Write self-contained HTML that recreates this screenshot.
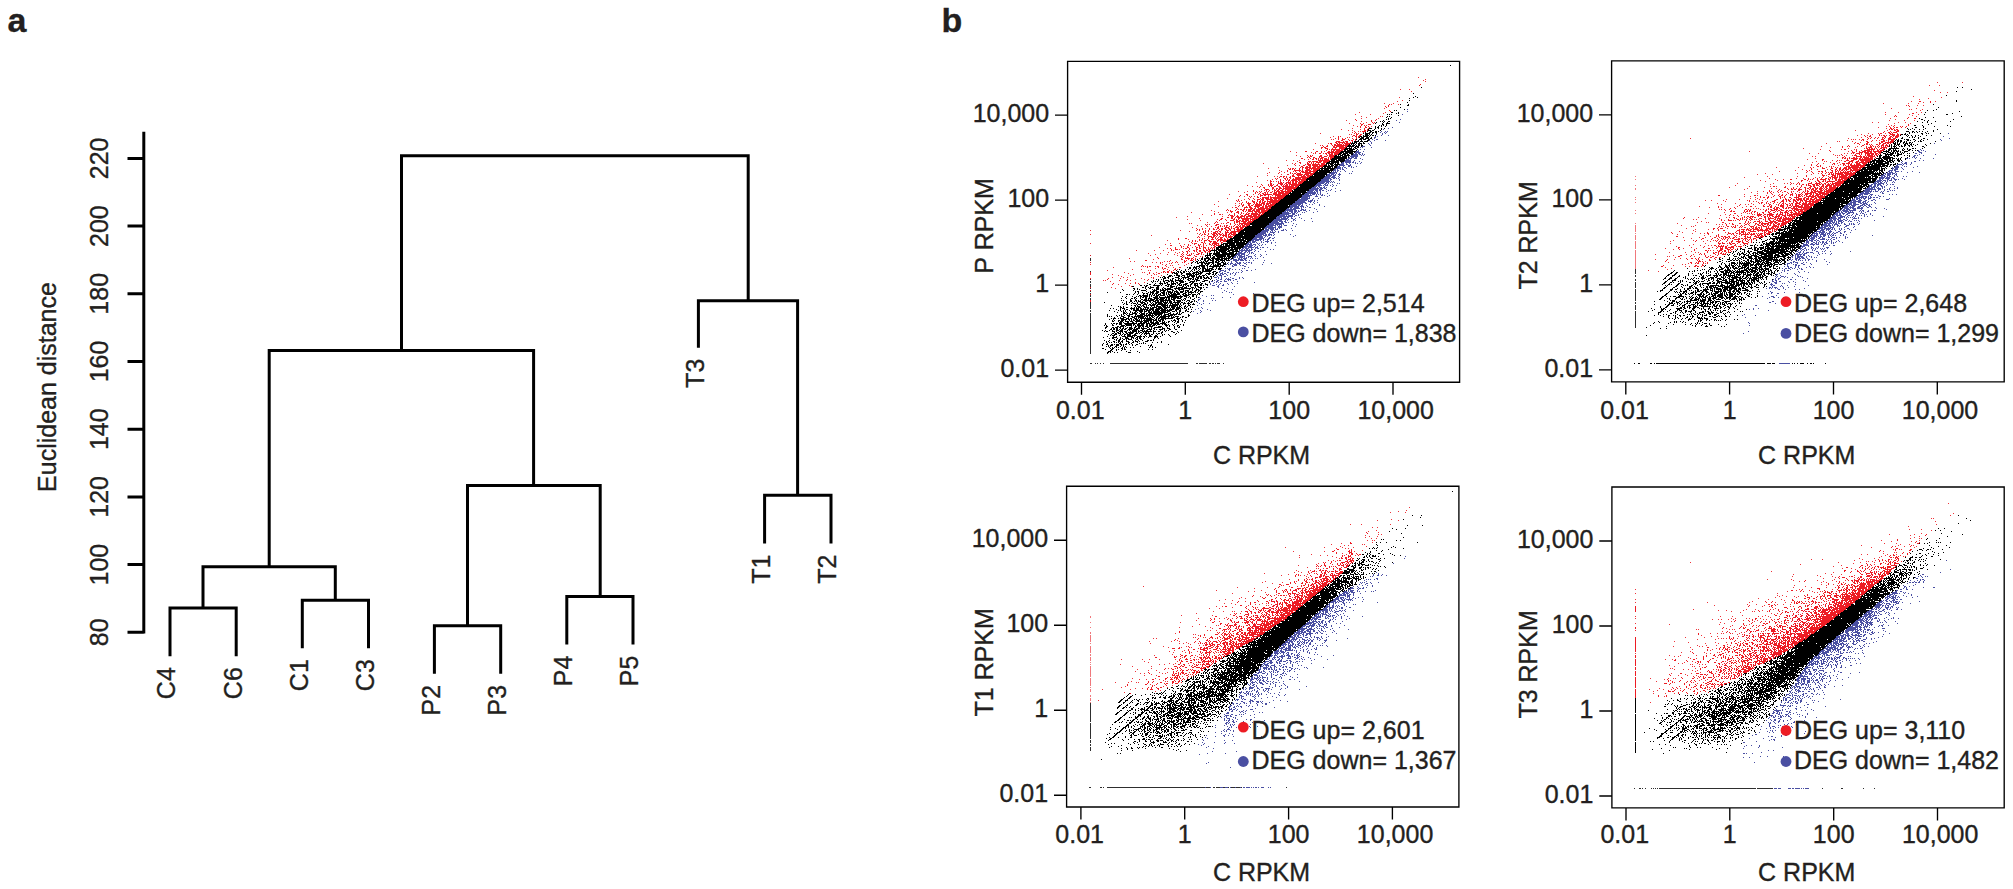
<!DOCTYPE html><html><head><meta charset="utf-8"><title>Figure</title><style>html,body{margin:0;padding:0;background:#fff}svg{display:block}text{font-family:"Liberation Sans",Arial,Helvetica,sans-serif;fill:#231f20;stroke:#231f20;stroke-width:0.35px}</style></head><body>
<svg width="2013" height="889" viewBox="0 0 2013 889">
<rect width="2013" height="889" fill="#fff"/>
<text x="7.5" y="32.3" font-size="34" font-weight="bold" fill="#000" stroke="none">a</text>
<text x="941.5" y="32.3" font-size="34" font-weight="bold" fill="#000" stroke="none">b</text>
<path d="M143.8 131.8V633.5M127.5 632.3H143.8M127.5 564.6H143.8M127.5 496.9H143.8M127.5 429.2H143.8M127.5 361.5H143.8M127.5 293.8H143.8M127.5 226.1H143.8M127.5 158.4H143.8M401.5 350.4L401.5 155.8L748.2 155.8L748.2 300.8M269.2 566.7L269.2 350.4L533.6 350.4L533.6 485.6M698.4 347.7L698.4 300.8L797.6 300.8L797.6 495.3M203 608L203 566.7L335.3 566.7L335.3 600.2M170 656.2L170 608L236.2 608L236.2 656.2M302.3 648.2L302.3 600.2L368.5 600.2L368.5 648.2M467.5 625.8L467.5 485.6L600.2 485.6L600.2 596.4M434.4 673.8L434.4 625.8L500.7 625.8L500.7 673.8M566.8 644.6L566.8 596.4L633 596.4L633 644.6M764.6 543.5L764.6 495.3L831 495.3L831 543.5" fill="none" stroke="#000" stroke-width="3.0" stroke-linecap="butt" stroke-linejoin="miter"/>
<text transform="translate(108 632.3) rotate(-90)" font-size="25" text-anchor="middle">80</text>
<text transform="translate(108 564.6) rotate(-90)" font-size="25" text-anchor="middle">100</text>
<text transform="translate(108 496.9) rotate(-90)" font-size="25" text-anchor="middle">120</text>
<text transform="translate(108 429.2) rotate(-90)" font-size="25" text-anchor="middle">140</text>
<text transform="translate(108 361.5) rotate(-90)" font-size="25" text-anchor="middle">160</text>
<text transform="translate(108 293.8) rotate(-90)" font-size="25" text-anchor="middle">180</text>
<text transform="translate(108 226.1) rotate(-90)" font-size="25" text-anchor="middle">200</text>
<text transform="translate(108 158.4) rotate(-90)" font-size="25" text-anchor="middle">220</text>
<text transform="translate(56 387) rotate(-90)" font-size="25" text-anchor="middle">Euclidean distance</text>
<text transform="translate(175.3 667.2) rotate(-90)" font-size="25" text-anchor="end">C4</text>
<text transform="translate(241.5 667.2) rotate(-90)" font-size="25" text-anchor="end">C6</text>
<text transform="translate(307.6 659.2) rotate(-90)" font-size="25" text-anchor="end">C1</text>
<text transform="translate(373.8 659.2) rotate(-90)" font-size="25" text-anchor="end">C3</text>
<text transform="translate(439.7 684.8) rotate(-90)" font-size="25" text-anchor="end">P2</text>
<text transform="translate(506.0 684.8) rotate(-90)" font-size="25" text-anchor="end">P3</text>
<text transform="translate(572.1 655.6) rotate(-90)" font-size="25" text-anchor="end">P4</text>
<text transform="translate(638.3 655.6) rotate(-90)" font-size="25" text-anchor="end">P5</text>
<text transform="translate(703.7 358.7) rotate(-90)" font-size="25" text-anchor="end">T3</text>
<text transform="translate(769.9 554.5) rotate(-90)" font-size="25" text-anchor="end">T1</text>
<text transform="translate(836.3 554.5) rotate(-90)" font-size="25" text-anchor="end">T2</text>
<g transform="translate(0 0.5)" fill="none" stroke-width="1" shape-rendering="crispEdges">
<path d="M1090 255h1M1090 258h1M1090 259h1M1090 260h1M1090 262h1M1090 271h1M1090 272h1M1090 273h1M1090 274h1M1090 278h1M1090 279h1M1090 281h1M1090 282h1M1090 284h1M1090 285h1M1090 286h1M1090 287h1M1090 288h1M1090 290h1M1090 291h1M1090 293h1M1090 294h1M1090 295h1M1090 296h1M1090 298h1M1090 299h1M1090 300h1M1090 302h1M1090 303h1M1090 304h1M1090 305h1M1090 306h1M1090 307h1M1090 308h1M1090 310h1M1090 311h1M1090 313h1M1090 314h1M1090 315h1M1090 316h1M1090 317h1M1090 318h1M1090 319h1M1090 320h1M1090 321h1M1090 322h1M1090 323h1M1090 324h1M1090 325h1M1090 326h1M1090 327h1M1090 328h1M1090 329h1M1090 330h1M1090 331h1M1090 332h1M1090 333h1M1090 334h1M1090 335h1M1090 336h1M1090 337h1M1090 338h1M1090 339h1M1090 340h1M1090 341h1M1090 342h1M1090 343h1M1090 344h1M1090 345h1M1090 346h1M1090 347h1M1090 348h1M1090 349h1M1090 350h1M1090 351h1M1090 352h1M1090 353h1M1090 363h2m3 0h1m1 0h1m2 0h1m2 0h1m6 0h78m8 0h2m1 0h8m2 0h2m1 0h2m1 0h1m1 0h3m3 0h1" stroke="#2e2e2e"/>
<path d="M1420 84h1M1419 85h1M1389 104h1M1388 105h1M1385 106h1m2 0h1M1386 107h1M1389 110h1M1390 111h1M1355 119h1m20 0h1M1356 120h1m14 0h1m3 0h1M1371 121h1M1372 122h1m1 0h1M1360 123h1m2 0h1m9 0h1M1361 124h2m5 0h3M1361 125h1m2 0h1m1 0h1M1360 126h1m4 0h1m2 0h1M1360 127h1m4 0h2m2 0h1M1364 128h1m3 0h1M1364 129h1m2 0h1M1364 130h2m1 0h1M1354 131h1m7 0h4M1355 132h1m7 0h1M1354 133h1m1 0h1m1 0h1M1356 134h2m2 0h2M1353 135h2m1 0h1m2 0h2M1338 136h1m13 0h1m2 0h2m1 0h2M1338 137h1m17 0h1m1 0h1M1338 138h1m3 0h1m2 0h1m6 0h1m3 0h1M1338 139h1m3 0h3m3 0h1m4 0h1m1 0h1M1341 140h2m6 0h1m1 0h2m2 0h1M1336 141h4m3 0h1m1 0h3m4 0h1M1335 142h2m1 0h7m1 0h2m2 0h1M1330 143h2m4 0h2m1 0h1m2 0h1m1 0h7M1331 144h1m2 0h2m1 0h5m1 0h1m1 0h4M1322 145h1m4 0h1m4 0h1m1 0h14M1323 146h1m2 0h2m5 0h2m1 0h8m1 0h2M1321 147h2m1 0h2m7 0h4m2 0h7M1321 148h1m3 0h3m4 0h1m2 0h1m3 0h6M1327 149h1m3 0h9m1 0h3M1326 150h1m4 0h1m1 0h2m1 0h7M1305 151h2m9 0h2m3 0h1m6 0h2m1 0h3m1 0h6M1315 152h1m5 0h1m5 0h13M1315 153h1m3 0h2m4 0h2m1 0h2m1 0h2m1 0h5M1326 154h1m2 0h4m1 0h4M1307 155h1m2 0h1m1 0h1m7 0h2m5 0h1m1 0h6M1308 156h1m1 0h2m7 0h3m2 0h3m2 0h5M1307 157h1m1 0h1m3 0h2m4 0h1m1 0h3m4 0h1m1 0h4M1301 158h2m7 0h1m2 0h1m1 0h2m1 0h1m1 0h3m1 0h3m1 0h1m1 0h2M1312 159h2m2 0h1m1 0h1m1 0h1m1 0h1m1 0h5m1 0h1M1318 160h12M1308 161h3m1 0h6m1 0h3m1 0h6M1299 162h2m6 0h1m1 0h1m1 0h1m1 0h1m2 0h5m2 0h4M1295 163h1m4 0h1m6 0h2m2 0h1m1 0h1m1 0h1m2 0h1m2 0h4M1294 164h1m10 0h1m1 0h4m1 0h8m1 0h5M1295 165h1m7 0h2m3 0h3m1 0h6m1 0h5M1301 166h2m3 0h2m1 0h2m2 0h10M1300 167h1m1 0h2m1 0h6m1 0h4m1 0h3m1 0h1M1288 168h1m1 0h1m1 0h2m1 0h1m3 0h1m2 0h1m2 0h3m1 0h11M1289 169h2m1 0h1m1 0h1m4 0h1m2 0h1m3 0h4m1 0h1m1 0h6M1287 170h1m6 0h7m1 0h1m2 0h6m2 0h4M1287 171h1m5 0h1m1 0h1m3 0h1m1 0h3m1 0h3m1 0h7M1279 172h1m10 0h1m5 0h1m3 0h1m1 0h9m2 0h2M1278 173h1m11 0h1m1 0h1m1 0h2m1 0h4m4 0h9M1287 174h2m4 0h1m2 0h7m1 0h5m1 0h3M1292 175h2m3 0h5m1 0h2m1 0h6M1280 176h2m1 0h2m1 0h1m3 0h1m1 0h3m3 0h1m2 0h5m1 0h3M1279 177h1m3 0h1m2 0h1m2 0h2m4 0h14M1275 178h1m1 0h1m6 0h2m1 0h1m2 0h1m2 0h1m1 0h6m1 0h5M1276 179h1m3 0h1m4 0h1m1 0h1m1 0h1m2 0h14M1270 180h1m9 0h1m5 0h1m1 0h2m1 0h6m1 0h2m1 0h5M1270 181h2m6 0h1m1 0h1m7 0h1m1 0h1m1 0h2m1 0h3m1 0h5M1270 182h1m7 0h1m1 0h2m1 0h1m2 0h5m1 0h2m1 0h2m1 0h5M1270 183h2m6 0h5m2 0h2m1 0h3m1 0h5m1 0h4M1261 184h1m6 0h1m1 0h2m1 0h1m3 0h1m2 0h3m1 0h1m1 0h2m1 0h11M1262 185h1m5 0h1m1 0h3m3 0h2m3 0h1m1 0h1m1 0h3m1 0h1m1 0h8M1260 186h1m8 0h1m1 0h1m2 0h2m2 0h2m2 0h12m1 0h3M1259 187h1m3 0h2m7 0h2m5 0h2m2 0h1m1 0h12M1264 188h1m7 0h2m2 0h2m1 0h3m1 0h13M1265 189h4m3 0h1m1 0h1m1 0h1m1 0h2m2 0h2m1 0h7m1 0h1M1253 190h1m10 0h1m1 0h1m2 0h1m4 0h2m1 0h2m1 0h3m2 0h1m1 0h5M1253 191h1m2 0h1m2 0h1m1 0h1m4 0h1m1 0h1m3 0h1m1 0h1m1 0h4m1 0h11M1255 192h1m1 0h1m2 0h1m3 0h2m1 0h1m2 0h2m2 0h3m1 0h6m1 0h5M1255 193h1m3 0h1m2 0h2m1 0h1m1 0h1m5 0h4m1 0h11M1246 194h2m10 0h1m1 0h1m2 0h9m1 0h8m1 0h6M1240 195h1m6 0h1m12 0h3m1 0h2m2 0h1m3 0h1m2 0h11M1239 196h1m9 0h1m1 0h1m5 0h1m2 0h1m7 0h1m1 0h1m4 0h1m1 0h8M1250 197h1m6 0h2m3 0h7m1 0h14M1248 198h1m4 0h1m6 0h1m1 0h2m1 0h4m1 0h2m1 0h10M1238 199h1m10 0h1m4 0h1m2 0h3m1 0h3m2 0h7m1 0h3m1 0h3M1236 200h1m1 0h1m13 0h1m4 0h1m2 0h1m1 0h2m3 0h1m2 0h10M1237 201h1m1 0h1m6 0h1m5 0h3m2 0h1m1 0h2m1 0h1m1 0h2m1 0h12M1242 202h1m3 0h1m1 0h1m4 0h2m1 0h1m2 0h2m1 0h3m2 0h1m1 0h9M1241 203h1m5 0h4m3 0h1m1 0h2m1 0h1m1 0h4m1 0h5m1 0h4M1241 204h1m1 0h1m4 0h2m3 0h1m1 0h7m1 0h2m1 0h3m1 0h5M1239 205h1m2 0h2m4 0h2m1 0h2m2 0h7m1 0h1m1 0h2m1 0h6M1238 206h1m3 0h1m3 0h1m2 0h2m3 0h6m2 0h2m1 0h7M1235 207h2m7 0h4m1 0h3m3 0h1m1 0h2m1 0h4m1 0h3m1 0h2M1237 208h1m6 0h1m5 0h3m1 0h2m2 0h13M1227 209h1m8 0h1m1 0h1m1 0h2m1 0h2m1 0h1m1 0h4m1 0h2m1 0h9m1 0h3M1226 210h1m1 0h1m1 0h1m4 0h1m6 0h2m2 0h1m1 0h3m1 0h3m1 0h4m1 0h7M1230 211h3m4 0h2m4 0h1m1 0h1m2 0h5m1 0h6m1 0h6M1231 212h1m4 0h3m2 0h1m5 0h1m4 0h1m2 0h2m1 0h7M1214 213h1m19 0h1m3 0h1m2 0h1m4 0h1m1 0h2m1 0h7m1 0h2m1 0h2M1214 214h1m4 0h2m8 0h1m4 0h1m5 0h1m4 0h4m2 0h9m1 0h2M1228 215h1m1 0h3m1 0h1m2 0h1m3 0h2m1 0h2m2 0h4m1 0h4m1 0h3M1231 216h3m2 0h3m1 0h5m1 0h14M1227 217h2m2 0h2m2 0h1m1 0h5m2 0h1m1 0h2m2 0h3m1 0h5M1221 218h2m8 0h2m1 0h1m3 0h2m1 0h10m1 0h6M1220 219h2m3 0h1m7 0h2m1 0h1m1 0h1m3 0h7m1 0h6M1219 220h1m6 0h1m3 0h4m2 0h2m1 0h2m1 0h2m1 0h4m1 0h1m1 0h2M1216 221h1m17 0h1m1 0h4m1 0h6m1 0h5M1215 222h1m1 0h1m9 0h2m5 0h1m1 0h2m1 0h1m3 0h3m1 0h5M1214 223h1m11 0h1m3 0h1m3 0h1m4 0h11M1205 224h1m1 0h1m8 0h3m11 0h1m4 0h1m1 0h1m1 0h1m1 0h2m1 0h6M1206 225h1m8 0h2m3 0h1m3 0h1m1 0h2m6 0h1m3 0h1m1 0h1m1 0h3m1 0h3M1207 226h1m10 0h1m1 0h1m3 0h1m1 0h1m2 0h1m1 0h1m1 0h1m2 0h2m1 0h2m1 0h5M1217 227h2m6 0h4m2 0h1m3 0h4m1 0h4M1196 228h1m5 0h1m6 0h1m3 0h1m3 0h2m2 0h2m1 0h2m2 0h2m1 0h1m1 0h2m2 0h2m1 0h3M1197 229h1m1 0h1m2 0h1m6 0h1m3 0h2m1 0h1m2 0h1m1 0h2m2 0h2m2 0h2m3 0h1m1 0h7M1196 230h1m2 0h1m5 0h1m2 0h1m9 0h1m2 0h1m4 0h3m1 0h1m3 0h1m2 0h4M1203 231h1m1 0h1m2 0h1m6 0h3m1 0h2m4 0h1m1 0h1m3 0h9M1203 232h1m1 0h1m7 0h3m1 0h1m2 0h1m4 0h4m1 0h6m2 0h1M1200 233h1m3 0h1m3 0h1m2 0h1m1 0h4m1 0h2m2 0h1m2 0h2m2 0h3m1 0h3M1199 234h1m2 0h1m1 0h2m2 0h1m3 0h3m1 0h2m1 0h3m1 0h1m1 0h2m1 0h2m1 0h5M1201 235h1m5 0h1m5 0h3m1 0h1m2 0h1m1 0h5m1 0h1m1 0h1m2 0h2M1198 236h1m9 0h4m1 0h2m1 0h1m2 0h1m3 0h1m1 0h2m1 0h5M1197 237h1m1 0h1m8 0h1m2 0h3m1 0h1m2 0h1m1 0h3m3 0h1m1 0h4M1178 238h1m6 0h2m15 0h1m5 0h1m3 0h1m2 0h1m1 0h1m2 0h2m2 0h1m2 0h1M1178 239h1m20 0h1m2 0h1m4 0h1m3 0h3m2 0h1m1 0h5m1 0h2m1 0h2M1192 240h1m2 0h1m3 0h1m1 0h1m2 0h3m1 0h2m7 0h2m1 0h7M1192 241h1m2 0h1m8 0h1m4 0h3m1 0h3m1 0h1m2 0h1m2 0h3M1191 242h1m9 0h2m1 0h1m5 0h1m2 0h4m4 0h2M1192 243h1m1 0h3m6 0h1m1 0h1m3 0h1m2 0h7m2 0h1M1188 244h1m5 0h1m3 0h1m1 0h1m2 0h1m5 0h2m1 0h1m1 0h3m1 0h1M1170 245h2m8 0h1m7 0h1m9 0h2m3 0h1m7 0h1m1 0h2m1 0h4M1181 246h1m5 0h1m7 0h1m3 0h1m3 0h1m10 0h2M1175 247h1m5 0h1m5 0h2m7 0h2m1 0h1m3 0h3m2 0h1m2 0h1m1 0h2M1170 248h1m4 0h1m9 0h2m2 0h1m6 0h1m2 0h2m2 0h1m1 0h1m2 0h1m1 0h1m1 0h1m1 0h1M1171 249h1m3 0h3m11 0h1m6 0h2m5 0h1m2 0h1m1 0h2m2 0h1M1171 250h1m16 0h1m4 0h2m1 0h1m2 0h2m2 0h2m1 0h2m1 0h2M1182 251h1m3 0h2m1 0h1m4 0h1m1 0h1m2 0h2m3 0h2m2 0h2M1183 252h1m3 0h1m9 0h1m3 0h2m2 0h1m1 0h1m1 0h1M1182 253h1m4 0h1m3 0h1m6 0h2m1 0h1M1181 254h1m1 0h1m2 0h1m2 0h1m1 0h1m4 0h3m2 0h1M1182 255h1m4 0h4m3 0h1M1180 256h2m1 0h1m11 0h2m5 0h1M1157 257h1m24 0h1m2 0h1m1 0h1m5 0h1M1158 258h1m22 0h1m3 0h5m1 0h2m2 0h1M1181 259h2m5 0h1m2 0h1m1 0h1m1 0h1M1145 260h2m23 0h1m13 0h1m1 0h1m3 0h3m2 0h1M1169 261h1m6 0h1m7 0h2M1160 262h1m11 0h1m2 0h1m1 0h1m6 0h1m6 0h1M1160 263h1m10 0h1M1166 264h1M1142 265h1m22 0h1M1141 266h1m1 0h1m3 0h1m1 0h2m6 0h2m7 0h1M1147 267h1m10 0h1m3 0h1m16 0h2M1162 268h1m1 0h2m9 0h1M1163 269h1m10 0h2m1 0h1M1169 270h1m3 0h1M1163 271h2m2 0h2m2 0h1M1090 272h1m58 0h1m13 0h1m1 0h1m1 0h2m2 0h2M1090 273h1m58 0h1m3 0h1m4 0h2M1090 274h1m63 0h1M1153 277h1M1090 278h1m17 0h1m44 0h1M1107 279h1m19 0h1m20 0h1M1126 280h1m20 0h1M1135 282h1M1113 283h1m21 0h1m2 0h1M1112 284h1m26 0h1M1131 286h1M1090 287h1M1090 290h1M1090 294h1M1090 300h1M1090 301h1" stroke="#ed1c24"/>
<path d="M1418 77h1M1425 79h1M1423 80h1M1425 81h1M1400 89h1m8 0h1M1411 91h1M1399 97h1M1402 100h1M1397 101h1M1384 103h1m8 0h1M1391 104h1m6 0h1M1384 108h1M1359 112h1m25 0h1M1383 113h1M1355 114h1m14 0h1M1361 116h1m18 0h1m1 0h1M1366 117h1M1361 118h1m16 0h1M1346 120h1M1361 121h1M1366 122h1M1349 123h1M1353 125h1M1357 126h1m13 0h1M1352 128h1M1341 129h1m18 0h1M1348 130h1m3 0h1M1358 131h1m1 0h1M1352 132h1M1320 133h1M1349 134h1m1 0h1M1333 136h1m6 0h1M1330 137h1m16 0h1m1 0h1M1335 138h1M1331 139h1m1 0h1M1315 143h1m12 0h1M1320 145h1M1313 149h1m15 0h1M1290 151h1m33 0h1M1296 152h1m14 0h1M1313 153h1m9 0h1M1296 155h1M1300 156h1M1304 159h1m3 0h1M1286 160h1m6 0h1m5 0h1M1297 161h1M1263 163h1m28 0h1M1287 165h1m11 0h1M1278 167h1M1268 168h1M1279 170h1M1281 171h1M1269 172h1m14 0h1M1267 173h1M1281 174h1M1267 175h1M1257 176h1m16 0h1m2 0h1M1272 179h1M1267 180h1m15 0h1M1273 181h1m2 0h1M1256 182h1M1247 185h1M1252 186h1m4 0h1M1261 189h1M1238 191h1m8 0h1M1244 192h1M1229 194h1m23 0h1M1244 196h1m9 0h1M1227 198h1M1244 199h1M1241 200h1M1218 201h1M1235 203h1m3 0h1M1214 204h1M1235 205h1M1218 206h1M1232 207h1M1211 210h1M1214 211h1M1191 212h1m26 0h1m8 0h1M1243 213h1M1202 214h1m19 0h1M1211 215h1M1187 216h1m34 0h1M1176 217h1M1199 218h1M1187 219h1m29 0h1M1200 220h1M1207 222h1M1189 223h1m1 0h1m29 0h1m1 0h1M1209 224h1M1197 225h1M1201 226h1m9 0h1m10 0h1M1192 227h1m22 0h1M1205 228h1M1090 230h1m89 0h1M1189 231h1m21 0h1M1197 233h1M1090 234h1M1151 235h1M1204 236h1M1204 238h1M1188 239h1M1167 240h1M1189 241h1m7 0h1M1090 243h1m79 0h1m8 0h1M1165 244h1m18 0h1M1190 245h1m15 0h1M1183 246h1m17 0h1M1159 247h1m32 0h1M1167 248h1m15 0h1M1179 249h1M1136 250h1m17 0h1m8 0h1m9 0h1M1168 252h1m6 0h1m3 0h1M1148 253h1m11 0h1m16 0h1m15 0h1M1155 254h1m11 0h1m6 0h1m28 0h1M1090 255h1m59 0h1m26 0h1M1200 256h1M1129 258h1m69 0h1M1153 259h1M1130 261h1m3 0h1m29 0h1m2 0h1M1090 262h1m61 0h1m3 0h1m5 0h1m19 0h1M1169 263h1m18 0h1M1090 264h1m71 0h1m15 0h1m7 0h1M1170 265h1m1 0h1m11 0h1M1145 266h1m9 0h1M1113 267h1m54 0h1m4 0h1M1155 268h1M1132 269h1m8 0h1m25 0h1M1107 270h1m40 0h1m1 0h1M1124 272h1m17 0h1m1 0h1m11 0h1m4 0h1M1128 273h1M1112 274h1m20 0h1m13 0h1m8 0h1M1118 275h1m11 0h1m20 0h1m9 0h1M1121 276h1m36 0h1M1112 277h1m10 0h1m3 0h1m23 0h1M1120 278h1m20 0h1M1135 279h1m8 0h1M1103 280h1m1 0h1m13 0h1m10 0h1M1110 281h1M1144 282h1M1125 283h1m4 0h1M1118 284h1M1129 285h1M1121 286h1M1111 287h1M1115 288h1" stroke="#ed1c24" stroke-opacity="0.9"/>
<path d="M1383 129h1M1381 131h1m3 0h1m1 0h1M1380 132h1m3 0h1m1 0h1M1382 133h1m2 0h1M1376 134h1m5 0h1M1381 135h1M1375 136h1M1374 137h2M1374 138h1M1372 139h1m3 0h2M1369 140h1M1370 141h1M1371 142h1M1368 143h1m2 0h1M1369 144h1M1370 145h1M1362 146h3M1360 147h1m1 0h1M1358 150h1M1356 151h3M1355 152h6M1353 153h1m1 0h2m1 0h2m2 0h1M1353 154h5m1 0h2m1 0h1m1 0h1M1351 155h7m3 0h1m1 0h1M1350 156h8M1349 157h1m1 0h3m1 0h2M1348 158h4m2 0h3M1346 159h3m1 0h1M1345 160h6m3 0h1M1344 161h7m2 0h1M1342 162h2m1 0h6m1 0h2m1 0h1m5 0h1M1341 163h3m2 0h1m2 0h1m5 0h1m4 0h1M1340 164h4m2 0h2m2 0h1M1339 165h6m3 0h3M1337 166h3m3 0h1m4 0h2m1 0h1M1337 167h4m1 0h1m1 0h2m5 0h1M1335 168h6m1 0h1m3 0h1M1334 169h2m1 0h1m2 0h1m1 0h2M1333 170h3m1 0h2m5 0h1M1333 171h1m1 0h1m1 0h1m7 0h1M1331 172h6M1329 173h6m1 0h1m2 0h1M1327 174h3m1 0h3m1 0h1m2 0h3M1327 175h5m1 0h3m3 0h1M1325 176h6m1 0h3m3 0h1M1324 177h6m1 0h5m3 0h1M1323 178h8m2 0h2m1 0h1m1 0h1M1321 179h8m1 0h2m7 0h1M1321 180h8m1 0h1m8 0h1M1320 181h10m1 0h1m1 0h1M1318 182h7m1 0h3m1 0h1m1 0h1m1 0h1M1317 183h7m1 0h2m1 0h1M1316 184h5m3 0h2m1 0h1m4 0h1M1315 185h7m1 0h1m1 0h3m5 0h1M1314 186h3m1 0h2m4 0h1m7 0h1M1312 187h4m1 0h1m1 0h3m1 0h2m1 0h1M1311 188h8m1 0h3m1 0h2M1309 189h9m1 0h3m4 0h1m4 0h1M1309 190h5m1 0h3m1 0h2m1 0h2m6 0h1M1307 191h6m1 0h1m1 0h2m2 0h1M1307 192h9m1 0h1m2 0h1M1305 193h11m1 0h1m2 0h1M1304 194h5m1 0h1m1 0h3m1 0h1m1 0h1m1 0h1m1 0h1M1302 195h10m4 0h1m4 0h2M1302 196h8m5 0h3M1301 197h7m1 0h1M1299 198h1m1 0h9m3 0h1M1298 199h10m4 0h1M1297 200h10m1 0h1m1 0h3m1 0h1M1295 201h10m3 0h4m2 0h1M1295 202h11m4 0h1m2 0h1M1293 203h10m2 0h2m7 0h1M1292 204h9m1 0h1m16 0h1M1290 205h7m1 0h2m1 0h2m3 0h1m12 0h1M1290 206h9m1 0h4m3 0h1M1289 207h4m1 0h5m2 0h1m1 0h1m5 0h2M1287 208h2m1 0h2m1 0h7m1 0h1M1286 209h10m5 0h3m1 0h1M1285 210h8m1 0h3m1 0h1m1 0h2m1 0h3M1284 211h2m1 0h1m1 0h4m1 0h3m1 0h2m6 0h1M1282 212h7m2 0h2m1 0h2m1 0h1M1282 213h9m1 0h3m1 0h1M1280 214h9m3 0h3m3 0h1M1279 215h6m1 0h1m1 0h5m2 0h2m1 0h1M1277 216h16m1 0h1M1276 217h6m1 0h3m1 0h2m2 0h1M1276 218h4m1 0h7m3 0h2m2 0h1M1274 219h13m1 0h1m4 0h2M1273 220h9m3 0h1m1 0h1m5 0h1m1 0h1M1272 221h6m1 0h4m1 0h2M1271 222h8m2 0h2m2 0h2M1269 223h15M1269 224h5m1 0h7m1 0h1M1267 225h9m1 0h1m1 0h1m1 0h1m2 0h3M1266 226h7m2 0h1m2 0h4M1265 227h11m2 0h4M1264 228h3m1 0h6m1 0h1m1 0h1m1 0h1M1265 229h4m1 0h4m1 0h3m5 0h1m1 0h1M1262 230h7m2 0h2m1 0h1m6 0h3m2 0h1M1261 231h7m2 0h1m1 0h1m2 0h1m2 0h1M1260 232h6m1 0h1m2 0h5m3 0h1M1258 233h8m3 0h1m3 0h1M1257 234h7m1 0h2m1 0h4m2 0h1M1255 235h7m1 0h4m1 0h2m1 0h1m1 0h1M1255 236h8m2 0h1m1 0h1M1254 237h9m1 0h1m4 0h2m3 0h1M1253 238h4m2 0h5m4 0h2m2 0h2M1252 239h10m1 0h1m3 0h2M1251 240h3m1 0h4m1 0h1m2 0h1m3 0h1M1249 241h2m1 0h4m5 0h1m3 0h4M1248 242h3m1 0h3m1 0h1m4 0h1m5 0h1m3 0h1M1247 243h2m1 0h2m5 0h1m1 0h1m11 0h1M1246 244h6m1 0h3m2 0h1m3 0h1M1245 245h3m1 0h4m2 0h1m3 0h1m1 0h1M1244 246h8m2 0h1m2 0h1M1243 247h4m1 0h6m1 0h3m4 0h2M1242 248h2m1 0h4m2 0h1m3 0h1m1 0h2M1241 249h2m1 0h1m1 0h2m1 0h1m1 0h2m1 0h1M1239 250h13m3 0h1M1239 251h1m1 0h2m2 0h2m1 0h2m4 0h1M1238 252h4m2 0h2m1 0h1m1 0h1m1 0h2M1237 253h8m4 0h1m1 0h1m1 0h1M1236 254h4m1 0h4m3 0h1m6 0h1m4 0h1M1235 255h2m1 0h4m2 0h1m1 0h2m6 0h1m6 0h1M1234 256h2m1 0h1m1 0h6m3 0h4m3 0h1m4 0h1M1233 257h3m1 0h1m1 0h4m1 0h1m1 0h1m1 0h1m2 0h1M1233 258h1m4 0h2m1 0h1m1 0h4m3 0h1m1 0h1M1230 259h2m1 0h4m1 0h5m1 0h2M1233 260h6m1 0h4m1 0h2M1231 261h1m3 0h2M1228 262h1m2 0h1m4 0h2m1 0h2m2 0h1m2 0h1m1 0h2m1 0h1M1230 263h3m2 0h1m1 0h4m3 0h2m5 0h1M1226 264h1m1 0h1m1 0h1m2 0h4m2 0h1m6 0h1M1232 265h1m1 0h3m3 0h1m1 0h2M1225 266h1m6 0h2m10 0h2M1227 268h1m1 0h2M1228 269h2M1220 270h4m1 0h1m3 0h1m11 0h1m4 0h2M1219 271h2m3 0h2m16 0h1M1219 272h1m2 0h1m4 0h2m4 0h1m2 0h1m4 0h1M1220 273h3m1 0h2m4 0h1m1 0h1m2 0h1M1218 274h1m1 0h1m1 0h2m2 0h1m3 0h1m4 0h1M1216 275h1m2 0h3m5 0h1m6 0h1M1217 276h1m3 0h1m2 0h2M1214 277h3m1 0h1m2 0h1m17 0h1m2 0h1M1218 278h1m2 0h1m4 0h1m1 0h1m3 0h2m5 0h1m3 0h1M1216 279h1m3 0h2m3 0h1m1 0h4m4 0h2M1217 280h2m5 0h1m3 0h1m1 0h1M1211 281h2m3 0h2m2 0h2m2 0h3M1214 282h1m1 0h1m1 0h1m12 0h1M1210 283h1m2 0h1m6 0h1m6 0h1m4 0h1M1210 284h1m8 0h1m3 0h1m4 0h1M1212 285h3m3 0h1m3 0h2M1217 286h2M1207 287h1m10 0h1M1199 297h1M1200 298h1M1198 299h2M1198 300h1m4 0h1M1203 301h1M1197 302h1M1201 307h1M1202 308h1M1200 310h1M1201 311h1M1200 312h1" stroke="#4a4fa2"/>
<path d="M1407 109h1M1407 111h1M1402 114h1M1400 119h1M1396 120h1M1399 122h1M1392 127h1M1388 128h1M1388 135h1M1377 136h1M1374 140h1m10 0h1M1371 147h1M1360 149h1m3 0h1M1363 151h1M1360 158h1M1362 159h1M1359 161h1M1357 163h1M1356 166h1M1353 167h1M1340 171h1m11 0h1M1349 173h1m1 0h1M1337 183h1m1 0h1M1330 185h1m5 0h1M1335 188h1M1328 190h1m11 0h1M1326 191h1m8 0h1M1327 193h1M1324 195h1m4 0h1M1327 196h1M1320 197h1M1318 198h1M1317 200h1M1317 202h1M1309 204h1m2 0h1M1324 206h1M1305 207h1M1314 208h1M1316 209h1M1309 210h1M1317 211h1M1302 212h1m1 0h1m8 0h1M1300 214h1M1299 217h1M1301 218h1m9 0h1M1304 220h1M1291 221h1m20 0h1M1288 222h1M1293 223h1M1296 224h1M1292 225h1M1295 226h1M1291 228h1M1292 230h1M1290 234h1M1295 235h1M1293 236h1M1265 239h1M1270 240h1m2 0h1M1263 242h1m11 0h1M1265 244h1M1275 245h1M1260 247h1m6 0h1M1260 249h1m9 0h1m2 0h1M1258 251h1m6 0h1M1266 254h1M1263 257h1M1255 258h1m1 0h1M1249 260h1m3 0h1m10 0h1M1263 262h1M1271 263h1M1262 264h1M1248 267h1M1225 268h1m16 0h1m1 0h1M1232 269h1m2 0h1m3 0h1m15 0h1M1251 270h1M1238 272h1M1230 277h1M1214 280h1m18 0h1M1237 281h1M1254 282h1M1237 283h1M1216 284h1M1234 286h1M1221 288h1m5 0h1M1232 289h1M1224 290h1M1226 291h1M1222 292h1m6 0h1m1 0h1M1253 293h1M1233 294h1M1202 295h1m8 0h1m1 0h1M1206 296h1M1222 297h1m7 0h1M1211 298h1m1 0h1M1212 300h1m2 0h1M1199 303h1m3 0h1m5 0h1M1201 304h1M1197 305h1M1198 308h1M1195 309h1m11 0h1M1210 310h1M1193 311h1M1197 313h1" stroke="#4a4fa2" stroke-opacity="1"/>
<path d="M1408 104h1M1407 105h2M1391 112h2m5 0h1M1398 113h1M1387 116h1M1386 117h1m4 0h1M1388 118h1m1 0h1M1388 119h1M1383 120h1M1382 121h1m1 0h1m3 0h2M1376 122h1m6 0h1m3 0h1M1375 123h1m6 0h1m3 0h4M1382 124h2m2 0h1M1379 125h1m1 0h1m1 0h1m2 0h1M1375 126h1m2 0h1m2 0h1m3 0h1M1375 127h1m1 0h2M1369 128h3m3 0h1m2 0h1m2 0h1m2 0h1M1368 129h1m5 0h1m6 0h1M1368 130h3m1 0h2m6 0h1M1367 131h1m2 0h2m3 0h2M1365 132h1m3 0h2m1 0h2m1 0h2M1363 133h1m1 0h5m2 0h1m3 0h1M1365 134h3m1 0h1m1 0h1M1363 135h1m1 0h4m1 0h1m1 0h2m1 0h1M1360 136h2m1 0h5m1 0h1M1359 137h1m1 0h3m2 0h3m2 0h1M1360 138h4m1 0h4m1 0h2M1356 139h1m2 0h3m1 0h3m2 0h2M1358 140h1m2 0h1m5 0h2M1354 141h5m1 0h3m1 0h4M1352 142h1m1 0h3m2 0h1m3 0h1M1351 143h4m1 0h1m1 0h4m1 0h2M1349 144h1m1 0h1m1 0h1m1 0h1m2 0h2m1 0h1M1348 145h3m1 0h3m1 0h1m1 0h2m1 0h2M1347 146h7m1 0h4m2 0h1M1346 147h1m2 0h1m1 0h1m2 0h2m1 0h2M1345 148h7m1 0h1m1 0h2M1344 149h4m1 0h6m2 0h1M1344 150h2m1 0h6m3 0h1M1341 151h15M1340 152h4m1 0h8m1 0h1M1339 153h3m1 0h5m1 0h4M1338 154h3m1 0h4m1 0h2m2 0h2M1335 155h2m1 0h1m1 0h3m1 0h6M1334 156h7m1 0h5m1 0h1M1334 157h13m1 0h1M1332 158h15M1331 159h6m1 0h7M1331 160h4m1 0h9M1329 161h10m1 0h4M1327 162h3m1 0h8m2 0h1M1326 163h8m1 0h1m1 0h2M1326 164h1m1 0h1m1 0h3m1 0h6M1324 165h3m1 0h2m1 0h3m1 0h3M1323 166h10m1 0h3M1322 167h1m1 0h2m1 0h4m1 0h1m1 0h3M1320 168h15M1319 169h1m1 0h2m1 0h5m1 0h4M1317 170h16M1316 171h2m1 0h11m1 0h1M1315 172h16M1314 173h13M1313 174h14M1312 175h1m1 0h11m1 0h1M1310 176h15M1309 177h15M1307 178h16M1306 179h15M1306 180h2m1 0h12M1304 181h16M1303 182h15M1302 183h15M1300 184h16M1299 185h16M1298 186h1m1 0h14M1297 187h15M1296 188h15M1294 189h15M1292 190h1m1 0h15M1292 191h14M1290 192h1m1 0h15M1289 193h12m1 0h3M1288 194h1m1 0h14M1286 195h16M1285 196h17M1284 197h17M1283 198h16M1281 199h17M1280 200h17M1279 201h16M1278 202h17M1276 203h17M1275 204h17M1274 205h14m1 0h1M1272 206h18M1271 207h18M1271 208h16M1269 209h17M1268 210h17M1267 211h17M1265 212h17M1264 213h18M1263 214h17M1261 215h18M1260 216h17M1259 217h9m1 0h7M1258 218h18M1256 219h18M1254 220h19M1253 221h19M1252 222h19M1250 223h19M1250 224h19M1249 225h1m2 0h15M1247 226h19M1245 227h20M1244 228h17m1 0h2M1243 229h21M1241 230h21M1240 231h4m1 0h16M1239 232h21M1238 233h20M1236 234h21M1235 235h8m1 0h11M1234 236h21M1233 237h21M1230 238h11m1 0h11M1229 239h4m1 0h10m1 0h7M1227 240h19m1 0h4M1226 241h7m1 0h5m1 0h2m1 0h6M1227 242h18m1 0h2M1223 243h12m1 0h11M1221 244h3m1 0h3m1 0h6m1 0h10M1220 245h2m1 0h1m1 0h19M1218 246h12m1 0h5m1 0h7M1216 247h11m1 0h15M1216 248h3m1 0h10m1 0h2m1 0h7M1214 249h1m1 0h13m1 0h8m1 0h1M1211 250h6m1 0h9m1 0h6m1 0h3M1210 251h1m3 0h1m1 0h2m1 0h7m1 0h3m2 0h7M1214 252h1m1 0h4m1 0h6m2 0h5m2 0h1M1207 253h1m1 0h3m1 0h7m2 0h12m1 0h2M1207 254h1m1 0h2m2 0h23M1205 255h6m1 0h1m2 0h11m1 0h3m1 0h4M1205 256h1m1 0h1m2 0h1m2 0h2m1 0h10m1 0h7M1202 257h1m3 0h3m1 0h1m1 0h3m2 0h6m1 0h1m1 0h1m1 0h3m1 0h1M1201 258h2m1 0h6m1 0h9m1 0h9m1 0h2M1197 259h1m3 0h2m1 0h2m2 0h3m1 0h2m1 0h8m1 0h3m1 0h1M1198 260h1m1 0h1m3 0h2m1 0h2m1 0h4m2 0h3m1 0h5m1 0h4M1193 261h1m2 0h2m3 0h1m1 0h1m1 0h3m4 0h2m1 0h2m1 0h2m2 0h1m1 0h1M1192 262h1m2 0h1m1 0h1m1 0h6m1 0h1m1 0h6m1 0h4m2 0h3m1 0h1M1191 263h1m5 0h2m2 0h2m1 0h6m2 0h2m3 0h4m2 0h3m1 0h1M1201 264h2m2 0h1m1 0h2m2 0h1m1 0h1m1 0h1m1 0h4m2 0h3M1199 265h6m1 0h2m2 0h1m2 0h6m1 0h4M1194 266h1m1 0h4m1 0h4m2 0h1m1 0h12m1 0h1m1 0h1M1189 267h2m2 0h4m2 0h1m2 0h3m2 0h1m4 0h2m2 0h1m2 0h1M1189 268h2m2 0h1m1 0h2m1 0h1m1 0h1m1 0h4m1 0h1m1 0h4m3 0h1m1 0h4M1185 269h1m2 0h1m3 0h1m1 0h1m1 0h1m2 0h1m2 0h2m1 0h5m1 0h3m1 0h1m2 0h3M1176 270h1m4 0h1m3 0h1m5 0h1m2 0h1m3 0h1m3 0h2m1 0h7M1177 271h2m1 0h1m2 0h2m1 0h1m1 0h1m1 0h1m1 0h1m3 0h2m1 0h2m1 0h9m2 0h3M1173 272h2m1 0h1m1 0h1m1 0h2m1 0h2m4 0h1m3 0h6m1 0h3m6 0h1m2 0h2m2 0h2M1172 273h1m1 0h4m3 0h2m3 0h5m1 0h3m1 0h1m1 0h4m4 0h5m2 0h1m1 0h2M1176 274h2m3 0h1m4 0h6m1 0h1m1 0h4m1 0h1m4 0h1m2 0h2m2 0h2m1 0h1M1169 275h3m4 0h4m2 0h3m2 0h1m1 0h6m1 0h1m2 0h1m2 0h3m1 0h1m7 0h1M1163 276h2m3 0h3m1 0h1m5 0h2m1 0h1m2 0h1m2 0h3m1 0h4m1 0h1m1 0h4m1 0h1m3 0h1m2 0h2m1 0h1M1162 277h1m1 0h2m1 0h2m6 0h4m3 0h7m3 0h2m2 0h3m1 0h2m1 0h2m1 0h3m2 0h1M1163 278h3m2 0h1m3 0h2m4 0h2m1 0h1m1 0h1m1 0h1m2 0h4m1 0h1m1 0h1m1 0h2m1 0h2m2 0h3m1 0h2m1 0h1M1158 279h1m4 0h1m6 0h1m1 0h1m2 0h1m2 0h1m1 0h1m2 0h1m3 0h2m1 0h1m1 0h2m1 0h3m5 0h1m6 0h1M1153 280h1m4 0h1m4 0h1m1 0h4m1 0h3m2 0h8m5 0h2m4 0h1m1 0h4m4 0h4m4 0h1M1151 281h1m1 0h1m3 0h1m2 0h1m2 0h2m3 0h2m1 0h3m1 0h1m3 0h5m6 0h5m1 0h1m5 0h3m4 0h1M1152 282h1m7 0h1m3 0h1m1 0h2m3 0h1m1 0h1m2 0h2m2 0h4m5 0h2m1 0h2m6 0h1m8 0h1M1155 283h1m3 0h4m1 0h2m1 0h1m3 0h5m1 0h1m1 0h2m4 0h3m3 0h2m1 0h4m1 0h1m1 0h2m2 0h1M1149 284h2m3 0h1m5 0h1m1 0h1m4 0h3m1 0h3m1 0h1m2 0h2m1 0h1m1 0h4m3 0h2m2 0h2m1 0h1m2 0h2m3 0h3M1140 285h2m2 0h1m1 0h2m5 0h7m1 0h1m3 0h2m1 0h1m1 0h2m5 0h1m1 0h3m1 0h1m1 0h1m1 0h2m1 0h1m3 0h4m2 0h2m5 0h1M1132 286h2m11 0h2m3 0h1m6 0h2m8 0h2m1 0h5m1 0h1m5 0h2m2 0h1m1 0h1m1 0h1m4 0h1m1 0h2M1142 287h2m1 0h1m2 0h1m1 0h4m2 0h3m4 0h1m6 0h3m3 0h1m1 0h5m1 0h3m4 0h3m1 0h1m2 0h4m4 0h1M1133 288h2m2 0h1m7 0h1m3 0h2m5 0h3m3 0h1m1 0h2m1 0h4m3 0h6m1 0h10m1 0h1m1 0h1m1 0h1m3 0h2M1122 289h1m11 0h1m2 0h1m8 0h1m5 0h1m1 0h1m1 0h3m1 0h1m1 0h2m1 0h8m2 0h1m2 0h6m5 0h1m2 0h1m3 0h3m1 0h1M1123 290h1m9 0h1m7 0h5m7 0h4m3 0h6m1 0h1m4 0h2m2 0h1m2 0h1m3 0h1m1 0h4m3 0h1m2 0h2m1 0h2M1135 291h1m1 0h2m7 0h1m3 0h1m1 0h3m1 0h3m1 0h1m2 0h2m2 0h4m1 0h1m1 0h4m2 0h4m1 0h1m1 0h2m1 0h2m2 0h2m2 0h1m1 0h3M1135 292h1m2 0h1m3 0h1m5 0h1m1 0h4m2 0h3m2 0h4m1 0h1m1 0h5m1 0h1m1 0h3m1 0h3m2 0h2m1 0h6m1 0h1m1 0h1m2 0h1M1134 293h1m3 0h1m4 0h2m1 0h2m2 0h1m1 0h2m1 0h3m2 0h1m1 0h3m1 0h1m1 0h1m1 0h2m1 0h3m1 0h3m3 0h3m2 0h1m2 0h1m6 0h2M1126 294h2m5 0h1m3 0h1m5 0h1m3 0h1m1 0h2m1 0h1m1 0h1m1 0h1m1 0h3m2 0h2m1 0h1m1 0h2m1 0h9m2 0h2m1 0h2m1 0h3m1 0h4m1 0h1m1 0h1M1139 295h2m1 0h6m1 0h1m1 0h1m1 0h2m1 0h3m1 0h5m2 0h1m1 0h8m3 0h1m2 0h6m3 0h2m2 0h1M1126 296h1m9 0h1m1 0h1m1 0h2m1 0h5m1 0h1m1 0h1m3 0h3m1 0h1m5 0h1m1 0h16m1 0h3m2 0h1m2 0h2m2 0h1M1125 297h1m8 0h2m4 0h1m1 0h2m1 0h2m2 0h1m3 0h5m1 0h11m1 0h8m1 0h2m4 0h1m1 0h1m1 0h1m5 0h1m1 0h1M1126 298h1m4 0h2m1 0h1m1 0h1m3 0h1m4 0h2m1 0h4m2 0h5m1 0h5m1 0h1m1 0h2m1 0h1m1 0h3m1 0h4m3 0h2m4 0h1m3 0h1M1130 299h1m4 0h1m5 0h2m1 0h3m1 0h1m1 0h5m1 0h2m1 0h5m1 0h2m1 0h2m1 0h4m6 0h1m1 0h1m1 0h1m6 0h2M1130 300h2m3 0h2m1 0h1m1 0h1m2 0h11m1 0h4m1 0h11m2 0h2m1 0h5m1 0h1m1 0h1m2 0h3m4 0h1M1126 301h1m3 0h2m2 0h1m1 0h1m1 0h3m1 0h1m2 0h2m2 0h2m2 0h3m1 0h2m1 0h4m1 0h1m1 0h1m1 0h3m2 0h1m2 0h4m5 0h1m2 0h1m1 0h2m1 0h1m1 0h1M1126 302h1m2 0h1m2 0h1m4 0h1m2 0h5m2 0h1m2 0h1m1 0h1m2 0h7m1 0h5m1 0h3m1 0h7m1 0h2m1 0h1m3 0h1m1 0h2M1124 303h1m1 0h1m4 0h1m1 0h3m1 0h1m3 0h2m1 0h2m1 0h1m3 0h1m1 0h1m1 0h2m1 0h5m1 0h3m1 0h1m1 0h3m2 0h1m1 0h2m1 0h1m2 0h3m1 0h3m3 0h1M1123 304h1m2 0h2m8 0h1m1 0h3m2 0h4m2 0h2m1 0h4m1 0h9m1 0h1m2 0h1m1 0h7m1 0h1m2 0h1m4 0h1m1 0h1m1 0h3M1134 305h2m1 0h1m2 0h1m1 0h2m2 0h1m1 0h1m1 0h5m1 0h2m3 0h7m1 0h9m1 0h1m1 0h1m3 0h1m2 0h2M1120 306h1m2 0h1m11 0h1m1 0h3m1 0h1m1 0h2m1 0h1m4 0h1m2 0h1m1 0h5m1 0h4m1 0h1m1 0h1m1 0h5m1 0h1m1 0h2m3 0h2m1 0h1m2 0h1M1120 307h2m1 0h1m2 0h2m3 0h1m2 0h1m1 0h1m1 0h3m3 0h5m1 0h1m1 0h5m1 0h4m1 0h7m1 0h4m1 0h4m1 0h1m2 0h1m1 0h1m3 0h1M1120 308h1m1 0h3m5 0h5m1 0h3m1 0h2m1 0h1m1 0h1m1 0h2m1 0h4m2 0h7m1 0h3m3 0h1m1 0h3m1 0h5m1 0h1m1 0h2m2 0h1M1120 309h1m3 0h1m1 0h2m3 0h1m1 0h2m1 0h3m1 0h8m1 0h5m1 0h5m1 0h5m1 0h1m1 0h5m1 0h4m1 0h1m5 0h1m1 0h1M1120 310h1m2 0h1m1 0h1m3 0h1m3 0h10m1 0h1m1 0h5m1 0h2m1 0h4m1 0h12m3 0h2m2 0h2m4 0h2M1121 311h1m1 0h1m1 0h1m4 0h1m4 0h2m2 0h4m1 0h3m1 0h2m1 0h1m1 0h7m1 0h5m1 0h3m2 0h3m1 0h1m2 0h2m4 0h1m1 0h2m2 0h1M1123 312h2m1 0h1m3 0h1m1 0h1m1 0h2m1 0h1m2 0h2m2 0h1m3 0h4m1 0h15m2 0h1m6 0h1m1 0h1m2 0h2m6 0h1M1123 313h3m1 0h1m1 0h1m2 0h5m2 0h1m1 0h4m1 0h2m1 0h14m1 0h1m3 0h3m2 0h1m2 0h2m1 0h1m1 0h1M1107 314h1m13 0h1m1 0h1m2 0h1m2 0h4m2 0h2m3 0h5m1 0h1m1 0h3m1 0h1m1 0h8m2 0h5m1 0h7m1 0h3m7 0h1M1107 315h1m8 0h1m4 0h1m2 0h1m2 0h3m5 0h1m1 0h6m1 0h10m1 0h2m1 0h2m1 0h1m1 0h3m2 0h5m1 0h1m13 0h2M1107 316h1m9 0h1m3 0h3m4 0h2m1 0h2m1 0h11m1 0h2m1 0h1m1 0h2m1 0h1m2 0h2m1 0h10m1 0h1m1 0h1m1 0h4m3 0h2m4 0h1M1114 317h1m5 0h1m2 0h3m2 0h1m3 0h3m1 0h1m1 0h6m1 0h1m1 0h1m1 0h2m1 0h2m2 0h2m1 0h7m2 0h1m2 0h4m2 0h1m2 0h1m1 0h1m2 0h2M1113 318h3m4 0h4m2 0h3m1 0h2m2 0h3m1 0h1m1 0h12m2 0h1m1 0h1m1 0h2m1 0h12m3 0h4M1113 319h1m7 0h6m1 0h2m1 0h1m1 0h1m1 0h3m1 0h1m1 0h1m2 0h1m1 0h8m1 0h2m1 0h1m1 0h4m1 0h1m8 0h1m2 0h2m2 0h1M1112 320h1m1 0h1m3 0h2m1 0h3m1 0h1m3 0h1m1 0h1m1 0h2m1 0h4m1 0h1m1 0h9m1 0h4m1 0h3m1 0h2m7 0h1m1 0h3m2 0h1m3 0h1M1112 321h2m4 0h1m1 0h3m2 0h4m1 0h3m2 0h8m1 0h5m1 0h2m1 0h1m2 0h2m1 0h2m1 0h1m1 0h1m3 0h2m2 0h1m2 0h1m1 0h2m3 0h1M1119 322h3m1 0h1m3 0h2m3 0h2m2 0h1m3 0h2m1 0h4m1 0h1m1 0h4m1 0h4m3 0h3m1 0h1m1 0h1m5 0h1m2 0h2M1105 323h1m5 0h1m1 0h2m1 0h2m1 0h3m2 0h13m1 0h7m1 0h4m1 0h8m1 0h6m10 0h1M1105 324h1m6 0h1m3 0h1m2 0h3m3 0h7m1 0h2m2 0h3m1 0h3m2 0h2m1 0h3m1 0h3m1 0h3m2 0h1m1 0h3m1 0h1m3 0h1m1 0h1m8 0h1M1104 325h1m1 0h1m5 0h2m7 0h4m1 0h6m1 0h1m1 0h1m1 0h7m2 0h2m1 0h2m1 0h3m1 0h1m8 0h3m1 0h1m3 0h1m3 0h2m4 0h1M1106 326h2m9 0h2m1 0h4m1 0h1m5 0h1m3 0h2m1 0h3m1 0h2m1 0h3m1 0h4m5 0h4m4 0h1m2 0h1m4 0h1m2 0h1m1 0h1M1105 327h2m5 0h2m1 0h3m1 0h2m2 0h1m3 0h1m1 0h3m2 0h2m2 0h2m1 0h1m1 0h1m3 0h2m2 0h1m2 0h7m1 0h1m4 0h1m6 0h1m3 0h2M1105 328h1m5 0h1m1 0h2m1 0h2m2 0h1m1 0h2m1 0h2m2 0h4m1 0h1m1 0h4m1 0h6m2 0h1m1 0h1m1 0h2m7 0h3m2 0h3m4 0h1M1110 329h2m1 0h2m1 0h2m1 0h1m1 0h2m1 0h2m2 0h4m1 0h5m4 0h2m3 0h5m2 0h1m4 0h4m1 0h1m4 0h2m4 0h2M1105 330h1m3 0h1m2 0h1m3 0h3m1 0h3m4 0h1m1 0h1m2 0h5m1 0h1m1 0h3m1 0h1m1 0h2m2 0h1m2 0h1m6 0h1m3 0h1m1 0h1m1 0h1M1104 331h1m1 0h2m4 0h3m1 0h1m2 0h4m1 0h3m3 0h1m1 0h5m1 0h2m2 0h10m1 0h3m2 0h2m2 0h1m2 0h1m5 0h2m4 0h1M1114 332h1m2 0h2m1 0h1m1 0h1m2 0h2m1 0h6m2 0h1m1 0h1m1 0h2m1 0h1m1 0h2m1 0h1m4 0h1m7 0h2m10 0h2m3 0h1M1112 333h2m1 0h2m1 0h3m2 0h1m2 0h2m1 0h4m2 0h3m1 0h1m2 0h1m1 0h6m3 0h1m2 0h1m1 0h2m1 0h1m14 0h1M1111 334h1m2 0h3m3 0h1m1 0h1m1 0h2m1 0h4m3 0h2m5 0h1m2 0h1m1 0h1m2 0h1m1 0h2m4 0h1m4 0h1m5 0h1m6 0h1M1110 335h1m1 0h3m4 0h1m1 0h1m2 0h1m2 0h4m1 0h5m3 0h1m4 0h1m3 0h2m4 0h2m5 0h1m6 0h1M1113 336h1m2 0h1m5 0h4m1 0h6m1 0h1m2 0h5m1 0h2m1 0h1m2 0h3m2 0h4m12 0h1M1112 337h5m3 0h1m4 0h3m3 0h3m2 0h2m1 0h2m3 0h1m3 0h1m5 0h2m1 0h1M1112 338h2m3 0h1m2 0h1m1 0h1m2 0h4m2 0h1m1 0h1m1 0h1m1 0h1m1 0h2m2 0h1m10 0h1m3 0h1M1114 339h1m1 0h1m2 0h2m2 0h2m1 0h1m1 0h4m4 0h2m2 0h2m11 0h1M1109 340h1m6 0h1m1 0h2m2 0h1m3 0h1m5 0h1m2 0h1m2 0h1m3 0h1m4 0h2m1 0h2m1 0h1M1106 341h1m1 0h1m4 0h2m3 0h2m1 0h2m3 0h3m4 0h1m1 0h3m1 0h1m5 0h3m13 0h1M1106 342h1m2 0h1m4 0h1m3 0h1m1 0h1m1 0h1m5 0h2m2 0h2m3 0h1m5 0h1m17 0h1M1103 343h1m3 0h1m11 0h2m5 0h1m1 0h1m2 0h1m11 0h1M1102 344h1m3 0h2m3 0h2m3 0h3m1 0h2m1 0h1m1 0h2m2 0h1m2 0h1m3 0h2m13 0h1M1102 345h1m5 0h1m1 0h3m3 0h3m2 0h1m1 0h1m8 0h1m2 0h1m14 0h2M1108 346h1m1 0h1m4 0h2m3 0h1m2 0h1m1 0h1m24 0h1m1 0h1M1109 347h1m2 0h1m1 0h1m1 0h1m5 0h1m1 0h1m1 0h1m22 0h1m2 0h1M1102 348h2m6 0h1m1 0h2m7 0h2m1 0h1M1111 349h2m3 0h1m5 0h1m1 0h2M1110 350h2m4 0h1m4 0h1M1108 351h3m1 0h1M1107 352h2m1 0h1m17 0h3M1107 353h1" stroke="#000"/>
<path d="M1450 65h1M1421 87h1M1413 93h1M1415 96h1M1413 97h1m3 0h1M1409 98h1M1409 100h1M1407 102h1M1400 104h1M1400 107h1M1404 109h1M1394 110h1m1 0h1M1396 113h1M1387 114h1m1 0h1m1 0h1M1398 115h1M1389 116h1M1386 119h1M1380 121h1M1378 131h1M1191 265h1M1187 267h1M1179 269h1M1167 274h1M1174 275h1M1160 277h1M1156 279h1m4 0h1M1155 281h1m29 0h1M1147 283h1M1203 285h1M1203 287h1M1139 289h1m64 0h1M1107 292h1m12 0h1M1129 294h1M1122 296h1m9 0h1M1121 298h1M1121 300h1m1 0h1M1104 302h1m17 0h1M1111 305h1m19 0h1M1118 306h1M1192 307h1M1110 308h1m2 0h1M1116 309h1m74 0h1M1109 310h1m8 0h1M1114 311h1M1117 312h1M1119 315h1M1109 316h1m1 0h1M1111 318h1m6 0h1M1109 319h1M1185 320h1M1184 322h1M1180 324h1M1156 329h1M1102 330h1m78 0h1M1108 334h1m55 0h1M1107 336h1m52 0h1M1103 337h1M1109 338h1M1104 340h1M1111 342h1m4 0h1m35 0h1m4 0h1M1139 343h1m1 0h1m3 0h1M1114 344h1m53 0h1M1148 345h1M1106 346h1m33 0h1M1118 347h1m11 0h1m2 0h1m21 0h1M1105 349h1m12 0h1m29 0h1m3 0h1M1130 350h1M1126 351h1m10 0h1M1114 352h1m2 0h1m21 0h1" stroke="#000" stroke-opacity="1"/>
</g>
<text x="1080.3" y="418.7" font-size="25" text-anchor="middle">0.01</text>
<text x="1049.1" y="377.1" font-size="25" text-anchor="end">0.01</text>
<text x="1185.3" y="418.7" font-size="25" text-anchor="middle">1</text>
<text x="1049.1" y="292.1" font-size="25" text-anchor="end">1</text>
<text x="1289.2" y="418.7" font-size="25" text-anchor="middle">100</text>
<text x="1049.1" y="207.1" font-size="25" text-anchor="end">100</text>
<text x="1395.7" y="418.7" font-size="25" text-anchor="middle">10,000</text>
<text x="1049.1" y="122.1" font-size="25" text-anchor="end">10,000</text>
<path d="M1067.6 61.3H1459.6V382.2H1067.6ZM1081.5 382.2v12.6M1067.6 370.1h-12.6M1185.3 382.2v12.6M1067.6 285.1h-12.6M1289.2 382.2v12.6M1067.6 200.1h-12.6M1393.0 382.2v12.6M1067.6 115.1h-12.6" fill="none" stroke="#000" stroke-width="1.35"/>
<text transform="translate(993.4 225.8) rotate(-90)" font-size="25" text-anchor="middle">P RPKM</text>
<text x="1261.5" y="463.5" font-size="25" text-anchor="middle">C RPKM</text>
<circle cx="1243.3" cy="301.7" r="5.4" fill="#ed1c24"/><circle cx="1243.3" cy="331.9" r="5.4" fill="#4a4fa2"/>
<text x="1251.5" y="312" font-size="25">DEG up= 2,514</text>
<text x="1251.5" y="341.7" font-size="25">DEG down= 1,838</text>
<g transform="translate(0 0.5)" fill="none" stroke-width="1" shape-rendering="crispEdges">
<path d="M1635 176h1M1635 179h1M1635 185h1M1635 188h1M1635 189h1M1635 197h1M1635 199h1M1635 202h1M1635 210h1M1635 213h1M1635 223h1M1635 225h1M1635 226h1M1635 227h1M1635 228h1M1635 229h1M1635 230h1M1635 231h1M1635 233h1M1635 235h1M1635 236h1M1635 237h1M1635 238h1M1635 239h1M1635 241h1M1635 242h1M1635 243h1M1635 244h1M1635 245h1M1635 246h1M1635 247h1M1635 248h1M1635 250h1M1635 251h1M1635 252h1M1635 253h1M1635 254h1M1635 255h1M1635 256h1M1635 257h1M1635 258h1M1635 259h1M1635 260h1M1635 261h1M1635 262h1M1635 263h1M1635 264h1M1635 265h1M1635 266h1M1635 267h1M1635 268h1" stroke="#f0787c"/>
<path d="M1635 269h1M1635 270h1M1635 271h1M1635 272h1M1635 273h1M1635 275h1M1635 276h1M1635 279h1M1635 280h1M1635 282h1M1635 283h1M1635 284h1M1635 285h1M1635 286h1M1635 287h1M1635 289h1M1635 290h1M1635 291h1M1635 292h1M1635 293h1M1635 294h1M1635 295h1M1635 296h1M1635 297h1M1635 298h1M1635 299h1M1635 300h1M1635 302h1M1635 303h1M1635 305h1M1635 306h1M1635 307h1M1635 308h1M1635 309h1M1635 311h1M1635 312h1M1635 313h1M1635 314h1M1635 315h1M1635 316h1M1635 317h1M1635 318h1M1635 319h1M1635 320h1M1635 321h1M1635 322h1M1635 323h1M1635 324h1M1635 325h1M1635 326h1M1635 327h1" stroke="#2e2e2e"/>
<path d="M1919 101h2m9 0h1M1930 102h1M1908 105h1M1909 106h1M1912 113h2M1895 115h1M1894 116h1m1 0h1M1908 117h1M1907 118h1m6 0h2M1908 124h1M1894 125h1m13 0h1M1889 126h1m3 0h1m6 0h1m1 0h1m3 0h1M1890 127h1m3 0h1m1 0h2m3 0h1m3 0h1M1890 128h2m1 0h1M1889 129h1m1 0h2m1 0h1m1 0h2M1894 130h2m1 0h2M1884 131h1m5 0h1m5 0h3M1883 132h1m4 0h2m1 0h1m1 0h4M1878 133h1m1 0h2m7 0h2m1 0h1m4 0h1M1879 134h1m10 0h5m2 0h2m1 0h1M1864 135h1m5 0h1m8 0h1m3 0h2m1 0h1m2 0h1m2 0h3m1 0h3M1865 136h1m3 0h2m13 0h2m4 0h2m1 0h1m1 0h4M1867 137h1m3 0h1m3 0h1m2 0h1m3 0h2m1 0h1m3 0h2m1 0h1m2 0h3M1868 138h1m1 0h1m3 0h1m2 0h1m4 0h1m1 0h1m3 0h3m2 0h3M1862 139h2m3 0h1m13 0h3m4 0h7M1861 140h1m1 0h1m8 0h1m10 0h2m3 0h1m2 0h3M1866 141h2m3 0h1m9 0h4m3 0h1m1 0h4M1855 142h1m11 0h2m10 0h1m1 0h2m2 0h8M1854 143h1m2 0h2m7 0h2m11 0h2m2 0h3m1 0h2m1 0h1M1859 144h1m4 0h1m1 0h2m1 0h1m1 0h1m4 0h2m1 0h1m2 0h2m2 0h1m2 0h1M1848 145h1m13 0h2m6 0h1m1 0h1m5 0h1m2 0h3m1 0h3M1842 146h1m4 0h1m1 0h1m11 0h1m4 0h1m3 0h2m1 0h1m1 0h1m1 0h1m1 0h1m1 0h1m1 0h1m1 0h1m1 0h2M1842 147h1m23 0h1m1 0h4m3 0h1m2 0h1m2 0h6M1866 148h2m1 0h1m1 0h2m1 0h1m1 0h1m3 0h2m1 0h2m1 0h1M1844 149h2m10 0h1m10 0h8m2 0h1m1 0h1m2 0h2M1829 150h1m21 0h1m4 0h1m4 0h1m2 0h6m1 0h1m1 0h1m3 0h2m1 0h4M1830 151h1m21 0h1m3 0h1m2 0h1m2 0h4m1 0h5m1 0h9M1852 152h3m4 0h4m1 0h5m1 0h2m2 0h2m2 0h3M1851 153h1m1 0h1m2 0h4m1 0h1m3 0h9m1 0h3m1 0h2M1841 154h1m13 0h1m3 0h1m1 0h1m3 0h1m1 0h3m1 0h3m1 0h2m1 0h1M1842 155h1m11 0h3m3 0h1m4 0h1m1 0h6m1 0h1m1 0h2M1844 156h1m11 0h6m1 0h2m1 0h1m1 0h7M1842 157h2m1 0h1m3 0h1m3 0h2m1 0h1m3 0h2m1 0h6m1 0h3m2 0h1M1842 158h1m1 0h2m1 0h1m1 0h1m1 0h7m1 0h2m1 0h1m1 0h9m1 0h1M1822 159h2m23 0h1m5 0h4m2 0h14M1822 160h1m14 0h1m8 0h3m2 0h3m4 0h1m1 0h11M1836 161h1m7 0h2m3 0h4m3 0h3m2 0h3m1 0h5M1848 162h2m2 0h1m2 0h3m1 0h9m1 0h1M1818 163h1m14 0h2m7 0h3m1 0h4m1 0h1m4 0h4m2 0h5M1811 164h1m5 0h1m14 0h1m1 0h1m8 0h2m3 0h1m1 0h2m2 0h1m1 0h5m2 0h3M1811 165h1m4 0h1m3 0h1m22 0h1m1 0h1m2 0h1m1 0h15M1817 166h2m1 0h1m10 0h1m14 0h4m1 0h8m1 0h5M1810 167h1m11 0h1m8 0h1m3 0h1m1 0h1m2 0h1m3 0h3m1 0h15M1811 168h1m10 0h3m6 0h2m3 0h1m2 0h2m2 0h4m1 0h3m1 0h6m1 0h2M1811 169h1m18 0h1m4 0h2m2 0h2m1 0h2m1 0h4m1 0h2m1 0h8M1806 170h1m18 0h1m5 0h2m2 0h1m1 0h1m1 0h1m1 0h2m1 0h1m1 0h1m3 0h9M1807 171h1m3 0h1m6 0h2m1 0h2m2 0h1m6 0h1m2 0h2m1 0h1m1 0h1m2 0h1m1 0h1m1 0h4m1 0h1m2 0h2M1806 172h1m5 0h1m9 0h1m3 0h1m1 0h1m1 0h3m2 0h1m2 0h1m1 0h9m1 0h2m1 0h3M1813 173h1m7 0h1m3 0h1m3 0h1m1 0h1m1 0h1m1 0h8m1 0h11M1822 174h1m5 0h2m1 0h3m1 0h1m1 0h7m1 0h10M1806 175h1m15 0h3m7 0h4m1 0h1m1 0h1m1 0h7m1 0h4M1806 176h1m16 0h1m4 0h1m2 0h2m1 0h2m1 0h1m1 0h8m1 0h3M1822 177h1m6 0h2m1 0h6m1 0h11M1803 178h1m4 0h1m4 0h1m3 0h1m3 0h1m3 0h2m1 0h1m1 0h1m1 0h1m1 0h3m2 0h1m1 0h7m1 0h1M1790 179h2m12 0h2m2 0h1m3 0h1m4 0h1m2 0h6m2 0h2m2 0h1m2 0h2m1 0h5m1 0h3M1801 180h2m4 0h1m9 0h2m4 0h1m1 0h1m3 0h1m5 0h2m1 0h3m1 0h4M1801 181h1m13 0h1m2 0h2m2 0h2m1 0h1m1 0h8m2 0h7M1790 182h1m7 0h1m12 0h1m4 0h1m2 0h2m5 0h2m4 0h1m2 0h9M1791 183h1m5 0h1m1 0h1m8 0h4m3 0h5m1 0h1m2 0h2m2 0h1m1 0h1m1 0h11M1790 184h1m5 0h1m2 0h1m2 0h2m2 0h1m1 0h1m3 0h3m1 0h2m1 0h2m1 0h2m1 0h1m1 0h3m1 0h3m1 0h6M1801 185h1m4 0h1m1 0h3m2 0h2m1 0h3m3 0h2m2 0h6m1 0h8M1773 186h2m10 0h1m15 0h1m8 0h2m1 0h2m4 0h1m1 0h3m1 0h3m1 0h3m1 0h3m1 0h2M1784 187h2m7 0h1m6 0h1m3 0h2m3 0h2m3 0h2m1 0h1m2 0h2m1 0h1m1 0h2m2 0h8M1787 188h1m3 0h1m1 0h1m2 0h1m2 0h1m5 0h1m1 0h2m1 0h1m1 0h2m1 0h3m1 0h4m1 0h1m1 0h2m1 0h7M1779 189h1m8 0h1m2 0h2m1 0h2m2 0h4m3 0h1m3 0h1m1 0h3m1 0h2m2 0h3m1 0h1m1 0h2m1 0h7M1769 190h1m8 0h1m2 0h1m16 0h2m5 0h1m1 0h1m3 0h1m1 0h3m1 0h1m2 0h3m1 0h1m1 0h8M1769 191h1m1 0h1m5 0h1m2 0h1m3 0h2m5 0h1m5 0h1m5 0h1m1 0h1m1 0h2m2 0h2m1 0h8m2 0h9M1767 192h1m2 0h1m7 0h1m8 0h1m3 0h1m10 0h1m1 0h1m2 0h1m2 0h6m2 0h7m1 0h5M1767 193h1m3 0h1m16 0h1m3 0h1m2 0h1m5 0h1m3 0h7m1 0h1m1 0h3m1 0h10M1772 194h1m6 0h1m2 0h1m3 0h1m3 0h3m3 0h1m1 0h3m1 0h1m2 0h3m2 0h2m1 0h1m2 0h5m1 0h6M1718 195h2m34 0h2m18 0h1m3 0h1m2 0h2m2 0h1m4 0h1m1 0h1m3 0h1m1 0h2m1 0h1m2 0h1m1 0h1m2 0h2m1 0h2m1 0h4m1 0h3m1 0h1m1 0h1M1760 196h1m7 0h1m4 0h1m5 0h2m3 0h1m11 0h1m1 0h3m1 0h1m3 0h10m1 0h8M1760 197h1m2 0h2m2 0h2m11 0h1m3 0h1m4 0h2m3 0h5m5 0h2m2 0h1m2 0h3m1 0h2m1 0h7M1767 198h1m12 0h1m4 0h1m5 0h1m4 0h1m1 0h4m1 0h2m1 0h3m1 0h2m2 0h3m2 0h3M1776 199h2m5 0h1m1 0h2m1 0h1m1 0h1m2 0h2m1 0h6m1 0h2m1 0h3m1 0h5m1 0h6M1749 200h1m24 0h2m6 0h2m2 0h1m1 0h2m3 0h3m1 0h2m1 0h3m1 0h3m2 0h2m1 0h2m1 0h6M1749 201h1m17 0h1m4 0h3m6 0h3m2 0h1m2 0h2m2 0h1m1 0h2m3 0h1m1 0h1m2 0h14M1758 202h1m2 0h2m3 0h1m7 0h1m5 0h1m2 0h1m9 0h1m2 0h2m1 0h2m2 0h1m1 0h2m2 0h2m1 0h6M1759 203h1m1 0h1m4 0h1m1 0h1m4 0h1m5 0h1m2 0h2m1 0h1m3 0h1m1 0h2m2 0h5m2 0h5m1 0h6m1 0h1M1740 204h1m23 0h1m4 0h2m7 0h1m2 0h1m1 0h1m2 0h2m2 0h1m1 0h1m2 0h2m2 0h2m1 0h12M1739 205h1m23 0h1m5 0h1m1 0h1m6 0h1m1 0h4m3 0h1m1 0h2m1 0h1m2 0h4m2 0h2m1 0h5m1 0h4M1718 206h1m31 0h2m11 0h2m2 0h2m1 0h2m3 0h1m4 0h4m3 0h1m3 0h1m1 0h10m1 0h8M1718 207h1m15 0h1m35 0h2m2 0h1m1 0h3m3 0h2m2 0h1m1 0h3m2 0h2m1 0h1m1 0h13M1730 208h1m4 0h1m32 0h1m4 0h2m1 0h2m1 0h1m3 0h1m1 0h2m1 0h1m2 0h7m3 0h1m1 0h7M1724 209h1m4 0h1m15 0h2m1 0h1m1 0h1m15 0h1m1 0h1m1 0h2m2 0h4m2 0h2m10 0h1m1 0h15M1725 210h1m5 0h1m12 0h1m2 0h1m1 0h2m14 0h2m4 0h4m1 0h1m1 0h2m1 0h3m2 0h2m1 0h3m1 0h2m1 0h3m1 0h3m1 0h3M1730 211h2m1 0h2m9 0h1m1 0h2m1 0h1m2 0h1m1 0h2m9 0h1m2 0h1m1 0h1m4 0h1m1 0h1m2 0h1m4 0h2m1 0h1m2 0h1m2 0h2m2 0h8M1743 212h1m1 0h1m5 0h1m2 0h1m2 0h1m4 0h2m4 0h2m3 0h2m5 0h3m1 0h4m2 0h3m2 0h2m1 0h2m1 0h2M1734 213h2m15 0h1m5 0h1m1 0h1m3 0h1m5 0h3m5 0h1m2 0h1m1 0h1m2 0h1m1 0h2m2 0h1m1 0h10M1730 214h1m21 0h1m4 0h5m2 0h2m1 0h7m2 0h2m1 0h4m2 0h1m1 0h1m1 0h12M1729 215h1m7 0h1m19 0h4m2 0h1m3 0h1m1 0h4m3 0h1m1 0h2m2 0h4m1 0h6m1 0h1m1 0h3M1738 216h1m5 0h1m2 0h2m1 0h4m4 0h1m2 0h1m2 0h2m1 0h1m1 0h1m2 0h2m1 0h5m1 0h1m2 0h2m3 0h1m1 0h5m1 0h1M1684 217h1m48 0h2m7 0h1m1 0h1m1 0h1m2 0h2m1 0h1m1 0h2m8 0h2m2 0h1m1 0h1m3 0h3m1 0h1m1 0h2m1 0h1m1 0h2m1 0h1m1 0h1m1 0h3M1683 218h1m50 0h1m1 0h1m3 0h1m1 0h1m4 0h1m2 0h2m7 0h3m3 0h1m2 0h6m1 0h1m1 0h5m1 0h11M1721 219h1m6 0h1m8 0h2m1 0h1m1 0h1m3 0h1m2 0h1m1 0h2m5 0h1m6 0h1m2 0h2m4 0h2m1 0h1m1 0h2m1 0h11M1721 220h1m6 0h4m7 0h1m6 0h1m3 0h1m8 0h1m5 0h1m3 0h2m2 0h1m2 0h5m1 0h4m2 0h4M1745 221h1m2 0h1m5 0h2m1 0h3m1 0h1m3 0h3m2 0h6m2 0h6m1 0h6M1722 222h2m21 0h1m2 0h1m1 0h1m2 0h1m5 0h2m1 0h1m5 0h5m1 0h4m4 0h7M1725 223h1m6 0h1m6 0h2m3 0h1m2 0h1m1 0h1m5 0h2m2 0h1m1 0h8m1 0h2m1 0h1m1 0h2m1 0h2m1 0h6M1726 224h1m5 0h2m11 0h2m1 0h1m6 0h1m1 0h2m2 0h2m1 0h2m1 0h2m1 0h1m2 0h2m2 0h3m1 0h5M1726 225h1m8 0h1m5 0h1m2 0h1m4 0h1m4 0h1m3 0h3m1 0h2m3 0h1m1 0h2m2 0h4m1 0h1m1 0h4M1719 226h1m7 0h2m2 0h1m1 0h1m1 0h1m4 0h1m1 0h1m7 0h4m2 0h1m4 0h1m1 0h4m1 0h1m3 0h7m1 0h2M1718 227h1m13 0h1m1 0h2m3 0h1m1 0h1m2 0h2m5 0h1m1 0h1m1 0h2m1 0h2m1 0h1m4 0h1m1 0h1m2 0h3m1 0h1m1 0h2M1713 228h2m2 0h1m2 0h3m24 0h1m1 0h1m2 0h2m1 0h3m1 0h1m1 0h1m4 0h9m1 0h2m1 0h2M1713 229h1m4 0h1m20 0h1m1 0h4m1 0h3m1 0h2m1 0h6m1 0h3m2 0h3m1 0h2m1 0h1m1 0h4M1718 230h1m4 0h2m12 0h3m3 0h1m2 0h1m1 0h3m2 0h1m3 0h12m3 0h1m1 0h1m1 0h1M1736 231h1m2 0h1m1 0h4m5 0h6m2 0h1m3 0h1m1 0h1m1 0h1m1 0h3m1 0h1m1 0h1M1671 232h1m35 0h1m20 0h1m6 0h1m3 0h1m1 0h3m1 0h1m2 0h2m14 0h2m2 0h4M1672 233h1m34 0h2m19 0h3m1 0h2m2 0h2m1 0h2m2 0h1m1 0h1m1 0h1m1 0h1m1 0h1m1 0h2m1 0h1m1 0h1m1 0h3m1 0h1m1 0h4M1708 234h1m9 0h1m8 0h1m3 0h1m1 0h1m5 0h1m1 0h8m1 0h5m2 0h1m1 0h3m2 0h2m1 0h2M1716 235h1m1 0h1m15 0h1m1 0h1m4 0h1m3 0h1m5 0h1m3 0h1m1 0h3m1 0h2m1 0h2M1676 236h2m38 0h1m1 0h1m2 0h2m1 0h2m2 0h2m5 0h1m8 0h2m1 0h1m2 0h1m3 0h3m1 0h1m1 0h4M1714 237h2m3 0h1m3 0h1m1 0h3m1 0h1m3 0h2m1 0h1m8 0h1m1 0h4m5 0h5m1 0h1M1702 238h2m8 0h1m4 0h1m3 0h1m1 0h1m1 0h1m2 0h1m1 0h1m1 0h2m4 0h2m1 0h2m1 0h3m3 0h1m2 0h3M1701 239h1m9 0h1m6 0h1m3 0h1m1 0h1m2 0h1m6 0h6m3 0h1m1 0h1m1 0h1m1 0h1m1 0h1m1 0h1m2 0h1M1696 240h1m18 0h1m1 0h1m2 0h1m6 0h1m4 0h1m5 0h1m3 0h1m2 0h1m2 0h1m2 0h1M1695 241h1m20 0h1m2 0h1m6 0h1m4 0h2m3 0h5m1 0h1m3 0h2m3 0h1M1718 242h1m3 0h1m6 0h1m1 0h1m6 0h2m2 0h2m4 0h1m2 0h1M1718 243h3m1 0h3m4 0h2m1 0h3m2 0h1m5 0h5M1719 244h1m10 0h2m3 0h1m8 0h1m2 0h1M1714 245h2m2 0h1m2 0h1m1 0h1m3 0h1m6 0h2m7 0h1M1704 246h1m11 0h1m1 0h6m1 0h2m4 0h3m2 0h1m1 0h4M1678 247h2m23 0h1m13 0h1m2 0h1m1 0h1m2 0h2m1 0h6m6 0h1M1678 248h1m29 0h2m6 0h1m3 0h3m2 0h3m2 0h1m2 0h1m3 0h1M1679 249h1m14 0h1m25 0h3m4 0h3m1 0h2m2 0h1M1694 250h1m10 0h2m1 0h1m8 0h1m1 0h3m2 0h2m2 0h1m1 0h1M1707 251h1m10 0h2m2 0h1m1 0h2m2 0h1m2 0h1M1707 252h1m5 0h1m1 0h2m1 0h1m2 0h1m4 0h1m1 0h2M1700 253h1m3 0h1m8 0h2m3 0h1m1 0h2m1 0h1m1 0h1M1699 254h1m1 0h1m2 0h1m10 0h1m2 0h1m3 0h4M1680 255h2m9 0h1m13 0h1m11 0h1M1678 256h2m10 0h1m14 0h1m2 0h1m3 0h2M1699 257h1m6 0h2m2 0h2m3 0h2m2 0h2M1686 258h1m4 0h2m2 0h1m2 0h1m15 0h1M1667 259h1m19 0h1m8 0h1m1 0h1m10 0h1m5 0h1M1666 260h1m30 0h1m1 0h1m9 0h2M1665 261h1m32 0h3m1 0h1M1690 262h2m4 0h1m1 0h1m4 0h1m3 0h1M1691 263h1m3 0h1m1 0h2m4 0h1m3 0h1M1702 264h1M1663 265h1m31 0h2m5 0h2M1661 266h2m31 0h2m1 0h2m2 0h1" stroke="#ed1c24"/>
<path d="M1937 82h1m24 0h1M1929 85h1m9 0h1M1934 90h1M1940 92h1m6 0h1M1913 96h1M1941 97h1M1928 98h1M1919 99h1M1911 101h1m23 0h1M1923 102h1M1883 103h1m24 0h1m9 0h1M1906 105h1m10 0h1m5 0h1M1891 108h1m24 0h1M1909 109h1m1 0h1m10 0h1M1920 110h1M1885 112h1m12 0h1m17 0h1m4 0h1M1885 114h1m23 0h1m8 0h1M1912 115h1M1916 116h1M1890 118h1M1895 119h1M1889 120h1m14 0h1m9 0h1M1872 122h1m5 0h1m19 0h1m6 0h1M1894 123h1m15 0h1M1888 124h1M1891 125h1M1886 126h1M1878 127h1M1886 128h1M1855 130h1m31 0h1M1868 133h1m16 0h1M1861 134h1m10 0h1M1857 135h1m9 0h1m13 0h1M1861 137h1M1690 138h1m157 0h1M1851 139h1m1 0h1m1 0h1m3 0h1M1847 140h1m28 0h1m2 0h1m6 0h1M1837 141h1m1 0h1m12 0h1M1860 142h1M1826 143h1M1821 146h1m35 0h1M1830 147h1m24 0h1M1803 148h1m44 0h1m15 0h1M1820 149h1m20 0h1m12 0h1M1749 151h1m98 0h1M1809 153h1m8 0h1m25 0h1m2 0h1M1833 154h1M1835 155h1m1 0h1m1 0h1m6 0h1m5 0h1M1812 156h1m2 0h1M1837 157h1M1815 158h1M1807 159h1M1832 160h1m6 0h1m1 0h1M1816 161h1m7 0h1m1 0h1M1812 162h1m17 0h1m8 0h1M1823 163h1m13 0h1M1840 164h1M1804 165h1m33 0h1M1829 166h1m3 0h1M1776 167h1m21 0h1m14 0h1m12 0h1M1802 169h1m14 0h1m9 0h1M1795 170h1m13 0h1M1779 171h1M1765 173h1m31 0h1m20 0h1M1757 174h1m14 0h1m38 0h1M1826 175h1M1767 176h1m29 0h1M1744 177h1m70 0h1m3 0h1M1769 178h1m26 0h1M1775 179h1m7 0h1m26 0h1M1760 180h1m16 0h1M1765 181h1m43 0h1M1737 183h1m35 0h1m10 0h1m2 0h1m5 0h1M1770 184h1M1735 185h1M1749 186h1m20 0h1m5 0h1m20 0h1M1729 187h1m34 0h1M1747 188h1m23 0h1m4 0h1M1744 189h1M1757 191h1m5 0h1m29 0h1M1751 192h1m21 0h1m8 0h1m16 0h1M1757 193h1M1744 194h1M1757 195h1m8 0h1M1744 196h1m5 0h1M1755 197h1m15 0h1m10 0h1M1750 198h1m6 0h1M1726 199h1m12 0h1m15 0h1m3 0h1m5 0h1M1705 200h1m5 0h1m11 0h1m23 0h1m14 0h1M1725 201h1m27 0h1m2 0h1M1770 202h1m6 0h1M1717 203h1m17 0h1m15 0h1M1721 204h1m23 0h1m2 0h1m4 0h1m22 0h1M1699 206h1m37 0h1m8 0h1m8 0h1M1709 207h1m11 0h1m20 0h1M1753 208h1m2 0h1m1 0h1M1719 209h1m1 0h1m38 0h1m2 0h1M1724 212h1M1708 213h1m32 0h1m5 0h1m1 0h1M1725 214h1m28 0h1M1720 215h1m12 0h1m7 0h1M1698 217h1m27 0h1m2 0h1M1705 218h1m13 0h1M1693 219h1m2 0h1m47 0h1m9 0h1m1 0h1m6 0h1M1724 220h1m8 0h1m1 0h1M1701 221h1M1697 222h1m8 0h1m1 0h1M1677 223h1m51 0h1M1716 224h1m2 0h1m2 0h1M1681 225h1m13 0h1m41 0h1M1691 226h1m1 0h1m27 0h1m1 0h1M1725 227h1M1686 228h1m40 0h1M1695 229h1m12 0h1M1693 230h1M1679 231h1m15 0h1M1682 232h1m29 0h1m12 0h1M1692 233h1m7 0h1m3 0h1M1677 234h1M1704 235h1M1710 236h1m28 0h1M1683 237h1m15 0h1m5 0h1M1691 238h1M1673 240h1m10 0h1m8 0h1m13 0h1m5 0h1M1670 241h1m32 0h1m6 0h1M1670 243h1m34 0h1m21 0h1M1693 244h1m46 0h1M1689 245h1m10 0h1m7 0h1m2 0h1M1676 246h1M1691 247h1m20 0h1M1665 248h1m17 0h1m12 0h1M1673 249h1M1710 250h1m2 0h1M1691 251h1M1669 252h1m15 0h1m9 0h1m2 0h1M1655 254h1m30 0h1m6 0h1M1673 255h1m36 0h1M1667 256h1m1 0h1m24 0h1M1675 257h1M1680 258h1M1655 259h1m18 0h1m27 0h1M1705 261h1M1668 262h1M1688 263h1m16 0h1M1682 264h1m2 0h1M1673 265h1M1685 266h1m3 0h1M1665 267h1M1671 268h1M1667 269h1M1648 270h1M1658 271h1" stroke="#ed1c24" stroke-opacity="0.9"/>
<path d="M1940 139h1M1941 140h1M1920 149h1M1918 150h1m2 0h1M1918 151h2M1919 152h3M1915 153h2m4 0h1M1914 155h2M1913 156h2M1912 157h1m1 0h1m1 0h1M1906 158h2m7 0h1M1902 161h1m11 0h2M1901 162h1m3 0h2m4 0h1M1902 163h1m1 0h3m4 0h1M1897 164h5m1 0h1m2 0h1m3 0h1M1896 165h2m4 0h1M1895 166h4M1892 167h1m1 0h5m2 0h1M1892 168h2m1 0h3m4 0h1M1892 169h1m1 0h4m5 0h1M1889 170h4m1 0h2M1888 171h2m1 0h1m3 0h4M1887 172h1m1 0h4m2 0h1M1884 173h2m1 0h4m1 0h3m1 0h1M1883 174h1m1 0h1m1 0h4m1 0h1m2 0h2M1881 175h4m2 0h3m4 0h1m1 0h1M1881 176h2m1 0h2m1 0h1m1 0h2m3 0h1m2 0h1M1880 177h5m1 0h4m2 0h2M1879 178h5m1 0h5m1 0h1m1 0h2M1876 179h1m2 0h2m1 0h1m4 0h2m2 0h1m2 0h3M1877 180h5m1 0h3m1 0h1m1 0h3m3 0h1M1875 181h6m1 0h1m2 0h1m1 0h1m5 0h1M1874 182h2m1 0h2m1 0h2m2 0h1m1 0h1m5 0h1m1 0h1M1873 183h4m1 0h6m2 0h1M1871 184h2m1 0h2m1 0h4m2 0h1m3 0h1m4 0h2M1869 185h3m2 0h2m1 0h2m1 0h2m4 0h1M1869 186h3m1 0h3m1 0h1m3 0h2m1 0h1M1868 187h2m1 0h4m1 0h1m1 0h1m3 0h1m1 0h1m5 0h1m6 0h1M1866 188h7m1 0h1m2 0h4m1 0h1m6 0h1m7 0h1M1865 189h11m2 0h3m3 0h1m4 0h1M1864 190h6m1 0h1m3 0h1m2 0h1m5 0h1m5 0h1M1863 191h9m3 0h3m3 0h1m1 0h1m3 0h2M1861 192h3m1 0h4m1 0h1m9 0h1m1 0h1M1860 193h10m12 0h2M1859 194h4m1 0h4m2 0h3M1858 195h3m1 0h1m6 0h1m1 0h1m6 0h1M1856 196h1m1 0h2m1 0h6m1 0h1m1 0h1m8 0h2M1855 197h3m1 0h5m1 0h2m1 0h1m1 0h2m1 0h2m1 0h2M1854 198h1m1 0h4m1 0h1m1 0h3m2 0h3m18 0h1M1852 199h3m1 0h2m1 0h2m3 0h1m3 0h1m4 0h2m11 0h3M1851 200h5m2 0h4m3 0h2m4 0h2m2 0h1M1850 201h2m1 0h8m2 0h3m2 0h1M1850 202h6m2 0h3m1 0h2m1 0h1m1 0h1m6 0h1M1848 203h4m1 0h3m4 0h2m1 0h4m8 0h1M1847 204h5m1 0h6m3 0h3m1 0h2m1 0h1M1845 205h3m1 0h1m1 0h5m4 0h3m1 0h2m2 0h2M1844 206h5m1 0h1m1 0h3m3 0h3m2 0h1m2 0h1m2 0h2M1843 207h5m1 0h5m3 0h3m1 0h2m4 0h2m2 0h1m3 0h1M1842 208h1m1 0h5m1 0h1m1 0h4m1 0h6m13 0h1M1841 209h1m1 0h2m1 0h4m3 0h3m5 0h1M1839 210h2m1 0h6m1 0h7m4 0h1m1 0h2m4 0h1m5 0h2M1838 211h2m1 0h1m1 0h6m1 0h1m1 0h1m6 0h1m1 0h1m1 0h1m3 0h2M1836 212h4m1 0h2m2 0h2m1 0h6m7 0h1M1835 213h3m1 0h2m1 0h3m2 0h3m3 0h1m2 0h1m3 0h1m1 0h2m6 0h1M1834 214h4m1 0h2m2 0h1m2 0h2m4 0h1m3 0h2m6 0h1m5 0h1M1833 215h2m1 0h6m3 0h1m2 0h2m1 0h1m3 0h1m8 0h1M1832 216h4m1 0h1m2 0h5m2 0h1m5 0h1m1 0h1m8 0h1M1830 217h1m1 0h4m2 0h5m1 0h1m1 0h1m1 0h1m3 0h1m1 0h1m3 0h1M1830 218h7m1 0h3m5 0h1m6 0h4m1 0h1M1829 219h3m1 0h3m1 0h2m1 0h1m2 0h2m2 0h1m4 0h1M1828 220h5m1 0h2m2 0h5m2 0h2m2 0h1m8 0h1M1826 221h7m1 0h1m1 0h1m1 0h4m1 0h1m4 0h1m1 0h2m7 0h1M1826 222h2m1 0h2m1 0h3m1 0h1m1 0h1m2 0h2M1824 223h8m1 0h1m1 0h2m1 0h2m1 0h1m2 0h1m4 0h1m1 0h1m1 0h1m5 0h1M1823 224h4m1 0h2m2 0h1m1 0h4m6 0h2m3 0h1m1 0h1m1 0h2m3 0h1M1822 225h9m1 0h1m1 0h1m2 0h2m1 0h1m5 0h3M1821 226h2m1 0h4m1 0h2m2 0h1m3 0h1m1 0h1m5 0h2m7 0h1M1820 227h6m2 0h1m1 0h4m10 0h1m8 0h1M1819 228h4m1 0h7m1 0h1m1 0h1m4 0h1m1 0h1m5 0h2M1818 229h2m1 0h4m1 0h4m1 0h2m1 0h1m4 0h1m1 0h1m7 0h1M1820 230h4m2 0h1m1 0h1m1 0h1m4 0h1m4 0h1M1816 231h5m1 0h3m4 0h3m6 0h2m4 0h2M1814 232h1m1 0h1m2 0h6m1 0h1m2 0h2m2 0h1m2 0h2m2 0h1m3 0h1M1813 233h5m1 0h1m1 0h3m1 0h1m1 0h3m2 0h1m1 0h2m4 0h2M1812 234h1m1 0h1m1 0h2m2 0h6m1 0h1m1 0h1m1 0h1m1 0h1m9 0h1M1811 235h7m2 0h1m2 0h3m2 0h1m1 0h1m1 0h2m9 0h1M1810 236h2m1 0h4m1 0h1m1 0h2m1 0h2m3 0h1m2 0h1m13 0h1M1809 237h1m1 0h4m1 0h1m2 0h2m1 0h1m5 0h2m2 0h3m1 0h1m8 0h1M1810 238h5m3 0h2m2 0h3m6 0h1m4 0h1m8 0h1M1807 239h1m1 0h1m1 0h3m2 0h1m3 0h5m1 0h1m1 0h1m1 0h1m2 0h2M1806 240h2m1 0h4m1 0h2m1 0h2m8 0h1m3 0h1m6 0h1M1806 241h3m2 0h2m3 0h1m2 0h1m2 0h2m2 0h1m4 0h1m4 0h1m2 0h1M1804 242h1m1 0h3m4 0h2m1 0h1m1 0h1m1 0h1m1 0h2m1 0h2m4 0h1m1 0h1m1 0h1M1803 243h1m2 0h1m1 0h1m2 0h2m2 0h2m1 0h1m3 0h1m1 0h1m1 0h2m3 0h1m1 0h1M1803 244h5m2 0h5m1 0h3m2 0h1m2 0h2M1801 245h1m1 0h6m4 0h1m9 0h1m9 0h2M1801 246h4m3 0h1m2 0h1m6 0h1m4 0h1M1800 247h1m1 0h1m2 0h1m5 0h2m3 0h1m1 0h1m7 0h3M1800 248h2m2 0h2m5 0h1m1 0h1m1 0h1m1 0h1m2 0h1m1 0h1m1 0h1m2 0h1M1800 249h1m1 0h2m2 0h1m5 0h1m2 0h1m5 0h1m1 0h1M1798 250h1m2 0h1m2 0h1m1 0h1m5 0h1m1 0h1m10 0h1M1796 251h2m2 0h1m2 0h1m12 0h2m6 0h1M1798 252h3m2 0h1m2 0h3m1 0h3m5 0h1M1796 253h2m1 0h1m2 0h1m1 0h3m6 0h1m4 0h1m12 0h1M1795 254h7m1 0h2m14 0h1m10 0h1M1793 255h1m1 0h1m1 0h2m1 0h1m2 0h2m3 0h1M1791 256h2m2 0h1m1 0h6m3 0h1m2 0h1m1 0h1M1792 257h1m2 0h1m1 0h3m1 0h3m2 0h1m4 0h1M1790 258h1m4 0h3m1 0h2m1 0h3m2 0h1M1790 259h1m1 0h1m2 0h2m1 0h2m5 0h1m2 0h2M1788 260h1m2 0h1m4 0h1m1 0h1m1 0h1m4 0h1m2 0h1m7 0h1M1793 261h2m21 0h1M1790 262h2m1 0h1m1 0h3m5 0h1M1787 263h3m1 0h1m5 0h1m3 0h2m7 0h1M1785 264h1m1 0h1m7 0h2m6 0h2m6 0h1M1787 265h1m7 0h2m1 0h2M1787 266h2m6 0h1m2 0h1m10 0h1M1788 267h1m1 0h2m3 0h1m2 0h1m11 0h1M1785 268h2m1 0h2m2 0h1m1 0h1m4 0h1m1 0h1M1784 269h1m5 0h1m10 0h2M1784 270h1m2 0h2M1784 271h1m13 0h1M1799 272h1M1794 273h1M1776 274h2m17 0h1M1776 275h1m3 0h1m16 0h1M1775 276h1m1 0h1m3 0h3m1 0h1m12 0h1M1776 277h1m3 0h1m3 0h1M1775 278h1m2 0h2M1773 279h1m1 0h1m2 0h1m11 0h2M1772 280h1m2 0h2M1772 281h2m2 0h1m2 0h2m7 0h1M1774 282h3m12 0h1M1771 283h1m3 0h2M1770 284h3M1771 285h1m1 0h2m6 0h1M1772 286h1m7 0h1m1 0h1M1769 287h2m1 0h1m1 0h3m6 0h1M1769 288h1m1 0h1m3 0h1m1 0h1m5 0h1M1778 289h2M1770 291h1M1771 292h2M1771 293h1m5 0h2M1771 296h3M1773 297h2m8 0h1M1782 298h2M1772 301h2M1769 302h2M1755 305h2M1753 308h1M1753 309h1M1748 322h1M1749 323h1M1779 363h11" stroke="#4a4fa2"/>
<path d="M1948 133h1M1943 136h1M1949 138h1M1934 143h1M1923 150h1M1925 151h1M1919 154h1m15 0h1M1917 155h1m5 0h1M1909 158h1m10 0h1m12 0h1M1919 160h1m3 0h1M1904 166h1m1 0h1m10 0h1M1913 167h1M1901 171h1m10 0h1M1907 172h1m11 0h1M1903 176h1m2 0h1M1902 178h1M1898 179h1m5 0h1M1890 184h1M1894 186h1M1894 188h1M1887 189h1M1892 190h1m1 0h1M1873 191h1M1889 194h1m2 0h1m3 0h1M1875 195h1M1883 196h1M1879 198h1M1871 204h1M1884 208h1M1886 209h1M1872 210h1M1865 212h1M1866 214h1M1859 215h1m1 0h1m10 0h1M1867 216h1m15 0h1M1850 217h1M1861 218h1M1854 220h1m1 0h1m17 0h1M1857 222h1M1844 229h1m10 0h1M1851 230h1M1850 232h1M1846 234h1M1835 235h1m4 0h1m31 0h1M1839 237h1m7 0h1M1829 241h1M1842 242h1M1829 245h1M1808 249h1M1822 251h1m7 0h1m19 0h1M1822 253h1m2 0h1M1817 255h1M1814 257h1m1 0h1M1812 259h1m11 0h1M1802 260h1M1826 261h1M1806 262h1m22 0h1M1793 264h1m33 0h1M1784 266h1M1806 267h1m6 0h1M1782 268h1M1797 269h1M1782 270h1M1804 271h1M1781 272h1m26 0h1M1779 273h1m7 0h1M1800 276h1M1787 277h1m4 0h1m9 0h1M1807 278h1M1795 279h1M1803 280h1M1793 281h1m11 0h1M1795 282h1M1782 283h1m1 0h1M1795 284h1M1787 285h1m20 0h1M1794 286h1M1788 287h1M1766 288h1m37 0h1M1785 289h1m9 0h1m3 0h1M1784 292h1m14 0h1M1768 293h1M1776 295h1M1762 296h1m40 0h1M1769 297h1m8 0h1M1767 298h1M1775 303h1M1758 308h1M1749 309h1M1768 310h1M1744 314h1M1742 315h1m12 0h1M1745 317h1M1749 325h1M1748 331h1M1743 333h1" stroke="#4a4fa2" stroke-opacity="1"/>
<path d="M1956 100h1M1956 101h1M1946 114h2M1921 119h2M1928 120h1M1927 121h1M1927 122h1M1914 125h2m6 0h1M1923 126h1M1915 127h2m6 0h1M1907 128h1M1908 129h1M1933 130h1M1906 131h3m3 0h2m2 0h1m16 0h1M1909 132h1m2 0h1m1 0h1m2 0h1m7 0h1M1905 133h1m3 0h1m11 0h2m3 0h1M1901 134h2m1 0h2m1 0h1m14 0h1M1900 135h1m5 0h1m1 0h1m2 0h1m3 0h1M1907 136h1m4 0h1m2 0h1M1902 137h1m9 0h1m1 0h1m3 0h1M1901 138h2m15 0h1m4 0h2M1896 139h1m1 0h1m7 0h3m4 0h2m6 0h1M1895 140h1m1 0h2m1 0h2m5 0h2m6 0h1m4 0h1M1894 141h1m2 0h2m1 0h2m2 0h1m1 0h1m7 0h1m5 0h2M1893 142h1m1 0h1m1 0h1m2 0h1m2 0h2m1 0h1m2 0h2m1 0h1M1893 143h3m1 0h1m1 0h1m3 0h1m1 0h3m1 0h1m1 0h1M1891 144h1m2 0h2m1 0h3m4 0h2m1 0h1m2 0h2m13 0h1M1889 145h1m1 0h1m2 0h1m1 0h1m1 0h1m2 0h1m2 0h2m2 0h2m1 0h1m14 0h1M1889 146h1m1 0h1m1 0h3m3 0h1m1 0h2m1 0h1m4 0h1m2 0h1m9 0h2M1891 147h1m2 0h1m1 0h1m27 0h1M1889 148h10m4 0h1m3 0h1m4 0h2M1884 149h1m3 0h3m2 0h1m1 0h1m6 0h1m1 0h1m2 0h1m1 0h2M1886 150h1m1 0h2m1 0h1m1 0h4m1 0h1m3 0h2m4 0h2m7 0h1M1883 151h6m2 0h1m1 0h2m1 0h3m1 0h1m3 0h4M1881 152h2m3 0h1m1 0h3m1 0h2m1 0h1m1 0h1m2 0h1m1 0h1m1 0h1M1883 153h3m1 0h1m2 0h4m1 0h1m1 0h2m2 0h1m1 0h1M1880 154h1m4 0h8m4 0h5M1879 155h3m3 0h2m1 0h1m1 0h2m1 0h2m1 0h3m10 0h1M1877 156h1m1 0h2m2 0h7m4 0h1m2 0h1m11 0h1M1879 157h2m1 0h11m8 0h1m5 0h1M1876 158h6m1 0h8m1 0h3m1 0h1m1 0h1m1 0h1m4 0h1M1874 159h2m2 0h2m1 0h2m1 0h4m1 0h2m1 0h1m4 0h2m1 0h1m4 0h1M1872 160h12m2 0h2m1 0h4m1 0h1m2 0h3m1 0h1M1870 161h5m1 0h10m1 0h4m1 0h2m4 0h2M1868 162h1m1 0h2m1 0h2m1 0h7m2 0h4m1 0h2m1 0h1M1868 163h1m1 0h1m1 0h5m1 0h11m6 0h1m1 0h1M1866 164h7m1 0h11m2 0h2m1 0h2m1 0h3M1865 165h5m1 0h10m1 0h6m2 0h1m2 0h1M1867 166h18m1 0h2m1 0h1m4 0h1M1863 167h17m1 0h1m3 0h1M1862 168h4m1 0h13m1 0h4m1 0h1m4 0h1M1861 169h19m1 0h2m1 0h1M1859 170h4m1 0h4m1 0h3m1 0h5m1 0h4m1 0h1M1857 171h3m1 0h14m1 0h1m2 0h1m1 0h2M1856 172h18m1 0h1m1 0h1m1 0h2m1 0h2m2 0h1M1855 173h1m1 0h25m1 0h1M1855 174h16m1 0h8m1 0h2M1853 175h16m2 0h2m1 0h3m1 0h3M1851 176h6m1 0h13m1 0h6M1850 177h1m2 0h12m1 0h1m1 0h3m1 0h1m2 0h3m1 0h1M1848 178h1m1 0h3m1 0h23M1847 179h3m1 0h2m1 0h17m1 0h4M1846 180h25m1 0h4M1844 181h24m1 0h6M1844 182h30M1843 183h5m1 0h15m1 0h3M1842 184h2m1 0h15m1 0h8M1841 185h21m1 0h4m1 0h1M1840 186h25m1 0h3M1837 187h1m1 0h19m1 0h4m2 0h1m1 0h1M1836 188h26m1 0h3M1835 189h27M1834 190h27m2 0h1M1833 191h1m1 0h8m1 0h8m1 0h10M1831 192h30M1830 193h19m1 0h8M1828 194h29M1827 195h31M1825 196h3m1 0h19m1 0h7M1825 197h17m1 0h10m1 0h1M1822 198h13m1 0h8m1 0h6m1 0h1M1823 199h1m1 0h24m1 0h1M1821 200h24m1 0h2m1 0h2M1820 201h1m2 0h27M1818 202h31M1816 203h6m1 0h17m1 0h7M1814 204h29m3 0h1M1814 205h26m1 0h4M1813 206h31M1811 207h1m1 0h28m1 0h1M1810 208h29m1 0h2M1809 209h30m1 0h1M1807 210h32M1806 211h28m1 0h3M1803 212h33M1803 213h14m1 0h14m1 0h2M1801 214h33M1799 215h2m1 0h29m1 0h1M1800 216h31M1796 217h34m1 0h1M1794 218h1m1 0h2m1 0h31M1795 219h2m2 0h29M1792 220h9m1 0h26M1792 221h1m1 0h23m1 0h7M1790 222h2m1 0h2m1 0h27m1 0h2M1788 223h3m1 0h29m1 0h1M1789 224h2m1 0h31M1785 225h1m2 0h7m1 0h24m1 0h1M1783 226h1m1 0h2m1 0h2m2 0h4m1 0h19m1 0h3M1781 227h3m1 0h1m1 0h33M1784 228h6m1 0h25m1 0h2M1778 229h8m1 0h1m1 0h4m1 0h24M1778 230h5m1 0h1m2 0h1m1 0h28M1775 231h1m3 0h1m3 0h4m1 0h25m1 0h2M1776 232h4m1 0h3m1 0h7m1 0h21M1772 233h2m1 0h36m1 0h1M1769 234h1m1 0h3m1 0h2m2 0h1m1 0h27m1 0h1m1 0h1M1772 235h1m5 0h2m1 0h28m1 0h1M1765 236h2m2 0h1m3 0h4m1 0h1m1 0h30M1761 237h1m8 0h1m4 0h18m1 0h13m1 0h1M1759 238h2m9 0h15m2 0h1m1 0h18m1 0h1M1761 239h1m5 0h1m1 0h1m2 0h3m1 0h2m1 0h22m1 0h1m1 0h1m1 0h1M1756 240h1m8 0h2m6 0h2m2 0h1m1 0h27M1762 241h3m5 0h5m1 0h1m1 0h27M1762 242h1m3 0h1m2 0h5m1 0h6m1 0h1m1 0h2m1 0h11m1 0h3M1763 243h2m1 0h30m1 0h2m2 0h2M1755 244h1m5 0h1m1 0h1m1 0h5m1 0h4m1 0h1m1 0h2m1 0h10m1 0h1m1 0h1m1 0h4M1745 245h1m4 0h3m1 0h1m5 0h3m3 0h5m1 0h2m1 0h24m1 0h1M1754 246h1m8 0h1m1 0h4m1 0h25m1 0h5M1751 247h1m2 0h3m2 0h5m1 0h1m1 0h3m1 0h3m2 0h13m1 0h10M1740 248h2m6 0h4m2 0h2m1 0h2m1 0h4m1 0h9m1 0h5m1 0h3m1 0h6m1 0h1m1 0h2m2 0h2M1737 249h1m2 0h1m1 0h3m7 0h1m1 0h2m1 0h2m1 0h2m2 0h2m1 0h20m1 0h1m1 0h1m1 0h3m1 0h2M1736 250h1m7 0h1m3 0h1m5 0h4m4 0h7m1 0h15m1 0h2m2 0h7M1733 251h1m1 0h1m8 0h1m2 0h2m1 0h2m5 0h6m1 0h15m1 0h10m1 0h2m2 0h1M1730 252h1m2 0h1m4 0h1m3 0h1m1 0h1m3 0h2m3 0h3m1 0h7m2 0h20m3 0h3m1 0h1M1732 253h1m4 0h1m1 0h1m1 0h3m2 0h1m2 0h1m2 0h2m1 0h3m1 0h17m2 0h5m1 0h5m1 0h2m2 0h1M1727 254h1m1 0h1m4 0h1m2 0h1m1 0h2m2 0h3m2 0h1m1 0h1m2 0h1m1 0h1m1 0h2m2 0h6m1 0h5m2 0h4m2 0h3m1 0h5m1 0h2M1728 255h1m4 0h1m5 0h1m4 0h1m1 0h3m2 0h6m2 0h3m2 0h9m1 0h6m2 0h6m2 0h1m1 0h1M1734 256h3m4 0h1m1 0h2m3 0h4m2 0h5m2 0h12m1 0h2m1 0h9m2 0h1M1729 257h1m8 0h1m2 0h3m1 0h1m2 0h4m3 0h2m1 0h9m1 0h11m4 0h2m2 0h4M1719 258h1m9 0h1m3 0h1m1 0h1m1 0h1m1 0h2m2 0h1m1 0h2m2 0h4m1 0h3m1 0h3m1 0h11m1 0h1m1 0h1m3 0h2m2 0h2m2 0h1M1719 259h2m6 0h3m2 0h1m2 0h1m2 0h1m2 0h1m5 0h2m2 0h1m1 0h1m1 0h3m1 0h3m1 0h15m1 0h1m1 0h4m2 0h1m1 0h1M1730 260h2m1 0h2m1 0h2m1 0h1m3 0h2m2 0h2m1 0h2m3 0h5m1 0h4m1 0h6m1 0h8m1 0h3m2 0h1M1719 261h2m7 0h2m9 0h1m1 0h1m3 0h2m1 0h1m1 0h4m1 0h7m1 0h1m1 0h4m2 0h1m1 0h1m1 0h3m1 0h1m1 0h1m2 0h2M1722 262h1m8 0h4m2 0h1m1 0h2m1 0h1m1 0h1m1 0h4m1 0h1m1 0h3m1 0h2m1 0h1m1 0h3m1 0h5m3 0h5m1 0h1m3 0h2M1721 263h1m2 0h1m4 0h1m1 0h5m1 0h1m1 0h12m2 0h1m2 0h4m1 0h2m1 0h5m1 0h2m1 0h2m3 0h1m3 0h3M1721 264h1m3 0h1m3 0h1m1 0h1m2 0h1m1 0h1m2 0h1m1 0h1m1 0h6m1 0h4m1 0h9m1 0h1m1 0h6m1 0h4m1 0h3m2 0h1M1705 265h1m13 0h1m5 0h2m1 0h2m1 0h3m1 0h1m1 0h1m1 0h1m2 0h7m1 0h3m1 0h3m1 0h1m1 0h2m2 0h6m1 0h1m1 0h2M1704 266h1m14 0h2m4 0h3m1 0h1m2 0h3m3 0h3m1 0h1m1 0h3m1 0h1m1 0h1m4 0h2m2 0h3m1 0h3m1 0h1m1 0h3m1 0h1m2 0h2M1709 267h1m1 0h2m5 0h1m1 0h2m2 0h1m1 0h3m1 0h1m1 0h2m1 0h2m1 0h1m2 0h5m1 0h2m2 0h7m1 0h3m3 0h1m3 0h2m2 0h1m5 0h1M1710 268h4m2 0h1m4 0h3m3 0h2m1 0h1m2 0h5m1 0h4m1 0h1m1 0h3m1 0h1m1 0h5m1 0h2m1 0h2m1 0h5m4 0h3m1 0h1m1 0h1M1709 269h1m1 0h1m3 0h1m3 0h4m2 0h1m1 0h3m4 0h1m3 0h2m4 0h3m1 0h5m2 0h3m1 0h5m1 0h4m1 0h1m5 0h1M1674 270h1m19 0h1m13 0h1m7 0h1m2 0h1m4 0h7m1 0h1m2 0h1m1 0h1m1 0h1m1 0h7m1 0h1m1 0h5m1 0h1m1 0h1m1 0h1m1 0h3m2 0h1m1 0h2m3 0h1m1 0h2M1673 271h1m20 0h1m11 0h1m1 0h1m1 0h1m6 0h1m2 0h4m1 0h3m1 0h3m1 0h2m1 0h8m2 0h3m1 0h7m2 0h2m1 0h3m1 0h1m1 0h2m1 0h1m2 0h1m2 0h1M1671 272h2m3 0h2m25 0h1m2 0h1m3 0h1m6 0h1m3 0h3m1 0h5m1 0h3m1 0h11m1 0h3m1 0h2m1 0h2m1 0h2m1 0h3m1 0h1m3 0h1m2 0h2m1 0h1M1670 273h2m3 0h2m11 0h1m11 0h1m1 0h1m3 0h1m8 0h2m1 0h1m4 0h4m1 0h1m1 0h2m1 0h2m2 0h1m1 0h1m1 0h1m1 0h1m1 0h1m1 0h1m2 0h1m2 0h2m1 0h3m2 0h1m1 0h2m1 0h4m1 0h1m1 0h2M1668 274h2m4 0h2m12 0h1m11 0h2m8 0h1m5 0h1m1 0h1m1 0h2m1 0h4m1 0h1m1 0h1m3 0h1m1 0h5m2 0h3m1 0h5m1 0h1m1 0h3m1 0h3m1 0h2m3 0h1m1 0h2m3 0h1M1667 275h2m3 0h3m4 0h1m8 0h1m6 0h2m4 0h1m1 0h1m2 0h1m1 0h3m2 0h5m1 0h2m2 0h2m1 0h9m1 0h1m1 0h2m3 0h1m2 0h5m2 0h8m1 0h1m1 0h2m5 0h1M1666 276h1m5 0h1m5 0h2m5 0h1m16 0h2m3 0h1m6 0h1m1 0h2m3 0h1m1 0h1m1 0h1m2 0h3m1 0h1m1 0h4m2 0h1m1 0h2m2 0h2m2 0h1m3 0h1m1 0h3m1 0h1m1 0h2m2 0h2M1665 277h1m4 0h2m5 0h1m7 0h1m8 0h1m6 0h3m1 0h1m4 0h4m1 0h2m4 0h3m1 0h1m1 0h1m1 0h1m1 0h10m1 0h1m2 0h2m1 0h1m1 0h1m1 0h5m1 0h5m2 0h2M1664 278h2m3 0h3m3 0h2m8 0h1m1 0h1m3 0h1m1 0h1m7 0h4m3 0h2m1 0h3m3 0h4m2 0h2m3 0h2m2 0h5m2 0h3m1 0h3m1 0h1m1 0h3m1 0h6m1 0h1m1 0h1m3 0h1M1663 279h1m4 0h2m4 0h2m12 0h1m1 0h1m1 0h1m9 0h1m5 0h1m2 0h1m1 0h1m3 0h1m1 0h3m1 0h1m1 0h2m2 0h5m2 0h2m1 0h2m1 0h1m3 0h1m2 0h1m1 0h6m1 0h1m2 0h1m1 0h1m2 0h1m5 0h1M1667 280h1m4 0h4m4 0h1m1 0h1m10 0h2m3 0h1m5 0h1m3 0h2m3 0h1m2 0h3m3 0h5m2 0h1m1 0h3m2 0h9m2 0h3m1 0h4m1 0h3M1665 281h2m5 0h1m7 0h1m1 0h1m11 0h1m1 0h2m1 0h1m1 0h3m3 0h1m4 0h1m4 0h5m3 0h3m1 0h8m1 0h1m1 0h3m1 0h1m2 0h2m2 0h1m1 0h2m2 0h2m5 0h1M1664 282h2m4 0h2m1 0h1m6 0h1m8 0h2m2 0h1m1 0h2m1 0h1m10 0h2m2 0h2m2 0h3m1 0h9m1 0h4m1 0h3m2 0h4m1 0h1m1 0h2m1 0h2m1 0h1m4 0h1m1 0h1m2 0h1M1663 283h2m4 0h1m8 0h2m14 0h3m3 0h1m1 0h9m1 0h3m1 0h2m1 0h1m1 0h1m3 0h7m1 0h2m1 0h3m1 0h8m1 0h2m1 0h1m1 0h1m5 0h1m1 0h1m3 0h1M1662 284h1m5 0h2m7 0h2m2 0h2m4 0h1m5 0h1m1 0h1m3 0h2m1 0h1m4 0h2m7 0h1m4 0h2m4 0h1m2 0h5m1 0h6m1 0h2m1 0h2m1 0h3m4 0h2m6 0h2M1665 285h1m1 0h1m8 0h2m5 0h1m3 0h1m3 0h2m7 0h1m2 0h1m4 0h1m1 0h9m1 0h5m2 0h1m1 0h5m1 0h5m1 0h1m1 0h2m3 0h1m2 0h1m4 0h1m1 0h1m5 0h1M1666 286h1m8 0h2m4 0h1m7 0h3m2 0h1m5 0h1m5 0h2m1 0h5m1 0h1m2 0h5m1 0h6m1 0h6m1 0h1m2 0h1m1 0h1m1 0h1m2 0h2m1 0h1m2 0h2m8 0h1M1664 287h2m7 0h2m7 0h1m6 0h2m1 0h1m2 0h2m4 0h1m4 0h2m1 0h3m1 0h5m4 0h14m3 0h1m2 0h2m2 0h2m2 0h3m3 0h3m4 0h1M1663 288h2m7 0h1m4 0h1m6 0h1m2 0h4m2 0h1m1 0h3m7 0h1m1 0h1m2 0h3m1 0h1m1 0h5m1 0h1m1 0h4m1 0h8m1 0h3m1 0h4m5 0h1M1662 289h1m7 0h3m2 0h2m3 0h1m3 0h1m2 0h2m8 0h2m4 0h6m1 0h1m1 0h1m1 0h1m1 0h6m1 0h5m1 0h3m2 0h3m1 0h3m4 0h3M1660 290h3m7 0h2m8 0h1m4 0h2m2 0h1m5 0h1m1 0h2m1 0h2m1 0h4m3 0h3m1 0h1m3 0h1m1 0h2m1 0h3m1 0h4m2 0h2m1 0h3m1 0h1m1 0h7M1660 291h1m8 0h1m4 0h1m1 0h1m3 0h2m1 0h4m6 0h1m1 0h1m1 0h3m2 0h2m1 0h3m4 0h1m1 0h8m1 0h3m3 0h2m1 0h3m1 0h4m7 0h1m1 0h2M1668 292h1m6 0h1m1 0h1m1 0h1m3 0h2m1 0h1m4 0h3m1 0h2m4 0h2m3 0h3m2 0h1m3 0h4m1 0h1m1 0h1m1 0h1m1 0h1m1 0h3m2 0h1m1 0h1m2 0h3m3 0h2M1666 293h2m12 0h1m1 0h2m1 0h1m2 0h1m1 0h3m2 0h1m4 0h2m1 0h1m2 0h1m2 0h1m1 0h1m1 0h5m2 0h3m1 0h1m1 0h1m2 0h4m1 0h2m1 0h1m1 0h1m1 0h1m2 0h1m2 0h1m1 0h1M1665 294h2m11 0h1m1 0h2m3 0h2m2 0h1m3 0h1m1 0h1m1 0h5m1 0h2m3 0h2m1 0h2m1 0h2m2 0h5m1 0h1m1 0h2m1 0h6m2 0h2m2 0h1m4 0h1m2 0h1M1664 295h2m13 0h3m10 0h1m5 0h3m1 0h2m2 0h2m4 0h4m1 0h6m1 0h2m1 0h1m1 0h4m2 0h1m11 0h2m8 0h1M1662 296h2m2 0h1m6 0h3m2 0h6m1 0h1m3 0h1m1 0h1m4 0h1m2 0h5m1 0h2m2 0h1m1 0h3m1 0h1m1 0h6m2 0h2m2 0h4m1 0h4m1 0h2m7 0h2m7 0h1M1661 297h2m13 0h4m3 0h1m2 0h1m3 0h1m1 0h2m1 0h1m1 0h1m1 0h1m1 0h1m1 0h3m1 0h1m1 0h2m2 0h4m2 0h5m2 0h5m2 0h3m2 0h1m2 0h2M1660 298h2m7 0h1m5 0h2m3 0h1m1 0h1m3 0h1m2 0h1m1 0h2m2 0h2m1 0h2m2 0h1m2 0h1m2 0h3m1 0h4m2 0h1m2 0h2m1 0h1m1 0h2m1 0h2m1 0h5m2 0h1m1 0h1m1 0h1M1659 299h2m8 0h1m5 0h1m5 0h2m7 0h2m2 0h5m1 0h1m1 0h4m2 0h3m2 0h1m2 0h5m4 0h1m3 0h1m1 0h4m1 0h1m2 0h3m1 0h2M1670 300h1m1 0h3m12 0h1m2 0h7m1 0h1m1 0h6m2 0h4m2 0h1m7 0h2m6 0h1m6 0h1m1 0h1m1 0h1M1672 301h3m1 0h1m2 0h2m3 0h1m1 0h5m6 0h1m2 0h5m2 0h2m1 0h1m1 0h2m1 0h5m4 0h6m7 0h1M1669 302h1m1 0h2m3 0h3m3 0h1m1 0h1m2 0h1m2 0h1m4 0h3m1 0h1m1 0h1m1 0h2m2 0h1m2 0h4m1 0h2m3 0h1m1 0h2m1 0h2m12 0h1M1669 303h4m1 0h1m2 0h1m1 0h1m1 0h1m4 0h2m1 0h1m5 0h1m1 0h2m1 0h2m1 0h6m1 0h1m1 0h1m2 0h1m2 0h1m1 0h1m1 0h1m1 0h1m1 0h1m1 0h3m1 0h1m6 0h1M1668 304h2m3 0h1m3 0h1m2 0h1m3 0h2m5 0h4m2 0h1m3 0h3m1 0h1m1 0h1m1 0h2m2 0h2m2 0h1m2 0h1m1 0h3m2 0h1m2 0h2M1667 305h2m2 0h3m5 0h1m2 0h3m3 0h3m2 0h1m1 0h1m1 0h1m1 0h4m1 0h2m1 0h1m5 0h2m1 0h2m1 0h1m4 0h2m4 0h1m5 0h1M1660 306h1m5 0h2m14 0h1m1 0h1m2 0h1m1 0h1m3 0h4m4 0h10m1 0h1m1 0h3m2 0h2m2 0h1m3 0h2m1 0h1m4 0h1M1660 307h1m4 0h2m13 0h2m1 0h2m2 0h1m1 0h2m2 0h3m1 0h2m4 0h1m5 0h1m2 0h1m3 0h1m3 0h2m3 0h1m2 0h2m3 0h1M1661 308h1m1 0h2m11 0h6m2 0h2m3 0h1m2 0h3m4 0h1m1 0h1m1 0h1m4 0h2m4 0h5m1 0h1m3 0h1m4 0h1m4 0h1M1661 309h3m1 0h1m4 0h1m6 0h3m3 0h1m8 0h2m7 0h1m2 0h2m2 0h1m1 0h1m4 0h1m12 0h1M1661 310h2m6 0h1m7 0h1m1 0h3m3 0h2m4 0h1m1 0h2m10 0h1m4 0h1m4 0h1m4 0h1m2 0h3M1660 311h2m1 0h1m11 0h2m4 0h1m3 0h2m1 0h4m3 0h1m6 0h2m1 0h1m1 0h2m2 0h1m8 0h1m1 0h1m5 0h1M1658 312h3m14 0h1m4 0h1m1 0h1m2 0h1m4 0h1m4 0h1m3 0h5m4 0h2m1 0h3m2 0h1m3 0h2m5 0h1m1 0h1M1658 313h1m11 0h2m3 0h1m7 0h1m7 0h1m1 0h1m3 0h1m1 0h1m4 0h1m3 0h3m1 0h1m4 0h2m4 0h1m1 0h1M1658 314h1m32 0h1m2 0h2m2 0h1m1 0h1m1 0h1m3 0h1m2 0h2m3 0h3m7 0h1M1668 315h2m5 0h1m3 0h2m2 0h2m7 0h1m4 0h1m4 0h1m1 0h3m7 0h2m2 0h1m6 0h1M1668 316h1m6 0h1m4 0h1m6 0h1m4 0h2m3 0h1m4 0h1m6 0h2m1 0h1m3 0h2m1 0h1m5 0h2M1668 317h1m6 0h1m1 0h1m8 0h2m4 0h1m4 0h3m1 0h1m2 0h1m8 0h3M1669 318h1m5 0h1m2 0h1m3 0h1m2 0h1m3 0h1m1 0h1m6 0h5m1 0h4m13 0h1M1674 319h1m6 0h1m6 0h3m9 0h1m1 0h1m3 0h2m6 0h2m6 0h1m3 0h1M1688 320h1m9 0h1m1 0h2m4 0h1m7 0h1m1 0h1m8 0h1M1658 321h1m15 0h1m1 0h1m6 0h1m14 0h1m1 0h1M1654 322h1m4 0h1m14 0h1m1 0h1m5 0h1m14 0h1M1653 323h1m37 0h1m3 0h1m1 0h1m6 0h3m2 0h1M1690 324h1m5 0h1m5 0h1m6 0h1M1695 325h1m5 0h1m4 0h1m3 0h2M1695 326h1m9 0h3M1638 363h2m10 0h2m4 0h109m2 0h4m1 0h3m25 0h4m6 0h2" stroke="#000"/>
<path d="M1957 87h1m4 0h1M1971 89h1M1956 91h1M1946 95h1M1933 104h1M1938 107h1M1936 109h1M1927 110h1m5 0h1M1959 111h1M1925 112h1M1952 113h1M1924 114h1M1961 116h1M1925 117h1m7 0h1M1919 118h1M1953 119h1M1924 120h1M1917 121h1m17 0h1m14 0h1M1922 122h1M1931 123h1M1928 124h1M1947 125h1M1934 126h1m15 0h1M1912 128h1m12 0h1M1910 129h1m3 0h1m4 0h1m3 0h1m13 0h1M1919 131h1m2 0h1m4 0h1M1928 133h1m11 0h1M1918 135h1m7 0h1m4 0h1M1920 136h1M1909 137h1M1904 139h1m22 0h1M1910 140h1m12 0h1M1918 141h1m16 0h1M1930 143h1M1913 144h1m3 0h1M1915 145h1M1915 148h1m6 0h1M1912 150h1m2 0h1M1913 152h1M1907 153h1m1 0h1M1904 155h1m2 0h1M1753 242h1m2 0h1m2 0h1M1757 245h1M1747 246h1M1745 247h1M1740 251h1M1724 256h1M1722 258h1M1722 260h1M1726 261h1M1717 262h1M1687 268h1m9 0h1M1702 269h1m1 0h1M1697 270h1m2 0h1M1689 271h1m2 0h1m21 0h1M1692 273h1m5 0h1m9 0h1M1693 275h1m79 0h1M1699 276h1M1683 277h1M1696 278h1m1 0h1M1706 279h1M1678 281h1m7 0h1M1769 282h1M1671 284h1M1685 285h1m11 0h1M1766 286h1M1703 287h1M1758 289h1M1691 290h1m60 0h1M1657 291h1m99 0h1m1 0h1M1757 293h1M1751 294h1M1670 296h1M1745 297h1m5 0h1m3 0h1M1667 298h1M1684 299h1M1664 300h1M1654 301h1m12 0h1m66 0h1M1693 302h1M1735 303h1m5 0h1M1654 304h1m10 0h1M1677 306h1m62 0h1M1651 308h1M1654 309h1m82 0h1m8 0h1M1652 310h1m60 0h1m3 0h1M1648 311h1m18 0h1m66 0h1m5 0h1m1 0h1M1673 312h1M1663 314h1m2 0h1m10 0h1m9 0h1m1 0h1m40 0h1M1654 315h1m5 0h1m12 0h1m63 0h1M1663 316h1m26 0h1m30 0h1m7 0h1M1672 318h1M1694 319h1m16 0h1m22 0h1m2 0h1M1709 320h1m8 0h1m1 0h1M1680 321h1M1670 322h1m14 0h1m16 0h1M1668 323h1m30 0h1M1673 324h1m11 0h1m32 0h1m7 0h1M1650 325h1m41 0h1M1666 326h1m54 0h1m2 0h1M1646 327h1M1660 328h1m5 0h1M1646 335h1M1634 363h1m19 0h1m137 0h1m1 0h1m2 0h1m9 0h1m5 0h1m11 0h1" stroke="#000" stroke-opacity="1"/>
</g>
<text x="1624.6" y="418.7" font-size="25" text-anchor="middle">0.01</text>
<text x="1593.1" y="376.8" font-size="25" text-anchor="end">0.01</text>
<text x="1729.6" y="418.7" font-size="25" text-anchor="middle">1</text>
<text x="1593.1" y="291.8" font-size="25" text-anchor="end">1</text>
<text x="1833.5" y="418.7" font-size="25" text-anchor="middle">100</text>
<text x="1593.1" y="206.8" font-size="25" text-anchor="end">100</text>
<text x="1940.0" y="418.7" font-size="25" text-anchor="middle">10,000</text>
<text x="1593.1" y="121.8" font-size="25" text-anchor="end">10,000</text>
<path d="M1611.6 60.8H2004.2V381.8H1611.6ZM1625.8 381.8v12.6M1611.6 369.8h-12.6M1729.6 381.8v12.6M1611.6 284.8h-12.6M1833.5 381.8v12.6M1611.6 199.8h-12.6M1937.3 381.8v12.6M1611.6 114.8h-12.6" fill="none" stroke="#000" stroke-width="1.35"/>
<text transform="translate(1537 235.4) rotate(-90)" font-size="25" text-anchor="middle">T2 RPKM</text>
<text x="1806.7" y="463.5" font-size="25" text-anchor="middle">C RPKM</text>
<circle cx="1786" cy="301.7" r="5.4" fill="#ed1c24"/><circle cx="1786" cy="333.4" r="5.4" fill="#4a4fa2"/>
<text x="1794" y="312" font-size="25">DEG up= 2,648</text>
<text x="1794" y="341.7" font-size="25">DEG down= 1,299</text>
<g transform="translate(0 0.5)" fill="none" stroke-width="1" shape-rendering="crispEdges">
<path d="M1090 616h1M1090 617h1M1090 622h1M1090 627h1M1090 632h1M1090 633h1M1090 635h1M1090 636h1M1090 637h1M1090 638h1M1090 639h1M1090 640h1M1090 641h1M1090 643h1M1090 646h1M1090 647h1M1090 648h1M1090 649h1M1090 650h1M1090 651h1M1090 652h1M1090 654h1M1090 655h1M1090 657h1M1090 658h1M1090 659h1M1090 660h1M1090 662h1M1090 664h1M1090 666h1M1090 667h1M1090 668h1M1090 669h1M1090 670h1M1090 671h1M1090 672h1M1090 673h1M1090 674h1M1090 675h1M1090 676h1M1090 678h1M1090 679h1M1090 680h1M1090 681h1M1090 682h1M1090 683h1M1090 684h1M1090 685h1M1090 687h1M1090 689h1M1090 690h1M1090 691h1M1090 695h1M1090 696h1M1090 698h1M1090 699h1M1090 700h1M1090 702h1" stroke="#f0787c"/>
<path d="M1090 703h1M1090 704h1M1090 705h1M1090 706h1M1090 707h1M1090 708h1M1090 709h1M1090 710h1M1090 711h1M1090 712h1M1090 713h1M1090 714h1M1090 715h1M1090 716h1M1090 717h1M1090 718h1M1090 719h1M1090 720h1M1090 721h1M1090 723h1M1090 724h1M1090 725h1M1090 726h1M1090 727h1M1090 728h1M1090 729h1M1090 730h1M1090 731h1M1090 732h1M1090 733h1M1090 734h1M1090 735h1M1090 736h1M1090 737h1M1090 738h1M1090 740h1M1090 741h1M1090 742h1M1090 744h1M1090 745h1M1090 747h1M1090 748h1M1090 749h1M1090 750h1M1089 787h2m9 0h2m1 0h1m3 0h103m3 0h2m1 0h6m1 0h2m1 0h1m1 0h1m1 0h12m1 0h1m42 0h1" stroke="#2e2e2e"/>
<path d="M1366 532h1M1367 533h1M1350 542h1M1350 543h2M1336 548h1M1337 549h2m12 0h1M1334 550h1m14 0h1m1 0h1M1332 551h2m14 0h2m1 0h1M1336 552h1m12 0h3M1336 553h1m12 0h1m1 0h2m3 0h1M1351 554h2m4 0h1m1 0h2M1342 555h1m5 0h1m1 0h1m7 0h1M1342 556h1m5 0h3M1341 557h1m3 0h2m1 0h1m2 0h1M1341 558h2m2 0h2m3 0h1m1 0h2M1346 559h1m1 0h3m1 0h1M1339 560h2m6 0h1m2 0h4M1331 561h1m13 0h3m1 0h3m1 0h1M1323 562h1m1 0h1m5 0h1m9 0h4m2 0h2m2 0h2M1324 563h1m5 0h1m6 0h1m2 0h1m1 0h1m3 0h1m1 0h1m1 0h1M1316 564h1m7 0h1m12 0h1m2 0h1m2 0h1m1 0h1m1 0h1m1 0h1M1317 565h1m3 0h1m2 0h2m12 0h2m1 0h3m2 0h3M1316 566h1m1 0h1m1 0h1m4 0h1m3 0h1m5 0h1m7 0h1m2 0h2M1329 567h1m6 0h1m4 0h1m2 0h3M1326 568h2m5 0h1m3 0h1m1 0h2M1320 569h1m12 0h1m5 0h3M1314 570h1m4 0h2m1 0h2m1 0h2m8 0h1m3 0h1M1308 571h1m3 0h3m6 0h1m3 0h1m1 0h1m1 0h1m1 0h3m1 0h3m2 0h3M1308 572h1m2 0h1m9 0h1m2 0h2m2 0h1m6 0h1m3 0h4M1309 573h1m6 0h1m5 0h1m1 0h2m5 0h2m3 0h6M1296 574h1m1 0h1m18 0h1m2 0h2m2 0h1m1 0h1m3 0h1m1 0h1m1 0h1m3 0h2M1295 575h1m2 0h1m11 0h1m9 0h2m1 0h2m5 0h9M1295 576h1m15 0h1m7 0h3m1 0h1m1 0h4m3 0h2m1 0h1m2 0h1M1315 577h3m1 0h2m4 0h2m2 0h1m2 0h2m1 0h2M1306 578h1m5 0h1m2 0h1m6 0h6m2 0h1m2 0h2M1298 579h1m5 0h1m2 0h1m3 0h2m7 0h2m1 0h2m1 0h3m1 0h1m2 0h2M1298 580h1m5 0h1m1 0h1m5 0h1m2 0h2m1 0h1m2 0h1m1 0h5m1 0h1m1 0h2M1294 581h1m10 0h2m6 0h1m1 0h2m2 0h1m1 0h3m2 0h6M1290 582h1m3 0h1m7 0h1m3 0h2m7 0h4m1 0h1m1 0h1m1 0h4m2 0h1M1290 583h1m4 0h1m5 0h2m2 0h1m6 0h1m1 0h2m2 0h2m1 0h6m1 0h2M1279 584h2m5 0h3m16 0h1m2 0h1m2 0h3m2 0h1m2 0h2m1 0h6M1281 585h1m19 0h1m1 0h2m3 0h1m1 0h2m1 0h1m2 0h2m2 0h7M1279 586h1m21 0h1m6 0h1m3 0h3m1 0h2m1 0h6M1278 587h1m12 0h2m11 0h1m1 0h2m3 0h1m1 0h2m1 0h5m1 0h2M1275 588h1m21 0h4m1 0h2m1 0h1m3 0h5m1 0h3m1 0h4M1274 589h1m10 0h2m3 0h1m4 0h2m1 0h1m3 0h1m2 0h2m2 0h1m3 0h9M1276 590h1m5 0h1m1 0h1m1 0h1m3 0h1m2 0h4m4 0h2m1 0h2m2 0h1m1 0h11M1276 591h1m6 0h1m1 0h1m1 0h1m4 0h1m3 0h1m3 0h1m1 0h1m2 0h6m1 0h4m1 0h3M1276 592h1m6 0h1m3 0h1m4 0h1m5 0h1m2 0h3m1 0h3m1 0h3m1 0h5M1278 593h2m8 0h3m1 0h4m3 0h1m1 0h2m1 0h1m1 0h1m2 0h8M1266 594h1m1 0h1m19 0h1m1 0h1m3 0h1m1 0h3m3 0h1m3 0h10M1253 595h1m13 0h1m2 0h1m9 0h2m1 0h2m4 0h1m4 0h1m2 0h1m1 0h4m1 0h1m2 0h8M1252 596h1m18 0h1m17 0h2m4 0h4m2 0h2m1 0h3m1 0h5M1262 597h1m2 0h1m10 0h1m17 0h2m1 0h3m1 0h1m1 0h1m1 0h7M1263 598h2m10 0h1m4 0h1m8 0h2m4 0h1m1 0h1m1 0h4m2 0h1m1 0h4M1271 599h2m8 0h1m2 0h2m2 0h1m2 0h1m1 0h2m1 0h2m1 0h4m2 0h5M1257 600h1m13 0h1m4 0h1m6 0h2m1 0h3m1 0h2m4 0h6m1 0h6M1238 601h1m19 0h1m7 0h2m3 0h4m1 0h2m6 0h1m4 0h1m2 0h1m1 0h8m1 0h4M1237 602h1m12 0h1m3 0h2m12 0h1m5 0h1m2 0h1m2 0h1m1 0h1m1 0h3m2 0h1m2 0h7m1 0h1m1 0h4M1250 603h1m17 0h1m8 0h1m1 0h2m1 0h1m2 0h3m4 0h13M1250 604h1m24 0h3m1 0h1m1 0h2m3 0h1m1 0h3m1 0h2m1 0h6m1 0h1M1240 605h2m31 0h2m2 0h1m4 0h1m3 0h17M1225 606h2m19 0h1m5 0h1m19 0h2m2 0h2m2 0h1m1 0h1m4 0h4m1 0h4m1 0h1m1 0h2M1245 607h1m7 0h1m1 0h1m7 0h2m4 0h2m5 0h1m1 0h1m2 0h2m1 0h3m1 0h3m1 0h8M1246 608h1m8 0h1m6 0h7m2 0h3m1 0h1m2 0h1m1 0h2m1 0h7m1 0h7M1248 609h1m7 0h1m1 0h1m2 0h1m1 0h1m5 0h2m2 0h1m2 0h1m1 0h2m1 0h7m1 0h1m1 0h7M1249 610h1m9 0h3m1 0h1m1 0h1m2 0h3m4 0h1m1 0h19M1245 611h3m2 0h2m6 0h1m1 0h1m3 0h1m2 0h3m1 0h3m2 0h3m1 0h1m2 0h5m1 0h4m2 0h1M1247 612h1m3 0h1m2 0h2m2 0h2m2 0h1m2 0h2m2 0h1m1 0h8m1 0h3m2 0h5m1 0h3M1234 613h1m1 0h1m11 0h1m2 0h1m3 0h1m5 0h1m4 0h2m4 0h1m3 0h2m1 0h1m1 0h1m1 0h9M1235 614h1m9 0h4m13 0h1m1 0h1m1 0h1m1 0h2m2 0h1m2 0h1m1 0h1m2 0h5m2 0h4M1233 615h2m9 0h1m3 0h1m4 0h1m1 0h3m3 0h1m1 0h1m1 0h2m2 0h1m2 0h2m2 0h3m1 0h10M1215 616h2m19 0h1m2 0h3m4 0h2m3 0h1m1 0h1m3 0h1m2 0h1m1 0h3m2 0h2m1 0h1m4 0h1m3 0h1m1 0h3m1 0h3M1237 617h1m3 0h1m5 0h1m1 0h2m4 0h4m1 0h1m2 0h1m1 0h1m1 0h3m2 0h1m1 0h2m1 0h1m1 0h8M1210 618h1m3 0h1m13 0h1m7 0h1m3 0h3m1 0h1m1 0h1m4 0h1m4 0h1m2 0h1m5 0h1m2 0h19M1211 619h1m2 0h1m12 0h1m2 0h1m13 0h1m2 0h1m2 0h4m1 0h1m1 0h5m2 0h1m2 0h3m4 0h8m1 0h2M1210 620h1m19 0h2m12 0h3m2 0h1m3 0h2m2 0h4m1 0h1m1 0h2m1 0h1m3 0h5m1 0h7M1214 621h1m16 0h1m2 0h1m3 0h1m7 0h3m1 0h1m1 0h1m3 0h1m4 0h7m1 0h12M1212 622h2m18 0h1m1 0h1m1 0h3m5 0h5m2 0h2m3 0h1m5 0h1m1 0h1m1 0h3m1 0h3m1 0h6M1220 623h2m6 0h1m6 0h1m9 0h1m1 0h1m4 0h1m1 0h1m1 0h1m4 0h4m1 0h7m1 0h5M1220 624h1m4 0h1m1 0h1m6 0h3m11 0h2m3 0h3m1 0h5m1 0h8m1 0h5M1226 625h2m1 0h4m1 0h2m3 0h1m6 0h2m1 0h1m3 0h3m4 0h9m1 0h5M1228 626h1m1 0h1m2 0h1m2 0h1m1 0h2m3 0h1m6 0h1m1 0h9m1 0h1m1 0h3m1 0h6M1228 627h1m1 0h1m5 0h1m1 0h1m4 0h1m4 0h2m1 0h2m2 0h4m1 0h3m1 0h8M1219 628h2m6 0h1m1 0h1m5 0h2m1 0h1m2 0h1m5 0h4m1 0h2m1 0h11m1 0h4M1223 629h4m1 0h1m1 0h1m6 0h1m1 0h3m5 0h1m1 0h2m4 0h2m1 0h12M1222 630h1m1 0h1m5 0h1m3 0h2m3 0h1m1 0h2m4 0h6m1 0h5m1 0h8M1179 631h1m44 0h1m4 0h1m2 0h2m5 0h2m8 0h2m1 0h1m1 0h3m1 0h1m1 0h3m1 0h1M1179 632h1m37 0h1m1 0h1m3 0h1m5 0h1m7 0h2m2 0h2m1 0h2m2 0h17M1218 633h1m3 0h1m1 0h2m2 0h1m1 0h1m5 0h2m3 0h2m1 0h2m1 0h3m1 0h5m1 0h1m1 0h5M1204 634h1m10 0h3m3 0h1m2 0h4m1 0h1m1 0h1m4 0h3m1 0h1m2 0h3m1 0h1m1 0h14M1200 635h1m3 0h1m17 0h1m1 0h1m1 0h1m2 0h1m1 0h3m5 0h1m1 0h2m2 0h3m1 0h5m3 0h3M1200 636h1m10 0h1m7 0h1m3 0h1m4 0h3m2 0h1m3 0h1m1 0h1m1 0h3m2 0h1m5 0h8M1210 637h3m4 0h1m2 0h1m2 0h2m2 0h1m1 0h3m3 0h2m1 0h2m2 0h8m1 0h1m1 0h1m2 0h1M1198 638h1m10 0h1m2 0h1m4 0h1m4 0h1m1 0h6m2 0h1m1 0h2m3 0h2m1 0h1m2 0h4m2 0h5M1175 639h1m21 0h1m9 0h1m16 0h4m2 0h1m1 0h1m1 0h2m1 0h3m1 0h6m1 0h6M1174 640h1m31 0h2m1 0h1m8 0h1m3 0h3m5 0h2m6 0h4m2 0h1m1 0h7M1195 641h1m3 0h1m8 0h1m1 0h1m2 0h4m2 0h1m1 0h1m3 0h1m3 0h2m1 0h2m2 0h1m2 0h2m1 0h10M1194 642h1m5 0h1m4 0h2m2 0h1m2 0h1m3 0h2m2 0h1m2 0h5m2 0h2m1 0h2m1 0h1m4 0h1m1 0h1m1 0h4M1200 643h1m3 0h1m1 0h1m2 0h1m1 0h2m7 0h1m1 0h3m1 0h2m1 0h2m1 0h2m1 0h2m1 0h10M1205 644h3m1 0h2m1 0h3m2 0h3m3 0h2m1 0h2m1 0h3m1 0h1m1 0h4m1 0h5M1205 645h2m3 0h3m1 0h1m2 0h1m2 0h1m3 0h2m1 0h1m3 0h4m1 0h1m1 0h1m1 0h3M1188 646h1m19 0h3m2 0h1m2 0h3m2 0h1m2 0h2m2 0h1m1 0h3m1 0h8M1179 647h1m9 0h1m10 0h2m2 0h1m1 0h2m3 0h2m2 0h1m1 0h1m5 0h3m1 0h1m2 0h4m2 0h4M1172 648h3m3 0h2m20 0h1m2 0h5m1 0h2m5 0h2m1 0h1m3 0h1m1 0h1m1 0h4m1 0h2m2 0h3M1188 649h1m4 0h2m5 0h5m2 0h1m5 0h4m3 0h1m1 0h5m1 0h3m1 0h2m1 0h1M1188 650h1m14 0h4m3 0h1m6 0h2m2 0h1m3 0h1m1 0h7M1189 651h1m10 0h1m5 0h1m2 0h1m1 0h1m3 0h1m4 0h1m1 0h5m1 0h2m2 0h2M1189 652h1m10 0h1m1 0h1m2 0h6m2 0h1m2 0h1m3 0h2m1 0h2m2 0h4m1 0h1M1189 653h1m11 0h1m3 0h2m2 0h1m4 0h1m9 0h7M1180 654h1m22 0h1m3 0h1m1 0h1m9 0h1m2 0h2m1 0h4M1181 655h2m2 0h2m4 0h2m10 0h1m2 0h1m2 0h1m4 0h1m3 0h1m1 0h1m3 0h1m1 0h1M1174 656h1m1 0h1m3 0h1m3 0h2m4 0h1m13 0h1m1 0h1m1 0h1m3 0h1m2 0h2m4 0h1m1 0h2M1155 657h2m17 0h2m8 0h1m14 0h3m1 0h3m1 0h3m2 0h1m2 0h2m1 0h2m1 0h1M1180 658h1m5 0h1m13 0h2m1 0h1m1 0h3m1 0h2m3 0h3m1 0h4M1179 659h1m5 0h3m5 0h2m6 0h2m2 0h1m4 0h1m1 0h1m4 0h1m1 0h1M1179 660h1m1 0h1m8 0h2m2 0h1m6 0h1m1 0h2m3 0h1m1 0h2m1 0h1m1 0h1M1181 661h2m3 0h2m10 0h1m3 0h9m1 0h2m1 0h2M1180 662h1m9 0h2m6 0h3m1 0h1m1 0h1m3 0h1m2 0h1m1 0h1m1 0h1M1180 663h1m12 0h1m9 0h1m2 0h3m3 0h1M1178 664h2m3 0h2m9 0h1m1 0h1m1 0h1m3 0h3m1 0h4m1 0h1M1181 665h1m2 0h1m7 0h1m3 0h2m4 0h1m2 0h1m3 0h2M1174 666h3m3 0h1m1 0h2m7 0h1m2 0h2m6 0h1m3 0h3M1177 667h1m1 0h1m5 0h2m5 0h2m2 0h4m1 0h1m1 0h3m1 0h2M1165 668h1m5 0h1m5 0h1m2 0h1m19 0h5M1164 669h1m7 0h2m7 0h1m6 0h1m1 0h1m1 0h1m8 0h1M1177 670h1m2 0h1m1 0h2m2 0h2m3 0h1m1 0h3m2 0h1m2 0h2M1173 671h1m2 0h1m5 0h1m11 0h1m1 0h2m1 0h1M1148 672h1m24 0h1m4 0h1m2 0h3m8 0h3m1 0h3M1149 673h1m23 0h1m1 0h2m1 0h1m1 0h1m1 0h2m1 0h2m6 0h1m2 0h1M1172 674h1m1 0h1m3 0h1m1 0h1m3 0h1m3 0h1m3 0h1m2 0h1M1172 675h3m1 0h3m7 0h2m5 0h1M1158 676h2m15 0h1m1 0h1m1 0h1m8 0h1m2 0h1M1167 677h1m2 0h1m1 0h1m1 0h4m1 0h1m7 0h1M1165 678h2m4 0h1m2 0h1m1 0h2m2 0h1m2 0h1m3 0h1M1152 679h2m11 0h1m4 0h3m3 0h1m1 0h1m3 0h1m1 0h1M1174 680h1m4 0h1m1 0h1M1148 681h1m4 0h1m18 0h2m1 0h1m2 0h2M1148 682h1m3 0h1m7 0h2m10 0h2m4 0h1m2 0h1M1147 683h1m9 0h1m6 0h1m1 0h2m4 0h1m2 0h3M1127 684h1m17 0h2m9 0h1m8 0h1M1127 685h1m24 0h1m13 0h1M1152 686h1M1148 687h1m2 0h1m4 0h1m3 0h2m5 0h1M1147 688h1m3 0h1m5 0h2M1147 689h1m2 0h3m5 0h1M1130 693h1" stroke="#ed1c24"/>
<path d="M1409 507h1M1406 510h1M1398 511h1M1390 512h1m14 0h1M1391 519h1M1377 520h1m20 0h1M1350 524h1m10 0h1m28 0h1M1372 527h1m4 0h1M1376 530h1M1368 531h1M1378 532h1M1378 534h1m2 0h1M1365 535h1M1369 536h1m7 0h1M1365 537h1M1371 538h1m4 0h1M1367 540h1m4 0h1m1 0h1M1372 542h1M1341 543h1M1331 544h1m30 0h1m1 0h1M1344 545h1m3 0h1M1340 546h1m25 0h1M1285 547h1m38 0h1m17 0h1m10 0h1M1345 548h1m2 0h1M1362 550h1M1293 551h1m30 0h1m29 0h1M1342 553h1M1311 554h1m34 0h1M1299 555h1m20 0h1m6 0h1m16 0h1m10 0h1M1332 556h1M1299 557h1m36 0h1M1339 558h1M1328 560h1m4 0h1m3 0h1M1335 561h1M1318 563h1M1332 564h1M1298 565h1M1331 566h1m1 0h1M1307 567h1M1316 568h1m1 0h1m4 0h1M1296 570h1m13 0h1M1298 571h1m17 0h1M1294 572h1m6 0h1M1264 573h1m49 0h1M1288 574h1m18 0h1M1281 575h1m18 0h1m3 0h1M1306 576h1M1308 577h1M1289 579h1m19 0h1M1265 581h1m30 0h1M1262 582h1m19 0h1m26 0h1M1272 583h1M1283 585h1M1143 586h1m145 0h1m7 0h1M1237 587h1m29 0h1M1254 588h1M1216 590h1m44 0h1M1248 591h1m5 0h1M1265 592h1M1232 593h1M1276 594h1M1274 595h1m3 0h1m7 0h1M1260 596h1M1241 597h1m43 0h1m6 0h1M1239 598h1m5 0h1M1225 599h1M1219 600h1m12 0h1m36 0h1M1245 601h1M1224 603h1m6 0h1m30 0h1m3 0h1M1235 604h1m19 0h1m3 0h1m11 0h1M1248 605h1m17 0h1m1 0h1M1216 606h1m5 0h1M1232 607h1m24 0h1M1209 608h1m9 0h1M1253 609h1M1213 611h1m9 0h1m8 0h1m1 0h1m6 0h1M1196 613h1m43 0h1M1230 614h1M1181 615h1m30 0h1M1226 617h1M1198 618h1m20 0h1m4 0h1m7 0h1M1196 620h1M1219 621h1M1180 622h1m61 0h1M1199 624h1M1216 625h1m1 0h1M1192 626h1m12 0h1m18 0h1m16 0h1M1179 627h1m30 0h1M1212 628h1M1207 630h1m2 0h1m5 0h1M1226 631h1M1175 633h1m57 0h1M1193 634h1m1 0h1M1198 635h1M1193 637h1m1 0h1m7 0h1m1 0h1M1153 638h1m2 0h1m21 0h1m36 0h1M1220 639h1M1177 640h1M1149 641h1m21 0h1m7 0h1M1186 642h1M1150 643h1m28 0h1m3 0h1m4 0h1m9 0h1m3 0h1M1190 644h1M1199 645h1m3 0h1M1163 646h1m22 0h1M1168 647h1m12 0h1m9 0h1M1198 648h1M1174 650h1m9 0h1M1169 651h1m12 0h1m14 0h1M1173 652h1m11 0h1m5 0h1m26 0h1M1172 654h1m26 0h1M1154 655h1m40 0h1m5 0h1M1197 656h1M1182 657h1m11 0h1M1190 658h1M1121 659h1m20 0h1m6 0h1m9 0h1m15 0h1m20 0h1m1 0h1M1144 661h1m32 0h1M1148 662h1m47 0h1M1169 663h1m5 0h1m12 0h1M1120 664h1m38 0h1m4 0h1m8 0h1m26 0h1M1189 665h1M1132 666h1m18 0h1M1151 668h1m16 0h1m6 0h1M1137 669h1M1148 670h1m7 0h1M1135 671h1M1159 672h1m7 0h1m21 0h1M1140 673h1m3 0h1m17 0h1m2 0h1M1151 674h1m38 0h1M1144 675h1m11 0h1M1182 676h1M1132 678h1m22 0h1M1139 679h1m6 0h1m12 0h1M1163 680h1M1131 681h1m33 0h1m1 0h1M1115 682h1m12 0h1m7 0h1m1 0h1M1150 684h1M1154 685h1m17 0h1M1125 686h1m37 0h1M1121 687h1M1135 688h1m6 0h1M1102 689h1m27 0h1M1160 690h1M1155 691h1M1124 692h1M1098 700h1" stroke="#ed1c24" stroke-opacity="0.9"/>
<path d="M1393 563h1M1376 572h1M1378 573h1M1373 574h1m4 0h1m3 0h1M1373 575h1m3 0h2m2 0h1M1372 576h1M1376 578h2M1377 579h1M1360 582h1m1 0h1m7 0h1M1361 583h1m4 0h2m3 0h1M1365 584h1M1372 585h1M1353 586h1m3 0h1m14 0h1M1351 587h2m5 0h1m4 0h1M1350 588h4m3 0h1m1 0h2m1 0h2M1348 589h3m7 0h1M1348 590h1m1 0h4m3 0h1M1344 591h3m1 0h1m1 0h3m4 0h1M1343 592h5m1 0h1m1 0h4M1342 593h3m1 0h3m4 0h1M1339 594h3m1 0h3m1 0h1m1 0h2m2 0h1M1339 595h7m1 0h3m3 0h1M1338 596h2m5 0h1m1 0h3M1336 597h3m1 0h4m3 0h1m1 0h1m3 0h1M1335 598h4m1 0h2m1 0h1m1 0h1m3 0h1m2 0h1M1333 599h6m2 0h2m1 0h1m1 0h6M1333 600h3m2 0h2m2 0h3m3 0h1m1 0h1m1 0h1M1331 601h5m1 0h1m1 0h3m1 0h1M1330 602h4m1 0h2m1 0h1m3 0h2M1329 603h1m3 0h1m1 0h1m7 0h2M1328 604h2m3 0h1m10 0h1M1326 605h2m1 0h1m2 0h2m2 0h1m1 0h1m5 0h1M1326 606h4m2 0h2m1 0h1m1 0h1m1 0h1M1325 607h3m1 0h5m3 0h1m3 0h2m6 0h2M1323 608h4m2 0h2m1 0h1m2 0h1m5 0h2M1323 609h5m1 0h1m1 0h1m4 0h1m8 0h1M1320 610h8m1 0h1m1 0h1m2 0h1m4 0h2m1 0h1m1 0h1M1319 611h2m1 0h2m1 0h3m2 0h1m1 0h1m2 0h4m2 0h1m3 0h1M1319 612h2m2 0h1m1 0h3m6 0h2M1317 613h3m1 0h3m1 0h1m2 0h1m1 0h1m5 0h1M1315 614h4m1 0h1m1 0h5m2 0h1m7 0h1M1315 615h2m1 0h1m1 0h1m1 0h1m3 0h3m1 0h1m1 0h3m3 0h1M1314 616h7m1 0h1m2 0h1m2 0h3m1 0h1m3 0h1m4 0h1M1312 617h3m1 0h5m4 0h1m1 0h1m5 0h1m1 0h1m5 0h1M1312 618h6m7 0h2m1 0h1m4 0h1m7 0h1M1310 619h3m1 0h3m1 0h3m9 0h1m1 0h1M1309 620h1m1 0h1m1 0h1m1 0h1m6 0h2m5 0h2M1309 621h1m2 0h5m1 0h2m1 0h2m2 0h1m2 0h2M1307 622h7m2 0h2m1 0h1m1 0h2m2 0h1m3 0h1M1306 623h6m1 0h3m2 0h1m1 0h1m1 0h1m3 0h1M1305 624h4m1 0h1m1 0h3m3 0h2m4 0h3M1303 625h3m3 0h6m1 0h1m2 0h2m3 0h1m1 0h1m4 0h1M1302 626h3m1 0h4m1 0h3m3 0h1m1 0h1m1 0h3m1 0h1m5 0h1M1301 627h2m3 0h1m1 0h1m2 0h1m4 0h1m6 0h1m2 0h2M1300 628h7m2 0h3m2 0h1m2 0h1m3 0h1m2 0h1M1298 629h7m2 0h7m7 0h1M1298 630h2m1 0h3m2 0h3m1 0h1m2 0h2m3 0h1m2 0h2m10 0h1M1297 631h6m1 0h2m1 0h4m2 0h2m4 0h1m3 0h1m10 0h1M1294 632h6m1 0h5m3 0h2m5 0h2m2 0h1M1294 633h1m1 0h6m1 0h1m2 0h7m2 0h1m1 0h1m3 0h2M1294 634h3m1 0h2m2 0h2m2 0h2m1 0h2M1291 635h1m1 0h3m1 0h2m1 0h1m2 0h1m1 0h2m3 0h1M1291 636h2m1 0h2m1 0h2m4 0h1m6 0h1m3 0h1m6 0h1M1289 637h6m1 0h1m1 0h4m3 0h3m3 0h1m2 0h1m1 0h3m2 0h1M1289 638h1m2 0h3m1 0h2m4 0h1m6 0h1m7 0h1m1 0h1m2 0h1M1287 639h3m1 0h6m2 0h1m2 0h3m2 0h1m2 0h1m2 0h1m3 0h1m2 0h1m5 0h1M1287 640h5m1 0h1m1 0h1m3 0h1m4 0h3m1 0h2m1 0h2m6 0h1m4 0h3M1285 641h3m1 0h4m1 0h1m2 0h2m1 0h1m1 0h1m1 0h1m3 0h1m2 0h2m12 0h1M1285 642h5m1 0h2m4 0h1m1 0h1m1 0h1m1 0h2m1 0h2m2 0h1m13 0h1M1283 643h3m2 0h2m2 0h2m4 0h2m2 0h1m1 0h1m1 0h1m2 0h2M1282 644h5m1 0h1m1 0h1m1 0h2m1 0h1m1 0h2m2 0h1m1 0h1m5 0h2M1281 645h3m1 0h1m2 0h5m2 0h1m2 0h3m4 0h1m2 0h1m4 0h1m12 0h1M1279 646h1m3 0h2m3 0h3m1 0h1m1 0h1m1 0h2m2 0h1m2 0h1m2 0h1m1 0h1m3 0h1m14 0h1M1279 647h1m1 0h4m1 0h1m1 0h3m2 0h3m2 0h1m3 0h1m13 0h1M1279 648h4m2 0h6m4 0h1m11 0h1m6 0h1m1 0h1M1278 649h1m2 0h1m1 0h4m1 0h3m1 0h1m10 0h1m2 0h1m8 0h2M1276 650h3m1 0h2m3 0h8m3 0h1m6 0h1m4 0h1M1274 651h5m1 0h4m1 0h1m10 0h1m6 0h1m3 0h1M1274 652h4m1 0h1m1 0h4m2 0h2m7 0h1m2 0h1m7 0h1m1 0h1M1272 653h1m1 0h5m1 0h1m2 0h1m2 0h1m1 0h1m2 0h2m5 0h1m10 0h1M1271 654h1m3 0h1m1 0h1m5 0h1m3 0h2m2 0h1m2 0h1m2 0h1m1 0h1M1271 655h2m1 0h3m4 0h2m1 0h1m1 0h4m4 0h1m1 0h3M1270 656h2m2 0h1m2 0h1m1 0h6m3 0h3m6 0h1m1 0h1M1269 657h1m3 0h3m1 0h2m2 0h2m5 0h1m1 0h1m3 0h2m1 0h2M1267 658h1m1 0h1m2 0h1m1 0h1m4 0h1m2 0h1m4 0h4m5 0h2m3 0h1M1267 659h2m3 0h2m1 0h1m2 0h2m1 0h1m13 0h1m6 0h1M1269 660h3m5 0h2m1 0h2m4 0h2m1 0h2M1265 661h4m1 0h2m4 0h1m2 0h3m1 0h3m4 0h2m4 0h2M1264 662h2m3 0h4m3 0h2m1 0h1m7 0h1m2 0h1m4 0h1M1263 663h2m2 0h2m1 0h2m5 0h1m1 0h2m5 0h1m3 0h1M1262 664h1m1 0h4m6 0h1m8 0h2m7 0h1M1261 665h1m1 0h1m1 0h4m2 0h4m4 0h1m1 0h1m10 0h1M1261 666h2m3 0h1m1 0h1m1 0h1m3 0h2m4 0h1m2 0h1m1 0h2m5 0h1M1260 667h1m2 0h5m2 0h2m2 0h1m1 0h1m5 0h2m2 0h1m2 0h2m15 0h1M1260 668h1m2 0h4m1 0h2m1 0h1m2 0h1m4 0h1m11 0h2m2 0h1m11 0h1M1258 669h3m3 0h1m1 0h1m1 0h2m1 0h2m1 0h1m1 0h1m2 0h2m2 0h1m7 0h1m2 0h1M1258 670h2m3 0h1m9 0h1m1 0h2m6 0h1m5 0h2M1259 671h1m1 0h1m1 0h2m4 0h1m1 0h1m1 0h1m3 0h2m5 0h1m4 0h1M1256 672h1m1 0h4m3 0h1m4 0h1m2 0h1m3 0h1m5 0h1M1257 673h2m3 0h3m2 0h1m3 0h1m10 0h2m1 0h1M1253 674h4m10 0h1m3 0h1m5 0h1m2 0h2m4 0h1M1254 675h4m1 0h1m1 0h1m4 0h1m4 0h1m3 0h2m5 0h1M1252 676h1m4 0h1m1 0h1m2 0h1m8 0h1m8 0h1M1251 677h2m1 0h1m2 0h2m1 0h1m1 0h4m1 0h1m3 0h1m7 0h1m1 0h1M1251 678h2m1 0h4m1 0h1m2 0h1m4 0h1m5 0h2m6 0h1M1250 679h4m2 0h1m1 0h1m1 0h1m2 0h1m3 0h1m4 0h1m16 0h2M1250 680h2m5 0h1m1 0h2m1 0h2m2 0h1M1250 681h1m1 0h1m2 0h1m3 0h1m3 0h2m2 0h2m4 0h1M1251 682h4m1 0h1m2 0h3m3 0h1m6 0h1m2 0h2M1247 683h1m2 0h1m1 0h1m4 0h1m2 0h3m3 0h2m2 0h1m2 0h1m9 0h1M1248 684h1m1 0h1m2 0h2m7 0h2m6 0h1m4 0h1m8 0h1M1249 685h1m2 0h2m2 0h1m18 0h1m9 0h1M1250 686h1m3 0h1m1 0h1m18 0h1m11 0h1M1245 687h1m3 0h5m3 0h1m3 0h2m24 0h1M1243 688h1m2 0h1m2 0h4m4 0h2m6 0h5m11 0h1M1243 689h1m1 0h1m3 0h1m4 0h1m4 0h1m3 0h1m2 0h1m1 0h1m11 0h1M1252 690h1m1 0h1m2 0h1m5 0h1m1 0h1m2 0h1M1241 691h1m4 0h2m1 0h1m1 0h1m4 0h2m6 0h1m2 0h1M1240 692h2m1 0h1m2 0h1m1 0h1m7 0h1m1 0h1m9 0h1M1240 693h1m3 0h2m1 0h2m1 0h1m1 0h1m5 0h1m2 0h1M1239 694h1m6 0h1m1 0h1m1 0h1m1 0h1m2 0h1m1 0h1m1 0h1m1 0h1m16 0h1m6 0h1M1240 695h2m4 0h1m3 0h1m3 0h1m3 0h1m20 0h1m4 0h1M1239 696h1m1 0h3m8 0h2m1 0h1m2 0h1M1239 697h1m1 0h1m12 0h1M1241 698h1m1 0h1m11 0h1M1236 699h3m3 0h1m1 0h2m4 0h1m3 0h1M1235 700h1m1 0h1m12 0h3M1241 701h2m6 0h2m1 0h2m2 0h3m1 0h1m1 0h1M1232 702h1m10 0h2m5 0h1m6 0h2m2 0h1M1232 703h2m2 0h2m2 0h1m3 0h1m5 0h1m5 0h1m5 0h1m2 0h2M1233 704h1m5 0h1m17 0h1m7 0h2M1230 705h2m5 0h1m11 0h1m7 0h1M1229 706h2m3 0h1m1 0h1m1 0h1m1 0h2m6 0h1M1229 707h1m3 0h2m6 0h1M1229 708h1m1 0h1m3 0h1M1229 709h3m1 0h2m2 0h1m12 0h3M1229 710h1m2 0h1m3 0h1m6 0h1m2 0h1M1231 711h2m6 0h1m1 0h2m2 0h1M1227 712h2m11 0h1m2 0h1M1226 713h3M1224 714h1m6 0h2M1225 715h4m1 0h1m4 0h2M1224 716h1m1 0h1m3 0h2M1221 717h1m4 0h1m8 0h1M1224 718h1m2 0h3m5 0h1M1224 719h1m4 0h1m2 0h1m17 0h2M1224 720h1m3 0h2m3 0h1m16 0h1M1228 721h1m3 0h2M1226 722h2m1 0h1m3 0h2M1225 723h2m1 0h1M1226 724h1m3 0h1m1 0h1m1 0h1M1230 725h1m2 0h1M1231 726h1m17 0h1M1229 727h1m1 0h1m18 0h1M1228 728h1M1224 729h1m2 0h3M1223 730h1m2 0h1m3 0h1m2 0h1M1224 731h1m1 0h1m6 0h1M1225 734h1M1223 735h2M1224 736h1M1202 739h1M1203 740h1M1225 742h1M1204 743h1m19 0h1M1203 744h1M1205 787h1m4 0h1m9 0h3m2 0h3m2 0h1m4 0h1m4 0h1m2 0h2m1 0h4m5 0h2m4 0h3" stroke="#4a4fa2"/>
<path d="M1405 556h1M1404 558h1M1386 575h1M1370 576h1M1366 579h1m1 0h1m1 0h1m3 0h1M1364 580h1M1366 581h1M1364 582h1m13 0h1M1359 584h1M1362 585h1m4 0h1M1366 587h1M1375 590h1M1359 591h1m5 0h1m5 0h1m1 0h1M1360 593h1M1358 597h1m3 0h1M1355 598h1M1363 599h1M1362 601h1M1346 602h1m2 0h1m27 0h1M1341 604h1m11 0h1m1 0h1M1346 606h1M1339 608h1M1353 610h1M1343 613h1M1340 614h1M1344 615h1M1347 616h1m14 0h1M1349 618h1M1335 619h1m10 0h1M1333 621h1m8 0h1M1336 623h1m3 0h1M1344 625h1M1339 627h1M1319 628h1m12 0h1M1330 629h1m17 0h1M1325 631h1M1332 632h1M1336 633h1M1326 634h1M1328 636h1M1326 637h1M1347 638h1M1336 640h1M1315 643h1m6 0h1M1317 645h1m2 0h1m1 0h1M1300 648h1M1311 649h1M1294 650h1m5 0h1M1315 652h1M1314 654h1m2 0h1M1333 655h1M1292 656h1m8 0h1m19 0h1M1303 657h1m4 0h1M1310 658h1M1299 659h1m4 0h1m9 0h1m12 0h1M1311 660h1M1299 661h1m2 0h1M1293 662h1M1297 663h1m13 0h1M1298 665h1m2 0h1M1304 667h1m18 0h1M1297 668h1M1285 669h1m1 0h1m11 0h1M1287 671h1m6 0h1M1275 672h1M1273 674h1m23 0h1M1284 675h1M1290 676h1M1292 677h1m4 0h1M1276 679h1m17 0h1M1278 680h1M1270 681h1m12 0h1m15 0h1M1279 682h1M1281 685h1M1269 686h1m9 0h1m26 0h1M1272 687h1M1285 688h1M1271 689h1m27 0h1M1279 692h1M1270 693h1m3 0h1M1266 694h1M1272 696h1M1267 697h1m8 0h1M1261 698h1M1273 700h1m6 0h1M1287 701h1M1269 702h1M1246 703h1M1246 705h1M1252 706h1m9 0h1M1274 707h1M1255 708h1M1253 711h1M1259 712h1m2 0h1M1245 713h1M1239 714h1m1 0h1m1 0h1m10 0h1M1250 715h1M1241 716h1M1233 717h1m20 0h1M1237 719h1m8 0h1M1226 720h1m37 0h1M1236 721h1m6 0h1M1252 722h1M1239 724h1m10 0h1M1215 725h1m8 0h1M1227 726h1m12 0h1m16 0h1M1215 727h1m20 0h1M1242 729h1M1221 731h1M1215 732h1M1221 733h1m7 0h1M1232 734h1M1206 735h1m21 0h1M1215 736h1m17 0h1m27 0h1M1205 737h1M1207 738h1M1224 740h1m7 0h1M1202 742h1m11 0h1M1234 743h1M1198 744h1M1201 745h1M1208 746h1M1206 747h1M1213 748h1M1212 751h1m23 0h1M1207 753h1m17 0h1M1199 754h1M1208 762h1M1206 763h1M1230 767h1M1251 787h1m1 0h1m4 0h1m9 0h1m1 0h1" stroke="#4a4fa2" stroke-opacity="1"/>
<path d="M1376 544h1M1377 545h1M1373 547h1m3 0h1M1372 548h1m1 0h1m1 0h1M1382 550h1M1370 551h1m10 0h1M1370 552h1M1367 553h1m1 0h1m8 0h2M1362 554h2m3 0h1m2 0h1M1366 555h1m2 0h1m2 0h2m1 0h1M1364 556h1m1 0h1m2 0h1m2 0h4M1363 557h2m2 0h1m2 0h1M1357 558h1m1 0h1m11 0h2m7 0h1M1358 559h1m3 0h3m3 0h1m9 0h2M1356 560h2m3 0h1m1 0h2m3 0h1m11 0h1M1359 561h1m2 0h2m5 0h1m1 0h2m6 0h1M1355 562h1m3 0h1m1 0h3m9 0h1m2 0h1m15 0h1M1352 563h1m1 0h2m1 0h1m1 0h3m13 0h1M1355 564h1m2 0h2m1 0h4m3 0h1M1349 565h1m2 0h1m1 0h2m2 0h2m2 0h1m2 0h4m8 0h1M1348 566h1m2 0h3m1 0h1m5 0h1m16 0h1m5 0h1M1353 567h3m3 0h3m3 0h1m1 0h2m16 0h1M1347 568h2m4 0h2m4 0h2m4 0h1m2 0h1m4 0h1m2 0h1M1347 569h7m7 0h1m1 0h1m1 0h1m6 0h1m2 0h1M1344 570h3m2 0h6m1 0h1m4 0h2M1344 571h6m1 0h3m1 0h1m18 0h2M1343 572h7m1 0h2m1 0h1m2 0h1m5 0h1M1342 573h7m1 0h1m3 0h2m2 0h1m4 0h1m8 0h1m1 0h1M1346 574h1m3 0h4m1 0h3m1 0h1m1 0h3M1340 575h2m1 0h2m2 0h3m3 0h1m6 0h1M1339 576h2m2 0h1m3 0h1m1 0h1m1 0h1m1 0h1m1 0h4m1 0h1m2 0h1M1337 577h1m1 0h1m2 0h4m1 0h3m2 0h3m1 0h1m1 0h1m1 0h1m2 0h1M1335 578h4m2 0h1m1 0h9m1 0h6m2 0h1m1 0h1M1335 579h1m1 0h3m1 0h1m1 0h1m1 0h2m1 0h2m2 0h1m2 0h2m1 0h3M1333 580h1m1 0h7m1 0h4m4 0h2m3 0h1m1 0h1M1332 581h4m1 0h12m1 0h3m3 0h1M1331 582h1m1 0h3m1 0h3m1 0h8m1 0h3m2 0h1M1332 583h10m3 0h1m1 0h3m1 0h2m2 0h1M1328 584h1m1 0h10m1 0h3m1 0h2m2 0h2m1 0h1m1 0h3M1327 585h2m1 0h3m2 0h5m1 0h2m1 0h2m1 0h1m1 0h4M1325 586h1m1 0h1m1 0h2m1 0h11m2 0h1m1 0h3M1325 587h2m1 0h6m1 0h1m1 0h4m1 0h2m1 0h1m1 0h1m2 0h1M1323 588h2m1 0h2m1 0h10m1 0h2m1 0h1m1 0h2m1 0h2M1322 589h13m1 0h5m1 0h2M1321 590h3m1 0h11m5 0h2m1 0h1m1 0h1M1320 591h10m1 0h7m2 0h1m1 0h2M1318 592h11m1 0h4m1 0h2m1 0h2M1317 593h2m1 0h17m2 0h1M1316 594h1m3 0h11m1 0h5M1315 595h1m1 0h14m2 0h5M1313 596h7m1 0h15m1 0h1M1312 597h23M1311 598h1m1 0h6m2 0h12M1310 599h1m1 0h17m1 0h1m1 0h1M1309 600h10m1 0h5m1 0h3m1 0h3M1307 601h1m2 0h16m1 0h1m1 0h2M1306 602h24M1305 603h23M1304 604h20m2 0h2M1303 605h1m1 0h19m1 0h1M1301 606h4m1 0h20M1300 607h18m1 0h4m1 0h1M1298 608h23M1298 609h25M1296 610h3m1 0h20M1296 611h22M1294 612h22m1 0h1M1292 613h25M1292 614h23M1290 615h17m1 0h3m1 0h1m1 0h1M1288 616h2m2 0h20M1287 617h25M1287 618h24M1285 619h21m1 0h3M1285 620h3m1 0h20M1281 621h27M1282 622h24M1279 623h27M1277 624h28M1275 625h1m1 0h26M1274 626h2m2 0h24M1273 627h6m1 0h21M1272 628h28M1270 629h4m1 0h21m1 0h1M1268 630h2m1 0h27M1267 631h1m1 0h27M1265 632h29M1264 633h30M1263 634h7m1 0h22M1260 635h2m1 0h28M1260 636h1m1 0h3m1 0h1m1 0h23M1257 637h1m2 0h28M1256 638h2m1 0h1m1 0h28M1254 639h2m2 0h29M1254 640h1m1 0h28m1 0h2M1252 641h4m1 0h6m1 0h21M1249 642h36M1248 643h2m1 0h1m1 0h3m1 0h26M1246 644h1m1 0h34M1246 645h2m2 0h31M1242 646h9m1 0h3m1 0h1m1 0h14m1 0h6m1 0h1M1242 647h2m3 0h2m1 0h1m1 0h27M1239 648h1m5 0h29m1 0h3M1239 649h2m1 0h3m1 0h31M1240 650h2m1 0h2m1 0h1m1 0h18m1 0h5m1 0h3M1237 651h1m3 0h2m1 0h2m1 0h26M1233 652h2m1 0h1m1 0h1m1 0h1m1 0h4m1 0h17m1 0h8M1232 653h4m2 0h27m2 0h5M1231 654h1m1 0h5m2 0h3m1 0h2m1 0h24M1227 655h3m1 0h1m1 0h1m1 0h2m1 0h7m1 0h25M1225 656h3m2 0h1m1 0h1m1 0h3m2 0h31M1223 657h1m4 0h1m1 0h4m2 0h1m1 0h26m1 0h3M1222 658h1m4 0h3m1 0h5m1 0h3m1 0h4m1 0h5m1 0h15M1227 659h1m1 0h2m2 0h11m1 0h19m1 0h2M1219 660h1m2 0h3m1 0h2m1 0h2m2 0h3m1 0h1m1 0h24m1 0h1M1220 661h6m2 0h2m1 0h20m1 0h10m1 0h2M1222 662h2m3 0h4m2 0h1m1 0h4m1 0h13m1 0h9M1214 663h2m4 0h2m3 0h3m1 0h5m1 0h23m1 0h1M1216 664h1m2 0h2m1 0h2m2 0h2m1 0h2m2 0h1m1 0h1m1 0h1m1 0h17m1 0h5M1213 665h4m1 0h1m1 0h2m3 0h31m1 0h4M1209 666h1m2 0h1m1 0h1m1 0h2m3 0h3m2 0h1m1 0h23m1 0h5m1 0h1m1 0h1M1217 667h1m1 0h1m2 0h2m1 0h2m3 0h2m2 0h8m1 0h16M1205 668h1m7 0h4m2 0h3m1 0h2m1 0h33M1204 669h3m1 0h2m1 0h2m1 0h3m1 0h1m6 0h1m1 0h3m1 0h1m1 0h1m1 0h7m1 0h8m1 0h3m1 0h2M1205 670h1m1 0h2m5 0h5m2 0h1m2 0h2m1 0h4m1 0h10m1 0h7m1 0h7M1204 671h1m2 0h1m5 0h2m2 0h1m3 0h2m1 0h1m2 0h5m1 0h1m1 0h2m1 0h5m1 0h5m1 0h6M1199 672h1m3 0h1m1 0h2m2 0h1m1 0h3m3 0h3m1 0h15m2 0h16m1 0h1M1203 673h1m1 0h1m1 0h1m1 0h1m3 0h1m1 0h2m1 0h1m1 0h1m1 0h8m1 0h7m1 0h3m1 0h10M1198 674h1m9 0h1m2 0h1m1 0h3m1 0h8m1 0h2m1 0h5m1 0h12m1 0h2m1 0h1M1196 675h1m1 0h1m1 0h4m2 0h1m1 0h1m2 0h2m1 0h2m1 0h1m1 0h4m1 0h3m1 0h5m1 0h12m1 0h3m1 0h2M1193 676h1m1 0h1m5 0h1m1 0h1m2 0h1m1 0h2m2 0h5m1 0h1m1 0h9m1 0h8m1 0h7m2 0h1m1 0h2M1191 677h1m1 0h1m1 0h1m1 0h1m1 0h1m2 0h2m3 0h2m2 0h1m3 0h1m1 0h10m1 0h1m1 0h7m1 0h4m1 0h6M1190 678h2m1 0h1m2 0h1m2 0h1m6 0h4m1 0h2m1 0h1m1 0h13m1 0h2m1 0h3m1 0h3m1 0h6m1 0h2M1187 679h3m2 0h2m1 0h4m5 0h2m1 0h1m1 0h1m4 0h2m2 0h3m1 0h20m1 0h3M1186 680h3m11 0h1m1 0h1m3 0h1m3 0h2m1 0h1m1 0h1m3 0h4m2 0h13m1 0h8M1182 681h1m2 0h2m2 0h2m2 0h2m1 0h5m1 0h2m1 0h1m2 0h1m1 0h2m1 0h6m2 0h2m1 0h2m1 0h1m1 0h8m1 0h3m3 0h1m1 0h1M1188 682h1m3 0h1m1 0h4m1 0h2m1 0h1m1 0h1m3 0h1m1 0h15m1 0h1m1 0h2m1 0h3m1 0h2m3 0h2m1 0h2m1 0h2M1187 683h1m5 0h2m5 0h1m1 0h1m7 0h1m1 0h3m1 0h4m1 0h2m1 0h3m1 0h6m1 0h3m4 0h1m1 0h3M1187 684h1m2 0h1m1 0h3m3 0h1m1 0h1m1 0h3m4 0h1m3 0h3m1 0h2m1 0h1m2 0h9m1 0h3m2 0h3m1 0h1m1 0h3M1178 685h1m3 0h1m4 0h1m3 0h2m1 0h2m2 0h4m1 0h2m2 0h1m4 0h2m1 0h2m1 0h1m3 0h8m1 0h1m2 0h2m1 0h1m5 0h2M1176 686h2m3 0h1m1 0h2m1 0h1m2 0h3m1 0h2m1 0h4m2 0h3m1 0h1m2 0h4m1 0h2m1 0h8m1 0h11m1 0h1m4 0h1M1171 687h2m12 0h1m2 0h3m2 0h2m1 0h1m1 0h1m1 0h7m3 0h2m2 0h1m2 0h5m2 0h2m1 0h4m1 0h1m4 0h1m4 0h2M1167 688h1m5 0h1m3 0h2m1 0h1m1 0h1m5 0h2m2 0h3m2 0h2m1 0h1m2 0h5m1 0h5m2 0h3m1 0h1m1 0h1m1 0h2m1 0h4m1 0h1m3 0h1m2 0h2m1 0h1M1181 689h2m2 0h1m1 0h1m3 0h1m2 0h1m2 0h1m4 0h3m3 0h7m1 0h13m2 0h2m3 0h2m1 0h2M1165 690h1m6 0h1m7 0h2m2 0h8m1 0h3m7 0h1m2 0h5m1 0h1m3 0h1m1 0h1m1 0h4m1 0h8m1 0h1m1 0h1M1164 691h1m8 0h1m1 0h1m4 0h1m2 0h1m2 0h3m4 0h2m1 0h1m2 0h3m1 0h1m1 0h9m1 0h2m2 0h1m1 0h8m2 0h3m2 0h1M1161 692h1m1 0h1m11 0h1m10 0h2m2 0h4m3 0h1m1 0h1m1 0h4m1 0h1m1 0h9m2 0h1m2 0h4m1 0h1m1 0h1m1 0h1m4 0h1m2 0h1M1129 693h1m26 0h2m1 0h2m1 0h1m11 0h1m3 0h4m6 0h1m1 0h2m1 0h2m2 0h6m1 0h1m1 0h5m1 0h2m1 0h1m1 0h8m6 0h2M1128 694h1m29 0h1m2 0h1m11 0h1m1 0h1m1 0h1m1 0h3m1 0h1m1 0h1m1 0h5m2 0h4m1 0h3m1 0h7m1 0h6m1 0h8m1 0h2m2 0h1m2 0h1m1 0h1M1127 695h1m4 0h1m33 0h1m4 0h1m1 0h2m3 0h1m1 0h1m1 0h1m3 0h6m1 0h7m1 0h4m2 0h6m1 0h10m1 0h2m3 0h4m2 0h1M1126 696h1m3 0h2m28 0h1m4 0h1m3 0h3m1 0h2m3 0h1m1 0h1m1 0h1m3 0h1m1 0h7m1 0h1m1 0h7m1 0h9m1 0h3m1 0h3m1 0h4m3 0h2m3 0h1M1124 697h1m4 0h2m21 0h2m1 0h1m3 0h2m2 0h3m2 0h2m2 0h2m2 0h1m2 0h3m4 0h2m1 0h1m1 0h1m2 0h3m1 0h4m2 0h6m6 0h1m1 0h1m1 0h4m1 0h1m7 0h1M1123 698h1m4 0h2m17 0h2m3 0h1m1 0h2m8 0h2m4 0h3m2 0h1m1 0h1m1 0h1m1 0h1m1 0h1m1 0h3m1 0h5m1 0h3m1 0h1m1 0h1m1 0h1m2 0h2m1 0h2m1 0h1m1 0h1m1 0h5m2 0h2m1 0h3m5 0h1M1121 699h2m4 0h1m8 0h1m2 0h1m6 0h1m1 0h1m21 0h2m6 0h3m1 0h1m2 0h2m1 0h2m1 0h4m1 0h3m2 0h1m3 0h3m1 0h2m1 0h1m1 0h1m2 0h9m1 0h3m2 0h1m1 0h1M1120 700h2m3 0h3m4 0h1m4 0h2m8 0h1m14 0h1m5 0h6m2 0h3m2 0h1m2 0h1m3 0h7m1 0h1m1 0h6m2 0h1m2 0h3m1 0h2m1 0h5m2 0h5m4 0h1M1119 701h2m4 0h1m5 0h1m6 0h1m10 0h1m4 0h1m6 0h2m1 0h1m2 0h5m1 0h1m1 0h3m4 0h3m2 0h3m1 0h1m2 0h2m4 0h6m3 0h4m1 0h3m3 0h3m1 0h2m1 0h2M1118 702h2m3 0h2m5 0h1m1 0h1m12 0h4m2 0h1m2 0h1m1 0h1m1 0h1m4 0h4m2 0h1m1 0h3m1 0h2m2 0h1m1 0h1m2 0h6m1 0h5m2 0h1m1 0h4m1 0h1m1 0h1m1 0h2m1 0h4m2 0h1m1 0h1m1 0h2m2 0h1m2 0h1m1 0h1M1123 703h1m5 0h1m7 0h2m5 0h1m2 0h1m3 0h2m2 0h5m2 0h1m1 0h1m2 0h1m2 0h2m1 0h2m1 0h3m1 0h3m5 0h2m1 0h1m1 0h3m2 0h1m4 0h5m1 0h1m3 0h1m2 0h2m1 0h1m9 0h1m1 0h1M1121 704h1m5 0h1m8 0h2m5 0h1m2 0h1m4 0h2m1 0h3m3 0h1m1 0h2m3 0h4m1 0h4m4 0h4m1 0h2m1 0h3m1 0h2m3 0h2m1 0h3m1 0h1m1 0h1m1 0h3m3 0h1m2 0h1m2 0h1m2 0h2m2 0h1m2 0h1M1119 705h2m5 0h2m7 0h2m13 0h3m3 0h1m4 0h1m4 0h5m1 0h1m1 0h8m1 0h1m2 0h1m1 0h6m1 0h1m1 0h2m2 0h4m1 0h1m1 0h1m1 0h3m9 0h2m2 0h1M1118 706h2m5 0h1m4 0h1m15 0h2m1 0h2m3 0h2m5 0h3m1 0h1m1 0h1m1 0h2m1 0h2m1 0h1m2 0h2m1 0h2m2 0h1m3 0h3m1 0h11m1 0h1m3 0h1m1 0h1m1 0h1m1 0h4m1 0h3m2 0h2M1117 707h2m4 0h2m1 0h1m2 0h1m3 0h1m10 0h1m3 0h2m2 0h1m1 0h2m1 0h3m2 0h1m1 0h1m2 0h1m1 0h3m1 0h5m2 0h6m1 0h8m1 0h2m6 0h2m1 0h5m1 0h4m1 0h2m1 0h2m5 0h1M1117 708h1m4 0h2m7 0h2m8 0h2m1 0h1m2 0h2m1 0h3m1 0h1m1 0h1m1 0h5m1 0h2m1 0h10m1 0h4m1 0h2m1 0h3m1 0h2m1 0h2m3 0h3m2 0h2m1 0h1m1 0h1m2 0h2m2 0h1m2 0h1m2 0h1m1 0h1M1131 709h2m2 0h1m4 0h5m1 0h2m4 0h2m2 0h1m4 0h1m3 0h1m1 0h1m1 0h6m2 0h2m1 0h5m1 0h7m1 0h2m1 0h2m1 0h2m2 0h3m2 0h2m4 0h1m3 0h1m6 0h1M1120 710h2m5 0h1m1 0h2m4 0h1m5 0h1m2 0h5m2 0h2m6 0h1m1 0h1m1 0h1m3 0h1m1 0h2m1 0h4m1 0h1m1 0h2m1 0h2m5 0h4m1 0h2m1 0h3m1 0h2m2 0h3m4 0h3m6 0h1m3 0h1M1119 711h1m8 0h1m13 0h1m1 0h1m4 0h1m3 0h2m1 0h2m2 0h5m3 0h4m1 0h4m3 0h1m3 0h8m1 0h4m2 0h2m1 0h4m1 0h1m3 0h1m3 0h1m1 0h2m2 0h2M1117 712h2m7 0h2m7 0h1m5 0h3m2 0h1m2 0h3m1 0h3m1 0h1m1 0h1m1 0h1m1 0h1m3 0h7m3 0h4m1 0h1m1 0h3m1 0h1m1 0h2m1 0h4m3 0h1m2 0h1m2 0h2m4 0h1m3 0h1m1 0h1M1116 713h2m7 0h2m8 0h1m5 0h2m2 0h2m5 0h1m1 0h3m1 0h1m2 0h1m3 0h3m1 0h2m3 0h1m1 0h7m1 0h5m2 0h7m1 0h2m1 0h3m4 0h2m7 0h1m1 0h1M1115 714h2m7 0h2m12 0h4m5 0h1m8 0h2m1 0h2m2 0h3m1 0h2m2 0h2m1 0h3m1 0h4m1 0h6m3 0h2m3 0h8m2 0h4m1 0h4m3 0h1M1123 715h2m13 0h3m7 0h1m7 0h2m3 0h1m1 0h2m1 0h9m2 0h4m1 0h1m1 0h1m2 0h1m1 0h2m3 0h4m3 0h1m2 0h2m1 0h2m2 0h1m4 0h1M1122 716h1m12 0h1m1 0h2m1 0h1m3 0h1m2 0h2m4 0h2m1 0h2m1 0h2m1 0h3m1 0h1m1 0h1m2 0h3m1 0h7m1 0h1m1 0h1m3 0h2m2 0h1m1 0h4m3 0h6m2 0h1m7 0h1m1 0h1M1120 717h2m13 0h3m5 0h2m2 0h2m1 0h1m3 0h1m2 0h1m2 0h2m5 0h1m1 0h2m1 0h1m1 0h5m1 0h1m1 0h1m1 0h2m2 0h3m1 0h3m1 0h7m14 0h1M1119 718h2m14 0h2m5 0h2m2 0h1m1 0h3m2 0h1m3 0h2m1 0h1m2 0h2m2 0h6m4 0h2m2 0h1m1 0h13m3 0h1m1 0h2m1 0h1m2 0h3M1118 719h2m13 0h2m2 0h1m4 0h1m2 0h1m3 0h2m1 0h1m1 0h5m2 0h1m1 0h2m6 0h1m4 0h1m1 0h6m3 0h3m2 0h2m1 0h4m4 0h3m4 0h1M1117 720h2m8 0h2m1 0h1m1 0h2m11 0h2m3 0h1m1 0h1m3 0h1m1 0h1m1 0h1m1 0h3m2 0h3m1 0h1m1 0h2m1 0h3m2 0h1m1 0h2m2 0h4m3 0h1m9 0h2m1 0h2m1 0h1m1 0h2M1115 721h2m5 0h1m8 0h2m3 0h1m1 0h1m3 0h1m3 0h3m1 0h1m4 0h1m1 0h3m2 0h1m1 0h2m1 0h1m1 0h6m2 0h2m2 0h1m1 0h2m1 0h3m1 0h1m1 0h4m2 0h1M1114 722h2m5 0h1m7 0h3m5 0h2m1 0h2m3 0h1m2 0h2m2 0h1m2 0h1m1 0h1m2 0h1m1 0h1m2 0h2m1 0h2m1 0h3m2 0h2m2 0h1m2 0h8m4 0h1m2 0h1m5 0h1M1129 723h2m11 0h1m1 0h2m1 0h6m1 0h1m1 0h1m2 0h1m1 0h2m1 0h1m2 0h3m3 0h3m2 0h4m1 0h1m1 0h1m6 0h3m2 0h1m5 0h1M1127 724h2m12 0h1m1 0h3m2 0h3m1 0h2m1 0h2m2 0h1m1 0h3m3 0h1m2 0h2m1 0h6m1 0h1m1 0h1m2 0h2m3 0h1m1 0h2m1 0h1M1126 725h3m4 0h1m8 0h3m4 0h3m2 0h1m1 0h6m2 0h3m4 0h1m1 0h2m1 0h1m5 0h4m4 0h1m1 0h1m3 0h2M1125 726h2m1 0h1m2 0h1m2 0h1m5 0h3m1 0h1m2 0h3m2 0h1m1 0h1m1 0h1m2 0h2m2 0h2m1 0h1m1 0h1m2 0h1m1 0h3m1 0h2m1 0h5m4 0h2m2 0h2m1 0h1m2 0h1m6 0h1m1 0h3M1123 727h3m2 0h1m2 0h1m8 0h1m1 0h1m1 0h2m1 0h1m2 0h1m2 0h1m1 0h8m1 0h2m2 0h2m1 0h1m1 0h1m2 0h2m2 0h2m2 0h1m6 0h1m2 0h2m1 0h2m6 0h1M1122 728h2m1 0h1m7 0h1m4 0h3m3 0h2m1 0h1m1 0h1m1 0h1m4 0h4m1 0h1m2 0h1m1 0h1m3 0h1m2 0h2m3 0h1m2 0h2M1121 729h2m6 0h1m4 0h5m2 0h1m1 0h2m2 0h1m1 0h2m2 0h1m1 0h3m1 0h1m1 0h3m2 0h3m2 0h1m2 0h2m7 0h1m1 0h2M1120 730h2m4 0h1m2 0h1m3 0h1m2 0h1m1 0h1m3 0h1m1 0h1m2 0h2m1 0h1m2 0h2m1 0h1m4 0h1m2 0h2m1 0h2m6 0h2m4 0h4m5 0h2m8 0h1M1119 731h2m4 0h1m3 0h1m4 0h2m3 0h1m1 0h1m2 0h2m3 0h1m3 0h1m2 0h3m3 0h1m1 0h2m1 0h2m2 0h1m2 0h1m26 0h1M1117 732h3m10 0h2m1 0h2m9 0h1m2 0h2m1 0h2m1 0h1m1 0h1m1 0h3m1 0h1m2 0h1m1 0h1m4 0h3m2 0h5m2 0h1m5 0h3M1114 733h1m1 0h2m11 0h1m2 0h2m8 0h1m2 0h3m8 0h2m1 0h2m8 0h3m2 0h1m1 0h2m4 0h1m3 0h1m1 0h1m2 0h1M1115 734h2m14 0h1m1 0h1m8 0h1m2 0h3m2 0h1m11 0h1m4 0h2m1 0h2m2 0h1m2 0h1m7 0h1m4 0h1m1 0h1m2 0h1M1114 735h2m14 0h2m2 0h3m4 0h1m3 0h2m2 0h1m3 0h1m1 0h3m1 0h2m1 0h1m1 0h1m1 0h1m1 0h1m1 0h2m4 0h2m2 0h2m2 0h1m8 0h1m1 0h1M1113 736h2m10 0h1m5 0h1m10 0h2m4 0h1m4 0h1m4 0h5m1 0h1m6 0h1m1 0h1m4 0h1m4 0h1m6 0h1m4 0h1M1109 737h1m2 0h2m11 0h1m4 0h2m17 0h2m1 0h1m7 0h2m4 0h1m4 0h2m1 0h1m15 0h1m5 0h1M1110 738h2m31 0h2m13 0h3m4 0h1m3 0h1m13 0h1M1109 739h2m11 0h1m15 0h2m2 0h3m1 0h1m1 0h2m1 0h2m4 0h1m8 0h1m1 0h1m1 0h1m2 0h1m3 0h2m5 0h1M1108 740h1m14 0h1m15 0h1m5 0h1m4 0h1m5 0h3m1 0h3m4 0h2m2 0h2m3 0h1m1 0h1m4 0h1M1134 741h2m3 0h1m5 0h2m3 0h1m2 0h1m3 0h2m4 0h1m1 0h1m5 0h1m1 0h1m1 0h1m11 0h2M1133 742h1m17 0h4m8 0h4m2 0h1m6 0h1M1134 743h1m8 0h1m6 0h1m2 0h1m6 0h1m7 0h1m6 0h1m3 0h1m5 0h1M1144 744h2m3 0h1m1 0h1m6 0h1m1 0h4m3 0h1m3 0h2m5 0h2m4 0h1M1146 745h1m2 0h1m1 0h1m5 0h1m1 0h1m8 0h1m7 0h1m4 0h1M1143 746h1m1 0h1m2 0h1m3 0h1m6 0h1m8 0h1m8 0h1m2 0h1M1126 747h1m4 0h1m5 0h1m1 0h1m2 0h1m18 0h2M1127 748h1m3 0h2m5 0h1M1127 749h1" stroke="#000"/>
<path d="M1452 491h1M1412 515h1m8 0h1M1420 517h1M1403 519h1M1407 525h1m14 0h1M1392 528h1m12 0h1M1396 529h1M1389 531h1M1401 533h1M1403 537h1M1381 539h1m1 0h1M1396 540h1m3 0h1M1376 542h1m3 0h1m5 0h1m30 0h1M1393 546h1M1391 547h1m3 0h1M1369 548h1m33 0h1M1388 549h1M1376 550h1M1365 552h1M1390 553h1M1383 554h1m8 0h1M1394 555h1m5 0h1M1378 556h1M1376 558h1m7 0h1M1366 561h1M1378 563h1M1370 564h1M1372 565h1m1 0h1M1380 566h1M1363 567h1m6 0h1M1378 570h1M1359 571h1m11 0h1M1361 572h1M1369 573h1M1366 574h1M1365 577h1M1201 673h1M1185 683h1m20 0h1M1169 689h1M1152 692h1M1154 693h1m10 0h1m5 0h1M1135 694h1m9 0h1m4 0h1M1141 695h1m10 0h1m1 0h1m8 0h1M1134 699h1m7 0h1M1152 700h1M1140 702h1M1140 704h1M1138 708h1M1138 710h1M1209 711h1M1133 712h1M1130 713h1M1133 714h1M1151 715h1M1214 716h1M1129 717h1m1 0h1M1212 718h1M1124 719h1m15 0h1M1217 720h1M1201 721h1M1119 722h1m6 0h1m7 0h1m71 0h1m3 0h1M1200 723h1M1112 724h1m22 0h1m3 0h1m48 0h1m16 0h1m1 0h1M1137 725h1M1119 726h1m92 0h1M1110 727h1m76 0h1M1115 728h1m84 0h1m1 0h1M1110 729h1m6 0h1M1131 730h1m46 0h1M1203 731h1m4 0h1M1198 732h1M1109 733h1m12 0h1m17 0h1M1107 734h1m30 0h1m61 0h1M1204 735h1M1200 736h1M1118 737h1m27 0h1m41 0h1m13 0h1M1106 738h1m47 0h1m8 0h1M1128 739h1m5 0h1m54 0h1m1 0h1m5 0h1M1181 740h1M1191 741h1M1105 742h1m31 0h1M1111 743h1m2 0h1m13 0h1m65 0h1M1108 744h1m21 0h1m7 0h1m50 0h1M1121 745h1m32 0h1M1111 746h1m6 0h1m52 0h1m2 0h1M1109 747h1m45 0h1M1121 748h1m23 0h1m23 0h1M1173 749h1m4 0h1M1121 750h1m10 0h1m43 0h1m9 0h1M1180 751h1M1117 753h1m2 0h1M1101 759h1" stroke="#000" stroke-opacity="1"/>
</g>
<text x="1079.7" y="842.8" font-size="25" text-anchor="middle">0.01</text>
<text x="1048.1" y="802.2" font-size="25" text-anchor="end">0.01</text>
<text x="1184.7" y="842.8" font-size="25" text-anchor="middle">1</text>
<text x="1048.1" y="717.2" font-size="25" text-anchor="end">1</text>
<text x="1288.6" y="842.8" font-size="25" text-anchor="middle">100</text>
<text x="1048.1" y="632.2" font-size="25" text-anchor="end">100</text>
<text x="1395.1" y="842.8" font-size="25" text-anchor="middle">10,000</text>
<text x="1048.1" y="547.2" font-size="25" text-anchor="end">10,000</text>
<path d="M1066.6 486.2H1458.9V807H1066.6ZM1080.9 807v12.6M1066.6 795.2h-12.6M1184.7 807v12.6M1066.6 710.2h-12.6M1288.6 807v12.6M1066.6 625.2h-12.6M1392.4 807v12.6M1066.6 540.2h-12.6" fill="none" stroke="#000" stroke-width="1.35"/>
<text transform="translate(993.4 662.3) rotate(-90)" font-size="25" text-anchor="middle">T1 RPKM</text>
<text x="1261.5" y="880.5" font-size="25" text-anchor="middle">C RPKM</text>
<circle cx="1243.3" cy="727.1" r="5.4" fill="#ed1c24"/><circle cx="1243.3" cy="761.5" r="5.4" fill="#4a4fa2"/>
<text x="1251.5" y="738.7" font-size="25">DEG up= 2,601</text>
<text x="1251.5" y="768.6" font-size="25">DEG down= 1,367</text>
<g transform="translate(0 0.5)" fill="none" stroke-width="1" shape-rendering="crispEdges">
<path d="M1634 788h1m4 0h2m1 0h1m2 0h1m5 0h1m1 0h1m1 0h1m1 0h1m1 0h97m1 0h16m49 0h1m18 0h2m20 0h1m10 0h1" stroke="#2e2e2e"/>
<path d="M1926 534h1M1925 535h1M1897 539h1M1897 540h1M1916 541h1M1915 542h1m3 0h1M1917 543h2M1911 545h1M1892 546h1m17 0h1M1891 547h1M1896 548h2M1895 549h1m14 0h2M1880 550h1m14 0h1m13 0h2M1879 551h1M1903 552h1m5 0h1M1902 553h1m4 0h1M1893 554h1m13 0h1M1890 555h1m2 0h2M1889 556h1m6 0h1m1 0h1m6 0h1M1890 557h2m3 0h3M1895 558h1m1 0h2M1878 559h1m3 0h1m5 0h2m6 0h1m1 0h1M1879 560h1m2 0h1m2 0h1m2 0h1m5 0h2m2 0h1M1879 561h1m6 0h1m1 0h1m1 0h1m2 0h1m3 0h1M1889 562h2m1 0h1m1 0h2M1866 563h1m13 0h2m6 0h1m1 0h1m3 0h5M1867 564h1m2 0h1m9 0h1m6 0h2m1 0h1m3 0h1M1861 565h2m4 0h1m3 0h1m19 0h6M1860 566h1m8 0h1m5 0h1m1 0h2m4 0h1m3 0h4m4 0h1M1846 567h2m11 0h1m2 0h1m5 0h1m3 0h1m1 0h1m3 0h1m1 0h4m1 0h1m1 0h4m2 0h2M1862 568h1m2 0h1m1 0h1m3 0h1m2 0h1m6 0h1m1 0h3m1 0h1m3 0h3M1865 569h1m7 0h1m11 0h7M1844 570h2m11 0h1m2 0h1m3 0h1m6 0h1m11 0h2m2 0h1m1 0h2M1844 571h1m6 0h1m5 0h2m2 0h1m1 0h1m6 0h1m3 0h1m1 0h1m5 0h1m1 0h7M1850 572h1m8 0h1m5 0h1m4 0h3m1 0h1m1 0h1m3 0h2m2 0h1m1 0h4M1860 573h1m5 0h4m1 0h1m2 0h2m2 0h1m1 0h1m2 0h2m1 0h3M1861 574h2m3 0h1m4 0h2m2 0h1m2 0h3m1 0h1m1 0h2m1 0h2M1867 575h4m1 0h1m6 0h1m1 0h5M1839 576h1m11 0h2m7 0h2m4 0h4m1 0h1m2 0h4m1 0h5M1838 577h1m3 0h3m13 0h1m1 0h2m8 0h2m1 0h3m1 0h1m1 0h1m1 0h2M1839 578h1m6 0h1m10 0h1m1 0h1m3 0h1m3 0h1m1 0h1m6 0h1m1 0h1m1 0h4M1847 579h1m6 0h1m3 0h2m1 0h2m1 0h1m1 0h1m1 0h1m1 0h5m1 0h1m2 0h3M1805 580h1m42 0h1m2 0h2m1 0h5m1 0h2m1 0h2m1 0h1m1 0h1m1 0h1m1 0h9M1804 581h1m34 0h1m12 0h1m1 0h1m1 0h3m7 0h9m1 0h3M1839 582h1m13 0h2m2 0h1m1 0h1m1 0h1m1 0h1m2 0h7m1 0h5M1828 583h1m9 0h1m2 0h1m3 0h1m8 0h2m1 0h1m2 0h6m1 0h3m1 0h2m1 0h3M1828 584h1m12 0h2m1 0h1m3 0h1m2 0h2m6 0h7m1 0h8M1837 585h1m1 0h1m6 0h2m1 0h1m1 0h1m1 0h2m2 0h2m1 0h5m1 0h1m1 0h6M1838 586h1m4 0h1m3 0h1m4 0h1m1 0h4m1 0h6m1 0h7M1838 587h2m2 0h1m3 0h2m2 0h3m2 0h1m3 0h8m1 0h4M1817 588h3m18 0h1m5 0h1m1 0h2m4 0h1m2 0h1m1 0h10m1 0h3M1802 589h1m16 0h1m17 0h1m3 0h1m1 0h1m1 0h2m1 0h2m1 0h1m1 0h2m2 0h4m1 0h2m1 0h5M1791 590h2m8 0h1m22 0h1m13 0h4m1 0h2m1 0h2m1 0h1m2 0h5m1 0h6m1 0h3M1800 591h1m24 0h1m1 0h1m3 0h2m6 0h1m6 0h2m4 0h1m1 0h2m2 0h9M1824 592h2m1 0h3m1 0h1m7 0h1m3 0h2m1 0h1m2 0h1m1 0h3m1 0h1m1 0h3m1 0h5M1823 593h1m5 0h2m4 0h2m5 0h1m2 0h2m1 0h3m1 0h8m1 0h4M1807 594h1m16 0h1m6 0h1m4 0h1m4 0h7m2 0h5m1 0h8M1804 595h1m2 0h1m14 0h1m1 0h1m2 0h4m3 0h5m1 0h1m1 0h1m1 0h1m1 0h4m1 0h5m1 0h3m1 0h1M1805 596h1m11 0h1m2 0h2m1 0h2m2 0h1m2 0h1m3 0h3m2 0h2m1 0h10m1 0h8M1807 597h3m6 0h1m3 0h1m4 0h1m4 0h2m4 0h2m2 0h1m1 0h2m1 0h5m1 0h10M1804 598h2m3 0h1m3 0h2m5 0h1m1 0h1m2 0h1m2 0h2m2 0h2m7 0h18M1792 599h1m15 0h1m12 0h1m4 0h1m5 0h7m3 0h1m1 0h7m1 0h6M1792 600h2m18 0h1m10 0h1m10 0h4m3 0h7m1 0h7M1765 601h1m6 0h1m21 0h1m2 0h1m1 0h1m1 0h1m6 0h1m2 0h3m1 0h1m8 0h1m7 0h3m1 0h1m2 0h1m1 0h2m2 0h2m1 0h4m1 0h2M1766 602h1m4 0h1m22 0h1m1 0h1m1 0h2m2 0h1m6 0h1m3 0h1m1 0h2m1 0h2m9 0h1m2 0h3m1 0h7m1 0h1m1 0h3m1 0h5M1794 603h1m1 0h2m3 0h1m1 0h2m7 0h1m2 0h1m10 0h1m2 0h1m4 0h3m1 0h5m1 0h9M1768 604h2m4 0h1m34 0h1m1 0h1m6 0h1m6 0h1m3 0h3m1 0h1m1 0h4m1 0h2m1 0h8M1749 605h1m21 0h2m2 0h1m29 0h1m1 0h2m10 0h1m5 0h1m2 0h1m4 0h3m1 0h7m1 0h6M1635 606h1m112 0h1m22 0h1m27 0h2m4 0h1m1 0h1m7 0h3m1 0h1m5 0h1m2 0h1m1 0h2m2 0h2m1 0h12M1635 607h1m136 0h1m11 0h3m11 0h1m2 0h1m12 0h4m2 0h1m1 0h1m5 0h6m1 0h3m1 0h9M1635 608h1m151 0h1m6 0h1m6 0h1m5 0h2m5 0h3m1 0h1m2 0h1m1 0h1m2 0h1m1 0h2m1 0h1m1 0h13M1635 609h1m134 0h1m7 0h1m15 0h1m4 0h1m5 0h4m2 0h3m2 0h1m3 0h1m1 0h9m1 0h6m1 0h7M1635 610h1m122 0h1m10 0h1m8 0h1m19 0h1m2 0h2m1 0h1m9 0h2m2 0h3m1 0h6m1 0h6m1 0h8M1635 611h1m123 0h1m9 0h1m9 0h1m5 0h2m10 0h1m5 0h1m1 0h2m1 0h2m3 0h1m1 0h1m2 0h2m1 0h5m2 0h2m1 0h2m1 0h9M1782 612h1m2 0h1m1 0h2m7 0h1m1 0h1m11 0h2m2 0h3m3 0h9m1 0h11M1781 613h1m11 0h1m12 0h2m3 0h1m2 0h3m1 0h1m3 0h1m1 0h4m2 0h6m1 0h3M1774 614h1m5 0h1m12 0h1m6 0h1m6 0h2m3 0h1m3 0h4m1 0h17m1 0h1M1775 615h2m9 0h2m1 0h1m2 0h1m2 0h2m4 0h2m3 0h1m1 0h2m1 0h3m1 0h2m2 0h1m1 0h1m1 0h1m2 0h12M1787 616h1m1 0h1m5 0h2m3 0h2m4 0h2m2 0h1m2 0h1m1 0h2m1 0h14m1 0h3M1784 617h3m6 0h3m1 0h1m7 0h1m1 0h1m1 0h1m1 0h2m1 0h1m1 0h1m2 0h2m1 0h13M1755 618h2m22 0h1m7 0h1m4 0h1m5 0h2m1 0h1m4 0h5m5 0h3m1 0h14M1752 619h1m2 0h1m15 0h1m5 0h2m6 0h1m6 0h1m4 0h3m2 0h1m1 0h5m1 0h1m1 0h9m1 0h11M1735 620h1m12 0h1m3 0h1m19 0h1m11 0h2m1 0h2m3 0h1m4 0h1m1 0h2m6 0h3m1 0h1m2 0h2m1 0h1m2 0h11M1734 621h1m14 0h1m11 0h1m7 0h1m4 0h1m3 0h1m5 0h1m6 0h1m2 0h3m1 0h1m2 0h2m3 0h1m6 0h1m1 0h3m1 0h11M1752 622h1m7 0h1m8 0h1m5 0h2m2 0h1m4 0h1m1 0h1m13 0h1m1 0h4m2 0h1m5 0h5m2 0h8M1743 623h1m7 0h1m11 0h2m1 0h2m7 0h1m8 0h2m8 0h2m3 0h1m3 0h2m1 0h2m1 0h5m1 0h1m3 0h8M1743 624h1m21 0h1m11 0h1m8 0h1m6 0h1m1 0h1m3 0h2m1 0h2m1 0h1m1 0h1m1 0h3m1 0h2m1 0h1m1 0h8M1744 625h1m8 0h1m5 0h1m2 0h2m12 0h1m2 0h3m5 0h1m3 0h1m3 0h3m1 0h1m1 0h1m1 0h1m1 0h2m1 0h2m2 0h3m1 0h4m1 0h4M1741 626h1m10 0h1m5 0h1m10 0h2m6 0h1m1 0h2m1 0h4m5 0h5m1 0h1m1 0h4m4 0h3m1 0h2m1 0h1m1 0h2m1 0h4M1635 627h1m87 0h1m16 0h1m2 0h1m1 0h1m19 0h1m3 0h1m1 0h1m6 0h1m1 0h1m1 0h1m6 0h2m4 0h2m3 0h2m1 0h1m2 0h3m1 0h12M1635 628h1m86 0h1m16 0h1m3 0h2m19 0h1m3 0h4m1 0h2m7 0h1m6 0h3m2 0h4m1 0h1m2 0h1m1 0h3m2 0h11M1747 629h2m9 0h1m7 0h1m4 0h5m1 0h1m4 0h4m4 0h1m1 0h2m2 0h4m1 0h2m1 0h1m1 0h2m2 0h9M1747 630h1m1 0h1m6 0h3m6 0h1m5 0h4m2 0h1m2 0h1m5 0h1m2 0h2m2 0h1m1 0h2m1 0h3m1 0h5m1 0h5m1 0h3M1727 631h1m18 0h1m3 0h2m3 0h1m15 0h5m2 0h1m2 0h2m3 0h3m1 0h1m2 0h5m2 0h1m3 0h3m1 0h8M1726 632h1m2 0h1m20 0h1m22 0h1m6 0h1m2 0h2m1 0h3m1 0h1m4 0h1m5 0h1m1 0h12M1698 633h1m31 0h1m18 0h1m8 0h1m3 0h2m3 0h3m2 0h7m1 0h1m5 0h2m2 0h5m1 0h6m2 0h6m1 0h3M1698 634h1m45 0h1m7 0h1m5 0h1m4 0h1m4 0h1m3 0h1m1 0h1m8 0h1m1 0h1m1 0h5m2 0h2m1 0h11m1 0h2M1744 635h1m1 0h2m1 0h1m3 0h1m4 0h1m1 0h5m3 0h1m1 0h1m5 0h1m6 0h2m5 0h1m3 0h1m3 0h12M1729 636h1m12 0h2m5 0h1m2 0h2m4 0h1m1 0h2m3 0h1m1 0h3m1 0h1m2 0h3m1 0h2m3 0h1m1 0h1m1 0h2m1 0h1m3 0h2m1 0h12M1635 637h1m93 0h1m3 0h1m12 0h1m1 0h1m4 0h1m5 0h5m3 0h1m8 0h1m1 0h2m1 0h9m1 0h7m1 0h5m1 0h3M1635 638h1m93 0h1m1 0h1m1 0h1m13 0h1m1 0h1m10 0h1m2 0h2m2 0h1m2 0h1m4 0h2m1 0h2m2 0h3m2 0h3m1 0h1m1 0h2m1 0h4m1 0h6M1635 639h1m94 0h1m1 0h1m13 0h1m5 0h1m2 0h1m1 0h1m2 0h1m3 0h1m1 0h4m1 0h5m1 0h1m2 0h1m2 0h1m1 0h1m1 0h1m1 0h1m1 0h3m1 0h1m1 0h7m1 0h1M1635 640h1m99 0h1m8 0h1m2 0h2m4 0h2m1 0h1m3 0h1m1 0h1m1 0h3m4 0h3m2 0h1m2 0h1m1 0h1m1 0h4m1 0h2m1 0h1m1 0h2m2 0h1m1 0h4M1635 641h1m98 0h1m10 0h1m11 0h1m1 0h1m1 0h1m2 0h4m2 0h1m2 0h3m1 0h1m1 0h1m1 0h2m2 0h1m1 0h3m1 0h6m1 0h4M1635 642h1m95 0h1m11 0h1m7 0h2m8 0h1m1 0h1m3 0h1m1 0h2m1 0h1m1 0h1m1 0h1m2 0h3m1 0h3m1 0h2m1 0h1m1 0h7M1635 643h1m95 0h1m3 0h2m3 0h1m1 0h1m2 0h3m4 0h2m8 0h2m2 0h2m2 0h3m1 0h3m1 0h2m1 0h5m1 0h2m2 0h7M1635 644h1m101 0h1m2 0h1m2 0h1m2 0h2m4 0h1m2 0h1m1 0h1m1 0h3m2 0h7m2 0h4m1 0h2m3 0h1m1 0h1m1 0h6m1 0h3M1635 645h1m87 0h2m12 0h1m1 0h2m2 0h2m4 0h1m4 0h1m1 0h2m8 0h1m4 0h1m2 0h8m2 0h2m1 0h2m2 0h2m1 0h1M1635 646h1m88 0h1m2 0h1m6 0h1m4 0h1m5 0h1m3 0h2m5 0h2m1 0h2m1 0h3m1 0h1m1 0h1m2 0h1m1 0h1m3 0h4m1 0h7m1 0h1m1 0h2M1635 647h1m71 0h2m11 0h1m2 0h2m3 0h2m3 0h1m17 0h2m5 0h1m1 0h1m1 0h5m1 0h1m4 0h3m1 0h9m2 0h5M1635 648h1m83 0h1m3 0h1m1 0h1m1 0h1m10 0h2m7 0h2m2 0h2m5 0h1m4 0h2m1 0h2m1 0h1m2 0h1m1 0h1m1 0h3m1 0h5m1 0h1m1 0h1m1 0h1M1635 649h1m71 0h1m11 0h1m2 0h1m2 0h3m5 0h1m2 0h2m3 0h1m1 0h1m1 0h1m1 0h1m3 0h1m8 0h1m2 0h2m2 0h2m1 0h1m2 0h3m2 0h1m1 0h1m1 0h6M1635 650h1m71 0h1m16 0h1m2 0h1m6 0h2m3 0h2m2 0h3m2 0h2m2 0h1m1 0h3m3 0h4m1 0h7m2 0h1m1 0h1m1 0h4m1 0h5M1635 651h1m92 0h2m2 0h1m1 0h1m6 0h1m1 0h2m2 0h1m1 0h2m3 0h1m5 0h1m1 0h2m1 0h2m1 0h1m2 0h2m1 0h2m2 0h8M1692 652h1m35 0h1m3 0h1m2 0h3m5 0h1m8 0h2m1 0h2m3 0h1m9 0h2m1 0h9m1 0h1M1693 653h1m28 0h2m13 0h1m5 0h1m5 0h3m2 0h2m4 0h2m1 0h2m1 0h1m4 0h1m1 0h9M1714 654h1m4 0h3m17 0h2m3 0h1m2 0h1m1 0h2m2 0h1m2 0h1m2 0h1m3 0h3m4 0h12M1635 655h1m70 0h1m6 0h2m3 0h1m1 0h1m2 0h1m11 0h3m1 0h1m1 0h2m2 0h1m2 0h1m1 0h2m1 0h2m1 0h3m2 0h2m2 0h1m1 0h1m4 0h3m1 0h1m1 0h2M1635 656h1m67 0h1m2 0h1m8 0h1m7 0h1m1 0h1m6 0h1m9 0h2m1 0h2m3 0h1m1 0h1m2 0h3m2 0h1m1 0h2m1 0h1m2 0h1m2 0h3m1 0h3M1635 657h1m67 0h1m17 0h1m1 0h1m1 0h1m2 0h1m3 0h1m4 0h1m3 0h3m3 0h1m2 0h2m3 0h1m1 0h2m1 0h3m1 0h1m3 0h3m2 0h2M1703 658h1m8 0h2m7 0h1m3 0h1m2 0h1m1 0h2m1 0h1m4 0h1m2 0h1m3 0h2m1 0h2m3 0h2m1 0h2m1 0h1m1 0h1m1 0h5m1 0h3m1 0h1M1635 659h1m39 0h1m17 0h2m8 0h1m6 0h1m16 0h3m9 0h1m2 0h1m4 0h1m1 0h3m5 0h1m2 0h2m1 0h5m2 0h1M1635 660h1m38 0h2m10 0h1m22 0h1m17 0h1m3 0h1m3 0h1m2 0h1m2 0h1m1 0h6m2 0h1m5 0h3m1 0h1m1 0h3m1 0h1m1 0h1M1635 661h1m51 0h1m9 0h2m1 0h1m6 0h2m13 0h2m5 0h2m5 0h1m1 0h1m2 0h4m2 0h1m6 0h4m1 0h8M1635 662h1m62 0h1m1 0h1m7 0h1m5 0h2m5 0h1m5 0h1m3 0h2m1 0h2m3 0h1m2 0h1m1 0h2m2 0h4m1 0h1m1 0h2m2 0h1m2 0h3M1635 663h1m61 0h1m20 0h2m4 0h1m1 0h1m4 0h1m1 0h1m2 0h1m5 0h1m2 0h1m1 0h2m6 0h1m1 0h5m1 0h1M1635 664h1m83 0h1m5 0h1m16 0h1m4 0h2m1 0h2m1 0h1m1 0h1m2 0h2M1635 665h1m80 0h1m7 0h3m4 0h1m3 0h1m4 0h1m1 0h1m1 0h2m1 0h1m3 0h1m1 0h3M1706 666h1m10 0h1m1 0h1m1 0h1m5 0h1m1 0h2m5 0h1m1 0h2m1 0h1m1 0h1m1 0h5m1 0h1m1 0h1M1635 667h1m68 0h2m11 0h1m1 0h2m3 0h2m2 0h1m2 0h1m5 0h1m3 0h1m1 0h4m1 0h3m1 0h1m1 0h1M1635 668h1m64 0h1m20 0h1m3 0h2m2 0h1m2 0h1m1 0h1m1 0h1m1 0h1m3 0h2m2 0h8M1635 669h1m64 0h1m17 0h1m1 0h1m2 0h2m3 0h2m1 0h1m2 0h1m1 0h2m3 0h5m2 0h4M1708 670h1m9 0h1m1 0h2m1 0h1m1 0h1m3 0h1m1 0h1m4 0h1m1 0h3m3 0h6M1635 671h1m71 0h1m1 0h1m1 0h1m8 0h2m2 0h1m3 0h1m1 0h1m7 0h4m1 0h6M1635 672h1m73 0h3m7 0h2m2 0h1m2 0h1m4 0h1m3 0h2m1 0h1m1 0h1m2 0h4M1635 673h1m44 0h2m14 0h3m12 0h2m9 0h1m1 0h1m1 0h1m1 0h2m1 0h1m5 0h3m1 0h1M1635 674h1m33 0h1m30 0h3m1 0h2m1 0h1m5 0h1m4 0h2m4 0h1m3 0h1m4 0h2m2 0h1m1 0h1m1 0h1M1635 675h1m34 0h1m35 0h1m6 0h1m5 0h1m9 0h1m1 0h1m2 0h2m2 0h2m1 0h1M1693 676h1m4 0h1m1 0h1m2 0h1m9 0h1m4 0h1m3 0h1m1 0h1m1 0h1m1 0h1m2 0h1m2 0h1m1 0h1m1 0h1M1635 677h1m45 0h1m12 0h1m4 0h1m3 0h1m1 0h1m2 0h4m2 0h1m6 0h1m3 0h1m2 0h1m1 0h1m3 0h1m2 0h1M1635 678h1m32 0h1m13 0h1m9 0h2m9 0h2m8 0h1m7 0h2m1 0h1m1 0h2m2 0h1m1 0h4M1635 679h1m31 0h1m44 0h1m2 0h1m14 0h1M1635 680h1m32 0h1m11 0h1m10 0h1m2 0h1m16 0h1m3 0h2M1635 681h1m32 0h1m3 0h1m6 0h1m7 0h1m2 0h1m4 0h1m13 0h3m5 0h2m4 0h1M1635 682h1m36 0h1m13 0h1m4 0h1m15 0h2m11 0h1m1 0h1m5 0h2M1635 683h1m28 0h3m3 0h1m13 0h1m20 0h2m2 0h2m1 0h1m1 0h1m6 0h1m2 0h3M1635 684h1m33 0h1m14 0h1m4 0h1m5 0h1m5 0h1m5 0h2m2 0h3m1 0h1m1 0h2m1 0h3m1 0h1M1635 685h1m53 0h1m6 0h1m3 0h2m4 0h1m7 0h1m4 0h1m1 0h2M1635 686h1m50 0h1m7 0h2m4 0h1m6 0h1m3 0h2m1 0h1m3 0h1M1635 687h1m36 0h1m3 0h1m9 0h1m6 0h1m6 0h2m3 0h1m1 0h1m1 0h1m4 0h1M1673 688h1m3 0h1m18 0h1m5 0h1m1 0h2m4 0h1m2 0h1m1 0h1M1635 689h1m39 0h1m8 0h1m12 0h1m11 0h1M1635 690h1m32 0h1m5 0h1m8 0h1m10 0h1m8 0h2M1635 691h1m32 0h3m1 0h2m8 0h1m10 0h2m10 0h1M1635 692h1m42 0h1m7 0h1m10 0h1m10 0h1M1635 693h1m42 0h1m8 0h1m9 0h1M1635 694h1m60 0h1M1635 695h1m22 0h1m7 0h1M1635 696h1m22 0h1m7 0h1M1635 697h1" stroke="#ed1c24"/>
<path d="M1948 503h1M1953 513h1M1950 515h1M1931 518h1m1 0h1M1935 521h1M1936 524h1M1908 526h1M1909 529h1m11 0h1M1931 530h1M1921 533h1M1889 534h1m24 0h1M1910 535h1M1919 536h1M1914 537h1M1910 538h1m8 0h1m1 0h1M1881 540h1m37 0h1M1891 541h1m19 0h1M1884 543h1m11 0h1M1900 544h1m8 0h1M1861 545h1m36 0h1m14 0h1M1895 546h1m8 0h1m11 0h1M1871 547h1m42 0h1M1893 549h1m5 0h1m1 0h1M1883 551h1M1894 552h1m1 0h1M1883 553h1M1861 554h1m5 0h1m19 0h1m8 0h1M1885 555h1m14 0h1M1881 556h1m21 0h1M1879 557h1m13 0h1M1859 558h1m14 0h1M1811 559h1m10 0h1m39 0h1m28 0h1M1854 560h1m20 0h1M1866 561h1m1 0h1m3 0h1m28 0h1M1690 562h1m147 0h1m21 0h1m13 0h1m8 0h1M1853 563h1m31 0h1M1800 564h1m73 0h1M1841 565h1M1833 566h1m31 0h1M1842 568h1m8 0h1M1855 569h1m13 0h1m6 0h1m2 0h1M1771 571h1m106 0h1M1833 572h1M1825 573h1M1793 574h1m37 0h1m9 0h1M1817 575h1m36 0h1M1792 576h1m27 0h1m11 0h1m16 0h1M1835 577h1m18 0h1M1823 578h1M1767 579h1m23 0h1m42 0h1M1793 580h1m23 0h1m14 0h1m12 0h1M1799 581h1m23 0h1m12 0h1M1821 582h1m4 0h1m16 0h1M1821 584h1m11 0h1M1794 585h1m31 0h1M1805 586h1M1793 587h1m17 0h1m14 0h1m8 0h1M1635 589h1m163 0h1m32 0h1M1796 590h1m12 0h1M1787 591h1m15 0h1m8 0h1m7 0h1m1 0h1m13 0h1M1814 592h1m2 0h1M1635 593h1m141 0h1m55 0h1M1819 594h1M1777 595h1m4 0h1M1779 596h1m6 0h1m7 0h1m3 0h1m12 0h1M1775 597h1m20 0h1M1758 598h1M1635 599h1m132 0h1m12 0h1m34 0h1M1784 600h1m43 0h1m1 0h1M1752 601h1m52 0h1m20 0h1M1635 602h1m71 0h1m41 0h1m25 0h1m9 0h1m5 0h1m29 0h1M1806 603h1M1747 604h1m8 0h1m20 0h1m5 0h1m6 0h1m32 0h1M1714 605h1m49 0h1m56 0h1M1762 606h1m6 0h1m20 0h1m2 0h1m17 0h1M1775 608h1M1693 609h1m52 0h1m8 0h1m17 0h1m17 0h1M1718 610h1m7 0h1m16 0h1m18 0h1m19 0h1M1731 611h1m20 0h1m1 0h1m12 0h1m22 0h1m1 0h1M1740 612h1M1771 613h1m5 0h1m24 0h1M1798 614h1M1742 615h1m22 0h1M1635 616h1m84 0h1m11 0h1m25 0h1m3 0h1m5 0h1m10 0h1M1770 617h1M1635 618h1m95 0h1m3 0h1m10 0h1m2 0h1m10 0h1m29 0h1M1712 619h1m5 0h1m2 0h1m6 0h1m4 0h1m29 0h1m2 0h1m7 0h1M1743 620h1m13 0h1M1731 621h1m22 0h1m10 0h1m15 0h1M1720 622h1m67 0h1M1635 623h1m88 0h1m56 0h1m15 0h1M1669 624h1m49 0h1m29 0h1M1732 625h1m13 0h1m9 0h1M1730 626h1m43 0h1M1756 627h1m30 0h1M1726 628h1m23 0h1M1696 629h1m1 0h1m30 0h1m2 0h1m1 0h1m19 0h1M1635 630h1m132 0h1M1722 631h1m12 0h1m17 0h1m7 0h1m1 0h1M1741 632h1m2 0h1M1710 633h1m6 0h1m3 0h1m1 0h1m8 0h1m6 0h1m20 0h1m4 0h1M1737 634h1m4 0h1M1701 635h1m79 0h1M1711 636h1m5 0h1m20 0h1m16 0h1M1685 637h1m18 0h1M1718 638h1m2 0h1m1 0h1m2 0h1m10 0h1M1697 639h1m17 0h1M1674 641h1m65 0h1M1688 642h1m26 0h1m10 0h1m11 0h1m10 0h1M1705 643h1m12 0h1M1727 644h1M1697 645h1m8 0h1m9 0h1m13 0h1M1673 646h1m25 0h1m2 0h1m44 0h1M1690 647h1m45 0h1m5 0h1M1716 648h1m14 0h1m22 0h1M1692 649h1m19 0h1m16 0h1M1710 650h1m47 0h1M1690 651h1m30 0h1M1681 652h1m22 0h1m12 0h1m1 0h1m5 0h1m13 0h1M1635 653h1m70 0h1m3 0h1m57 0h1M1726 654h1M1669 655h1m10 0h1m15 0h1m32 0h1M1674 656h1m3 0h1M1688 657h1m28 0h1M1690 658h1m5 0h1M1665 659h1m6 0h1M1716 660h1m16 0h1M1692 661h1m32 0h1M1684 662h1m10 0h1M1678 663h1m3 0h1m46 0h1M1690 664h1m1 0h1m6 0h1m2 0h1m2 0h1m16 0h1M1669 665h1M1674 666h1m17 0h1m1 0h1m4 0h1M1702 667h1M1670 668h1m1 0h1m22 0h1M1674 669h1m8 0h1m4 0h1m24 0h1m2 0h1M1692 670h1m4 0h1M1695 671h1m20 0h1M1700 672h1m32 0h1M1671 673h1m19 0h1m23 0h1M1685 674h1M1678 675h1m8 0h1m8 0h1M1716 676h1M1650 678h1m22 0h1m1 0h1m21 0h1M1664 679h1m36 0h1m5 0h1m11 0h1M1670 680h1m28 0h1m5 0h1M1656 681h1M1674 682h1m18 0h1m9 0h1M1697 683h1M1703 685h1M1679 686h1M1691 687h1M1659 688h1m20 0h1m7 0h1M1649 689h1m13 0h1m7 0h1m18 0h1m16 0h1M1657 690h1m22 0h1M1653 691h1m46 0h1M1653 693h1m11 0h1m8 0h1m19 0h1M1664 696h1M1650 702h1" stroke="#ed1c24" stroke-opacity="0.9"/>
<path d="M1922 574h2M1920 575h1M1921 576h1M1915 577h1m6 0h1M1916 578h2M1920 579h1m1 0h2M1920 580h1m3 0h1M1914 581h1m4 0h1m3 0h1M1909 582h2m1 0h2m1 0h2m1 0h2m3 0h1M1903 585h1M1904 586h2M1904 587h1m1 0h1m26 0h2M1903 588h1m2 0h1M1900 589h2m4 0h2M1896 590h2M1895 591h2m3 0h2M1892 592h5m6 0h1m1 0h1M1892 593h6m6 0h1M1889 594h4m1 0h1m16 0h1M1887 595h1m1 0h2m2 0h1m1 0h2m14 0h1M1887 596h3m1 0h3m1 0h1m2 0h1M1885 597h3m1 0h2m1 0h4m1 0h1m1 0h1M1885 598h1m1 0h2m2 0h3m1 0h1M1886 599h2m5 0h2m1 0h2m2 0h2M1881 600h1m1 0h1m1 0h2m2 0h1m2 0h3M1880 601h3m3 0h2m2 0h2m1 0h1m1 0h3m1 0h1M1878 602h4m1 0h1m7 0h1m1 0h4m1 0h1M1877 603h3m2 0h1m1 0h1m1 0h4m6 0h3M1876 604h6m4 0h1m2 0h2m2 0h1m1 0h1M1875 605h6m1 0h2m1 0h1m1 0h2m4 0h1M1874 606h6m2 0h1m2 0h1m2 0h1m2 0h2M1875 607h5m1 0h1m3 0h4m1 0h1m1 0h1m3 0h1m1 0h1M1872 608h1m1 0h1m1 0h1m1 0h1m1 0h1m5 0h2m2 0h1m6 0h1M1871 609h3m1 0h2m2 0h1m3 0h2m2 0h1m1 0h1m6 0h2M1869 610h3m6 0h1m3 0h2M1867 611h7m1 0h2m2 0h3m2 0h1M1866 612h4m1 0h2m1 0h1m1 0h1m1 0h1m7 0h1m1 0h1M1865 613h2m1 0h4m2 0h1m2 0h1m1 0h1m5 0h1m3 0h1M1863 614h8m1 0h1m1 0h1m5 0h2m6 0h1M1864 615h4m1 0h3m1 0h4m12 0h1M1862 616h5m1 0h3m1 0h2M1860 617h2m1 0h1m1 0h1m1 0h5m3 0h2m16 0h1M1859 618h2m1 0h2m1 0h3m2 0h1m1 0h1m1 0h3m1 0h1m14 0h1M1858 619h5m1 0h1m1 0h2m1 0h1m1 0h2m6 0h1M1856 620h8m1 0h2m1 0h1m2 0h1m5 0h1m1 0h1m4 0h1M1855 621h3m2 0h2m1 0h2m1 0h2m2 0h1m6 0h2m6 0h1M1854 622h5m1 0h3m2 0h8m13 0h1M1853 623h6m2 0h3m2 0h2m1 0h3M1851 624h7m2 0h2m1 0h1m1 0h1m1 0h2m1 0h3m10 0h1M1852 625h6m1 0h1m1 0h1m1 0h1m1 0h1m1 0h1m1 0h1m1 0h1m7 0h1m1 0h2M1850 626h3m2 0h6m3 0h4m10 0h1m3 0h1M1848 627h10m1 0h3m1 0h2m1 0h1M1847 628h9m1 0h1m2 0h1m3 0h1m17 0h3M1846 629h12m1 0h3m2 0h2m1 0h3M1845 630h9m1 0h1m1 0h2m1 0h1m2 0h1m3 0h2m1 0h1M1842 631h1m2 0h4m3 0h1m2 0h3m3 0h1m1 0h1m1 0h1m6 0h1M1843 632h1m1 0h3m3 0h1m1 0h7m3 0h1m1 0h1m5 0h2m1 0h1M1841 633h2m3 0h3m3 0h1m4 0h3m9 0h1m2 0h2M1840 634h1m2 0h3m1 0h2m2 0h2m2 0h2m1 0h1m1 0h2m2 0h2m4 0h2M1838 635h1m1 0h4m1 0h5m2 0h8m3 0h2M1836 636h4m1 0h3m1 0h1m1 0h2m1 0h2m3 0h1m2 0h4m1 0h1M1836 637h4m1 0h2m1 0h2m2 0h1m2 0h2m2 0h1m1 0h1m8 0h1M1835 638h3m1 0h1m1 0h5m2 0h3m2 0h1m2 0h2m1 0h2m5 0h1m4 0h1M1834 639h8m1 0h2m3 0h2m2 0h1m2 0h1m2 0h1m4 0h3m5 0h1M1833 640h3m1 0h1m1 0h5m2 0h1m6 0h1m2 0h4m1 0h2M1832 641h2m1 0h3m1 0h3m1 0h4m6 0h2m1 0h1m2 0h1m3 0h2M1831 642h1m1 0h5m1 0h1m2 0h1m10 0h1m3 0h1M1828 643h4m1 0h6m1 0h4m2 0h1m1 0h1m3 0h2m2 0h1M1828 644h1m1 0h2m1 0h1m1 0h2m1 0h4m1 0h3m1 0h1m5 0h3m8 0h1M1827 645h1m1 0h1m1 0h4m1 0h3m2 0h1m1 0h1m2 0h2m11 0h1m3 0h1M1826 646h3m2 0h1m1 0h3m2 0h1m3 0h2m2 0h1m1 0h2m1 0h1m8 0h1m3 0h1M1825 647h1m1 0h9m1 0h1m2 0h3m4 0h4m1 0h1m9 0h1M1824 648h4m1 0h4m1 0h4m2 0h2m6 0h1m6 0h1m4 0h2M1823 649h1m2 0h5m1 0h4m1 0h4m2 0h2m3 0h1m5 0h1M1821 650h4m2 0h4m2 0h1m1 0h1m1 0h2m4 0h2m2 0h1M1820 651h4m1 0h4m1 0h1m1 0h1m3 0h1m1 0h1m1 0h1m9 0h1M1819 652h2m1 0h7m2 0h1m6 0h1m1 0h1m2 0h1m2 0h2m1 0h1m1 0h1m10 0h1M1819 653h1m1 0h6m13 0h3m20 0h1M1818 654h3m2 0h2m1 0h2m2 0h2m4 0h3M1817 655h2m3 0h1m1 0h1m1 0h4m10 0h2M1814 656h3m1 0h2m2 0h1m1 0h1m10 0h1m3 0h2M1814 657h8m3 0h1m1 0h3m1 0h1m2 0h1m1 0h4m3 0h2M1813 658h2m1 0h4m1 0h1m2 0h1m2 0h1m1 0h1m1 0h2m1 0h2m1 0h1m1 0h1m3 0h1m1 0h2m11 0h1M1812 659h2m1 0h1m2 0h1m3 0h3m1 0h1m1 0h1m2 0h2m1 0h1m1 0h1m5 0h1m3 0h1m12 0h1M1811 660h3m3 0h1m2 0h2m1 0h1m3 0h1m5 0h1m1 0h1m3 0h2m5 0h1M1809 661h4m1 0h5m2 0h1m1 0h3m1 0h1m2 0h2m3 0h3M1809 662h3m1 0h1m1 0h1m1 0h2m2 0h1m1 0h1m2 0h1m2 0h1m2 0h1m3 0h1m3 0h1M1808 663h2m1 0h5m1 0h1m1 0h1m1 0h4m3 0h1m8 0h1m2 0h1M1807 664h1m1 0h5m1 0h3m3 0h2m3 0h1m1 0h1m1 0h1m4 0h1m1 0h1M1808 665h2m1 0h2m6 0h1m5 0h1m1 0h2m2 0h1m3 0h2m4 0h1m8 0h2M1806 666h2m5 0h1m3 0h1m1 0h4m4 0h1m3 0h1m4 0h1m4 0h1M1805 667h6m1 0h1m4 0h1m8 0h1m4 0h1m4 0h1m3 0h2M1804 668h4m4 0h1m5 0h1m3 0h2m1 0h1m8 0h1M1804 669h2m2 0h2m3 0h4m16 0h1M1803 670h3m3 0h1m3 0h2m1 0h1m2 0h5m10 0h1M1802 671h1m1 0h3m1 0h3m4 0h1m2 0h1m4 0h1m10 0h1M1802 672h2m1 0h3m2 0h1m3 0h1m4 0h1m5 0h2m13 0h2M1801 673h3m1 0h1m1 0h1m1 0h3m4 0h2m2 0h2m2 0h1M1800 674h2m3 0h2m2 0h3m2 0h1m1 0h1m2 0h1m1 0h1m1 0h1M1799 675h4m1 0h1m8 0h1m5 0h1m4 0h2m3 0h1M1798 676h1m1 0h8m4 0h1m1 0h1m5 0h1m1 0h2m5 0h1M1798 677h3m2 0h1m3 0h1m3 0h1m3 0h1m3 0h1m2 0h1m7 0h1M1797 678h3m1 0h5m1 0h3m1 0h1m1 0h1m5 0h1m1 0h1m1 0h2m5 0h1M1796 679h3m2 0h5m3 0h1m2 0h1m3 0h2m3 0h2M1796 680h4m1 0h1m1 0h2m2 0h3m1 0h1m1 0h1m1 0h3m2 0h1m1 0h1m7 0h1M1797 681h2m2 0h1m1 0h2m2 0h3m3 0h1m4 0h1m3 0h1m6 0h1M1798 682h2m1 0h1m2 0h1m2 0h3m2 0h1m1 0h1m2 0h2M1795 683h4m1 0h1m1 0h3m2 0h1m7 0h1m3 0h1M1795 684h2m1 0h1m2 0h3m1 0h2m1 0h1m6 0h1m4 0h1m3 0h1M1792 685h1m2 0h2m4 0h1m4 0h1m1 0h1m9 0h1m2 0h1m3 0h1M1791 686h1m1 0h2m1 0h4m8 0h1m1 0h1m8 0h1m4 0h1M1792 687h1m1 0h2m1 0h1m1 0h2m1 0h2m1 0h1m1 0h1m1 0h1m6 0h2m1 0h1m4 0h2M1790 688h2m2 0h1m4 0h2m4 0h1m4 0h1m2 0h1m6 0h1M1792 689h1m2 0h2m1 0h1m5 0h1m1 0h1m2 0h1m1 0h1m1 0h1M1791 690h1m3 0h1m1 0h3m14 0h1M1789 691h2m5 0h1m1 0h3m1 0h2m4 0h2m4 0h1M1790 692h1m1 0h1m1 0h1m3 0h1M1789 693h1m1 0h1m3 0h2m6 0h1m1 0h2m4 0h2m4 0h1M1786 694h3m3 0h1m9 0h2m9 0h1m2 0h1M1786 695h1m2 0h2m1 0h1m1 0h3m1 0h1m1 0h1m2 0h1m3 0h1M1785 696h1m6 0h1m4 0h1m1 0h1m2 0h1m3 0h1m2 0h1M1783 697h2m2 0h3m3 0h1m1 0h1m3 0h1m8 0h1M1783 698h1m1 0h2m3 0h1m1 0h1m2 0h1m1 0h1m2 0h1m1 0h1M1783 699h1m1 0h2m4 0h2m2 0h1m2 0h1m2 0h1M1783 700h1m1 0h2m2 0h2m7 0h1m1 0h2M1781 701h1m6 0h1m6 0h2m3 0h2M1781 702h1m3 0h1m1 0h2m2 0h1m3 0h1m1 0h1m2 0h1M1784 703h1m5 0h1m1 0h1m3 0h2M1780 704h1m26 0h2M1780 705h6m2 0h1m1 0h1M1777 706h1m5 0h1m3 0h1m1 0h2M1782 707h1M1775 708h1m19 0h2M1776 709h1m5 0h1m13 0h1M1774 710h7m1 0h1m7 0h1M1773 711h1m2 0h3m7 0h2m1 0h1M1773 712h2m2 0h1m1 0h1m1 0h1m7 0h2M1772 713h2m2 0h2m1 0h1m1 0h1m6 0h1m18 0h1M1778 714h2m5 0h3m19 0h1M1770 715h3m2 0h1m4 0h1m1 0h1m3 0h1m1 0h1M1771 716h1m1 0h1m1 0h1m4 0h2m1 0h1m1 0h1m2 0h2m15 0h1M1769 717h1m3 0h2m5 0h2m8 0h1m14 0h1M1768 718h1m9 0h2m11 0h1M1770 719h1m3 0h2m4 0h1m9 0h1M1771 720h1m2 0h2m3 0h1m3 0h1M1773 721h1m4 0h2m3 0h1m10 0h1m1 0h1M1768 722h1m1 0h1m3 0h1m3 0h1m14 0h2m1 0h2M1769 723h2m4 0h1m12 0h1M1769 724h1m17 0h1M1769 725h1m16 0h1M1769 726h1m2 0h3m7 0h2m7 0h1M1770 727h1m4 0h1m16 0h1M1770 728h1m11 0h1m3 0h2M1782 729h2m2 0h1M1772 730h1M1772 731h1M1773 732h1m12 0h1M1787 733h1M1755 734h2M1781 735h1m3 0h2M1771 736h2m8 0h1M1773 739h2M1774 740h1M1743 742h2M1759 745h1M1759 746h1M1758 747h1M1743 753h2M1774 788h3m1 0h3m7 0h3m1 0h2m1 0h5m5 0h4" stroke="#4a4fa2"/>
<path d="M1946 560h1M1950 569h1M1940 572h1M1918 576h1m6 0h1m1 0h1M1910 580h1m6 0h1M1907 583h1M1915 584h1M1913 585h1M1909 586h1M1923 587h1M1912 589h1M1899 593h1m8 0h1M1903 595h1M1906 596h1m10 0h1M1912 597h1M1919 601h1M1902 602h1M1910 603h1M1901 609h1M1891 610h1M1894 613h1M1878 615h1M1886 617h1M1884 618h1m6 0h1m6 0h1M1888 619h1M1895 621h1M1880 622h1m1 0h1M1897 623h1M1888 625h1M1869 627h1m4 0h1M1872 629h1M1883 630h1M1885 631h1M1867 632h1m10 0h1M1889 633h1M1883 634h1M1882 636h1M1878 637h1M1874 638h1M1850 641h1m25 0h1M1873 642h1M1866 643h1m2 0h1M1868 646h1M1857 648h1M1862 650h1M1853 651h1M1834 652h1M1855 653h1m2 0h1M1833 655h1M1848 656h1m1 0h1m13 0h1M1848 658h1m1 0h1m1 0h1m1 0h1M1849 660h1m5 0h1M1842 661h1M1850 662h1M1856 663h1m3 0h1M1833 664h1M1845 667h1M1820 668h1M1838 671h1M1830 672h1m28 0h1M1850 673h1M1837 674h1M1833 675h1M1827 676h1m8 0h1M1848 677h1M1826 678h1m10 0h1M1842 679h1M1835 680h1M1826 682h1M1810 684h1m17 0h1M1842 685h1M1834 686h1M1818 689h1M1822 690h1M1823 692h1M1819 694h1m4 0h1M1812 696h1M1804 697h1M1810 698h1m12 0h1M1840 699h1M1812 700h1m1 0h1M1793 701h1m24 0h1M1806 702h1m6 0h1M1792 705h1m11 0h1M1796 706h1m28 0h1M1800 707h1m6 0h1M1788 708h1M1785 709h1m25 0h1M1801 710h1m3 0h1m7 0h1M1796 712h1M1793 713h1M1790 714h1m6 0h1m1 0h1M1802 715h1M1778 716h1m20 0h1M1816 717h1M1766 720h1m20 0h1m16 0h1M1803 722h1M1791 723h1M1784 724h1m11 0h1M1778 725h1m1 0h1M1761 726h1M1778 727h1M1766 728h1m6 0h1M1760 729h1M1770 730h1m4 0h1m14 0h1M1767 731h1m37 0h1M1759 732h1m9 0h1M1804 733h1M1752 735h1M1768 736h1M1775 737h1M1749 738h1m13 0h1M1771 739h1M1769 740h1M1756 741h1M1746 745h1m4 0h1M1744 746h1M1782 747h1M1743 748h1M1768 750h1m4 0h1M1761 752h1M1746 753h1m5 0h1M1760 756h1m6 0h1m15 0h1M1743 757h1m5 0h1M1754 762h1M1801 788h1m1 0h1" stroke="#4a4fa2" stroke-opacity="1"/>
<path d="M1927 538h1M1926 539h1M1919 543h1M1919 549h3m5 0h2M1922 550h1m3 0h1M1910 553h1m8 0h2M1925 554h1M1922 555h1m3 0h1M1912 556h1m8 0h1m9 0h2M1905 557h1m4 0h3m2 0h2m2 0h2M1909 558h2M1909 559h2m8 0h1M1904 560h1m1 0h3m1 0h1m7 0h1M1903 561h1m3 0h1m6 0h1M1908 562h1m4 0h2M1907 563h2m3 0h1M1899 564h1m3 0h2m7 0h1m7 0h1m6 0h1M1899 565h3m2 0h3m3 0h1m9 0h1m5 0h1M1896 566h1m1 0h1m3 0h1m4 0h1m3 0h1m1 0h2M1895 567h2m6 0h1m1 0h1m1 0h1m3 0h1m2 0h1m1 0h1m6 0h1M1896 568h1m7 0h1m11 0h1m3 0h3M1895 569h2m2 0h2m1 0h5m1 0h3m1 0h1m3 0h1M1894 570h1m2 0h2m1 0h1m5 0h1m2 0h2m1 0h1M1894 571h3m3 0h1m1 0h2m2 0h1M1891 572h1m2 0h5m1 0h2m2 0h2m2 0h4M1889 573h2m2 0h1m5 0h5m1 0h3m2 0h2m7 0h1M1890 574h1m1 0h3m4 0h4m1 0h1m1 0h1m1 0h1m1 0h1m7 0h1M1890 575h2m2 0h1m1 0h2m1 0h1m1 0h3m1 0h2m2 0h1M1888 576h1m1 0h1m1 0h1m1 0h1m1 0h2m3 0h1m1 0h1m2 0h1M1886 577h1m1 0h2m1 0h2m2 0h2m1 0h1m1 0h2m4 0h1m2 0h1m3 0h2M1884 578h8m1 0h1m1 0h1m3 0h1m1 0h1m1 0h3m2 0h1m4 0h1M1884 579h1m1 0h1m2 0h7m1 0h3m1 0h1m1 0h1m4 0h1M1881 580h1m1 0h1m1 0h1m1 0h7m2 0h3m1 0h1m1 0h1M1879 581h3m1 0h2m1 0h1m1 0h1m2 0h4m3 0h1m2 0h2m2 0h1M1879 582h2m2 0h1m1 0h1m1 0h10m2 0h2m1 0h3M1877 583h2m1 0h2m1 0h2m2 0h8m1 0h1m1 0h1m2 0h1M1877 584h2m1 0h5m1 0h1m1 0h6m1 0h4M1875 585h1m2 0h3m1 0h4m1 0h3m1 0h1m1 0h2m2 0h3M1873 586h1m2 0h3m2 0h3m1 0h2m1 0h1m1 0h3m4 0h1m1 0h1M1872 587h6m1 0h4m1 0h2m1 0h3m1 0h1m1 0h6M1872 588h2m1 0h4m1 0h7m1 0h1m1 0h3m1 0h1m3 0h1M1870 589h17m2 0h4M1868 590h14m2 0h4m2 0h1m1 0h2m1 0h1M1867 591h3m1 0h17m4 0h1M1866 592h1m2 0h3m1 0h5m1 0h5m1 0h1m1 0h3m1 0h1M1865 593h4m1 0h10m3 0h7M1864 594h1m1 0h23M1862 595h1m1 0h20m1 0h1M1861 596h4m2 0h2m1 0h15M1861 597h1m1 0h16m2 0h3M1860 598h6m1 0h4m1 0h9m1 0h1M1858 599h20m1 0h2M1856 600h17m1 0h7M1855 601h7m1 0h7m1 0h4m4 0h1M1855 602h23M1855 603h21M1851 604h3m1 0h21M1851 605h21m1 0h2M1849 606h25M1848 607h21m1 0h3M1846 608h26M1847 609h19M1844 610h25M1843 611h24M1841 612h18m1 0h6M1840 613h19m1 0h3m1 0h1M1838 614h1m1 0h23M1838 615h1m1 0h22M1836 616h23m1 0h2M1835 617h25M1834 618h7m1 0h17M1834 619h24M1831 620h25M1830 621h25M1829 622h25M1827 623h20m1 0h2m1 0h2M1826 624h22m1 0h2M1827 625h3m1 0h18m1 0h1M1823 626h23m1 0h3M1822 627h26M1820 628h27M1819 629h26M1817 630h1m1 0h25M1816 631h1m1 0h24m1 0h1M1815 632h26m1 0h1M1814 633h27M1811 634h29M1810 635h28M1809 636h4m1 0h22M1808 637h28M1807 638h28M1804 639h1m1 0h21m1 0h6M1803 640h29M1802 641h1m1 0h4m1 0h23M1799 642h32M1798 643h18m1 0h11M1797 644h29m1 0h1M1795 645h7m1 0h22m1 0h1M1795 646h25m1 0h5M1793 647h32M1792 648h5m1 0h23m1 0h2M1789 649h1m1 0h2m2 0h28M1788 650h1m2 0h1m2 0h27M1787 651h2m2 0h29M1784 652h1m2 0h7m1 0h24M1784 653h1m2 0h6m1 0h25M1783 654h2m1 0h6m1 0h1m1 0h18m1 0h4M1780 655h1m1 0h1m2 0h29m1 0h2M1778 656h3m1 0h1m1 0h30M1775 657h1m1 0h2m1 0h8m2 0h23M1774 658h2m1 0h1m1 0h8m1 0h20m1 0h4M1771 659h1m5 0h1m3 0h1m1 0h9m1 0h17m1 0h1M1770 660h3m2 0h2m2 0h1m2 0h1m1 0h26M1767 661h1m1 0h3m1 0h12m1 0h22M1766 662h1m3 0h2m1 0h4m4 0h4m1 0h21m1 0h1M1764 663h2m1 0h2m1 0h4m1 0h3m1 0h14m1 0h5m1 0h8M1765 664h1m3 0h3m1 0h2m1 0h3m2 0h26M1766 665h2m6 0h1m1 0h8m1 0h19m2 0h1M1756 666h1m2 0h1m3 0h3m2 0h1m2 0h1m1 0h2m1 0h9m1 0h4m1 0h2m1 0h10m1 0h1M1755 667h2m2 0h2m2 0h3m3 0h1m1 0h6m1 0h21m3 0h1M1755 668h1m1 0h2m2 0h1m7 0h4m2 0h13m1 0h13m1 0h1M1754 669h1m2 0h2m2 0h1m1 0h2m1 0h1m1 0h4m1 0h1m1 0h6m1 0h15m1 0h2m1 0h2M1752 670h1m3 0h1m2 0h1m2 0h1m4 0h1m1 0h5m2 0h1m1 0h11m1 0h9m1 0h2M1750 671h1m6 0h1m3 0h1m1 0h1m1 0h3m1 0h1m1 0h17m1 0h9m1 0h1M1753 672h1m1 0h3m2 0h3m1 0h1m1 0h3m1 0h3m1 0h1m1 0h1m1 0h8m1 0h7m1 0h6M1744 673h3m5 0h2m2 0h2m1 0h3m1 0h13m1 0h2m1 0h16m1 0h1m2 0h1M1743 674h1m1 0h1m7 0h1m1 0h2m1 0h1m1 0h1m2 0h3m1 0h5m1 0h7m1 0h16M1745 675h1m7 0h2m2 0h5m2 0h1m2 0h2m1 0h29M1741 676h1m9 0h1m1 0h1m1 0h1m5 0h1m1 0h1m1 0h2m1 0h5m1 0h10m1 0h3m1 0h2m1 0h3m1 0h2M1745 677h1m5 0h1m2 0h11m1 0h1m1 0h1m1 0h5m1 0h13m1 0h6M1739 678h1m1 0h1m4 0h1m4 0h2m1 0h1m2 0h4m2 0h3m1 0h2m1 0h25M1740 679h4m2 0h2m1 0h2m1 0h1m2 0h1m1 0h15m1 0h13m1 0h5m1 0h1m1 0h1M1739 680h1m1 0h1m2 0h1m3 0h1m1 0h4m4 0h2m1 0h2m1 0h2m2 0h11m1 0h5m2 0h1m1 0h1m2 0h1m2 0h1M1734 681h1m3 0h1m3 0h1m2 0h1m1 0h3m1 0h1m1 0h1m3 0h4m1 0h3m1 0h2m1 0h1m1 0h3m1 0h12m2 0h2M1731 682h1m2 0h2m1 0h1m1 0h1m2 0h1m2 0h1m3 0h4m2 0h2m1 0h1m3 0h3m1 0h1m1 0h15m1 0h1m1 0h2m1 0h1m1 0h1m1 0h1M1729 683h2m2 0h1m3 0h1m3 0h2m1 0h2m1 0h6m1 0h4m1 0h4m3 0h5m1 0h1m1 0h1m1 0h6m1 0h1m1 0h2m1 0h1m3 0h2M1725 684h2m2 0h1m4 0h2m1 0h4m2 0h3m1 0h2m1 0h2m1 0h7m1 0h6m1 0h6m1 0h6m3 0h7M1729 685h1m4 0h1m1 0h1m1 0h2m1 0h1m1 0h1m3 0h2m1 0h1m3 0h2m2 0h2m1 0h2m1 0h12m1 0h3m1 0h7m2 0h2M1721 686h2m13 0h1m1 0h1m1 0h2m4 0h1m1 0h8m1 0h3m2 0h3m1 0h6m1 0h4m1 0h8m1 0h1m1 0h1M1720 687h2m6 0h1m1 0h2m2 0h2m2 0h1m1 0h3m2 0h3m1 0h1m1 0h3m2 0h1m1 0h1m1 0h4m2 0h3m1 0h4m1 0h1m2 0h2m2 0h2m1 0h1m1 0h1m2 0h1M1718 688h1m7 0h2m5 0h1m2 0h1m1 0h2m1 0h1m2 0h1m2 0h2m1 0h8m1 0h2m1 0h5m1 0h8m4 0h1m3 0h5M1717 689h2m1 0h1m3 0h2m1 0h1m1 0h1m1 0h3m1 0h2m2 0h2m1 0h1m1 0h1m3 0h2m1 0h1m1 0h1m1 0h3m2 0h4m1 0h7m1 0h1m1 0h2m3 0h1m3 0h1m1 0h1M1715 690h1m2 0h4m3 0h2m3 0h1m2 0h1m1 0h2m2 0h1m2 0h2m1 0h13m1 0h4m1 0h12m2 0h2m1 0h1m2 0h1m2 0h1M1709 691h2m3 0h2m2 0h2m3 0h1m7 0h1m6 0h4m2 0h2m1 0h4m1 0h1m1 0h1m2 0h13m1 0h1m2 0h5m2 0h3m3 0h1M1716 692h2m1 0h2m1 0h1m6 0h2m2 0h3m1 0h2m2 0h2m1 0h1m1 0h2m2 0h1m1 0h1m1 0h12m4 0h7M1711 693h2m4 0h2m1 0h2m1 0h1m2 0h2m1 0h1m2 0h2m1 0h1m2 0h1m2 0h1m1 0h2m1 0h1m1 0h1m1 0h3m1 0h8m1 0h1m1 0h3m2 0h3m1 0h3m1 0h1m1 0h1m1 0h1M1679 694h1m26 0h1m3 0h1m1 0h1m6 0h1m1 0h1m1 0h1m1 0h2m2 0h1m1 0h1m1 0h1m2 0h1m5 0h1m3 0h4m1 0h2m1 0h1m1 0h2m1 0h6m1 0h6m1 0h1m4 0h2m1 0h1m2 0h1M1690 695h2m7 0h1m7 0h1m9 0h1m1 0h1m4 0h2m2 0h1m2 0h2m4 0h2m1 0h1m2 0h2m1 0h1m1 0h6m2 0h1m2 0h2m1 0h1m1 0h6m1 0h2m1 0h1m3 0h2m2 0h1m1 0h1M1699 696h1m10 0h1m1 0h2m3 0h1m1 0h1m2 0h1m3 0h1m2 0h5m2 0h1m4 0h4m1 0h3m1 0h2m1 0h2m4 0h4m1 0h7m1 0h3m5 0h1M1697 697h1m2 0h1m9 0h1m1 0h1m4 0h2m2 0h2m2 0h1m1 0h2m2 0h5m1 0h3m1 0h2m1 0h1m1 0h1m1 0h1m1 0h4m1 0h9m2 0h6m1 0h1m1 0h1m3 0h1M1635 698h1m44 0h1m6 0h1m6 0h1m3 0h3m4 0h2m2 0h9m1 0h1m2 0h1m2 0h3m1 0h5m1 0h1m1 0h2m2 0h2m1 0h9m1 0h1m1 0h4m1 0h1m1 0h2m1 0h3m1 0h1m1 0h3m3 0h2M1635 699h1m41 0h1m2 0h1m5 0h1m6 0h1m1 0h1m3 0h1m4 0h1m7 0h4m1 0h1m1 0h2m2 0h2m1 0h2m1 0h2m1 0h4m3 0h9m1 0h4m3 0h1m1 0h1m1 0h2m1 0h5m1 0h2m1 0h1m6 0h1M1635 700h1m41 0h2m19 0h1m1 0h1m1 0h1m3 0h4m5 0h4m1 0h1m1 0h1m2 0h2m2 0h1m1 0h1m1 0h1m1 0h4m1 0h1m1 0h1m1 0h2m1 0h14m1 0h2m3 0h1m5 0h1m1 0h2m4 0h1M1635 701h1m43 0h2m14 0h1m4 0h3m6 0h2m1 0h1m3 0h3m1 0h1m1 0h2m2 0h5m1 0h1m2 0h2m1 0h2m2 0h8m2 0h1m2 0h1m2 0h2m1 0h5m8 0h2M1635 702h1m55 0h1m1 0h3m2 0h2m1 0h1m1 0h1m1 0h1m2 0h4m1 0h2m2 0h2m1 0h2m1 0h1m1 0h2m1 0h2m1 0h2m1 0h3m3 0h9m4 0h7m1 0h1m4 0h3m4 0h1M1635 703h1m32 0h1m3 0h1m18 0h1m1 0h2m2 0h2m5 0h1m6 0h2m3 0h1m2 0h4m1 0h2m5 0h1m2 0h2m2 0h3m2 0h2m2 0h2m1 0h3m3 0h1m1 0h4m1 0h1m3 0h1m5 0h1M1635 704h1m31 0h1m3 0h1m14 0h2m5 0h1m2 0h1m1 0h2m4 0h1m3 0h2m4 0h1m1 0h1m1 0h3m3 0h4m1 0h2m1 0h5m1 0h1m5 0h3m1 0h7m1 0h2m1 0h2m1 0h2m7 0h3M1635 705h1m38 0h1m2 0h1m5 0h3m6 0h2m2 0h1m1 0h1m2 0h1m2 0h1m2 0h2m1 0h2m1 0h1m1 0h2m1 0h2m1 0h6m2 0h1m1 0h2m1 0h6m1 0h5m1 0h9m1 0h2m1 0h3m2 0h2m3 0h1m1 0h1M1635 706h1m28 0h2m9 0h1m1 0h1m2 0h3m6 0h1m1 0h2m1 0h2m1 0h2m1 0h1m1 0h1m1 0h2m3 0h2m4 0h6m1 0h2m2 0h1m1 0h1m1 0h6m1 0h6m3 0h7m3 0h1m1 0h3m2 0h1m1 0h1m1 0h3m6 0h1M1635 707h1m40 0h1m2 0h2m8 0h2m2 0h2m1 0h1m2 0h2m1 0h9m4 0h3m3 0h1m1 0h1m4 0h7m3 0h5m1 0h1m2 0h2m1 0h2m2 0h1m1 0h1m3 0h1m1 0h2m6 0h1m3 0h1M1635 708h1m40 0h1m1 0h1m4 0h2m1 0h1m4 0h1m2 0h2m6 0h1m1 0h1m1 0h1m2 0h3m3 0h2m4 0h5m3 0h9m1 0h2m1 0h2m1 0h2m1 0h9m1 0h1m1 0h1m4 0h1m2 0h2M1635 709h1m41 0h1m1 0h1m3 0h1m1 0h2m1 0h2m1 0h1m2 0h1m1 0h3m1 0h1m1 0h1m5 0h4m2 0h1m1 0h1m1 0h6m1 0h1m1 0h7m1 0h1m2 0h1m1 0h1m1 0h2m1 0h1m3 0h3m1 0h2m2 0h2m2 0h3m1 0h1m7 0h1M1635 710h1m37 0h1m1 0h2m9 0h2m3 0h1m3 0h1m1 0h3m2 0h1m1 0h2m1 0h2m2 0h1m1 0h2m4 0h8m1 0h7m1 0h3m3 0h3m2 0h1m3 0h1m1 0h1m1 0h1m1 0h1m1 0h2m3 0h1m1 0h1M1635 711h1m38 0h1m2 0h1m6 0h2m1 0h1m3 0h2m4 0h1m4 0h3m2 0h3m2 0h7m1 0h2m1 0h1m2 0h2m1 0h2m1 0h2m1 0h9m1 0h3m1 0h3m1 0h4m1 0h1M1635 712h1m36 0h2m10 0h2m7 0h1m3 0h1m1 0h1m2 0h1m1 0h4m1 0h1m1 0h4m1 0h1m1 0h3m1 0h10m2 0h7m1 0h5m1 0h5m6 0h1m1 0h2m3 0h1M1666 713h2m4 0h2m4 0h2m1 0h1m1 0h4m1 0h2m2 0h1m2 0h1m3 0h1m1 0h2m1 0h1m1 0h1m1 0h2m2 0h7m1 0h11m5 0h1m1 0h1m3 0h1m1 0h1m3 0h2m1 0h1m1 0h1m9 0h1m1 0h1m3 0h1M1635 714h1m37 0h1m5 0h2m9 0h1m3 0h3m2 0h3m1 0h1m1 0h1m2 0h5m1 0h1m1 0h2m1 0h3m1 0h4m1 0h2m2 0h1m1 0h1m5 0h1m2 0h4m1 0h3m2 0h1m5 0h1m4 0h1m1 0h1m1 0h2M1635 715h1m32 0h3m8 0h1m4 0h2m4 0h3m1 0h1m1 0h1m1 0h5m3 0h4m1 0h4m1 0h5m1 0h3m1 0h2m2 0h2m1 0h3m1 0h3m5 0h1m4 0h2m2 0h2m1 0h1m2 0h1m5 0h1m2 0h1M1635 716h1m32 0h2m1 0h1m2 0h2m7 0h2m1 0h4m1 0h1m3 0h3m1 0h3m2 0h1m2 0h1m1 0h8m1 0h2m2 0h1m1 0h1m1 0h3m2 0h2m1 0h3m1 0h4m2 0h4m2 0h1m1 0h2m2 0h1m2 0h1m2 0h1m3 0h2M1635 717h1m26 0h1m3 0h2m14 0h2m5 0h2m1 0h2m1 0h1m1 0h2m1 0h1m2 0h1m7 0h6m4 0h5m4 0h5m2 0h3m1 0h3m1 0h1m3 0h1m3 0h1m1 0h1m3 0h1m1 0h2m3 0h1M1635 718h1m26 0h1m3 0h1m1 0h1m12 0h2m4 0h1m1 0h1m3 0h2m1 0h1m4 0h5m3 0h2m1 0h4m1 0h5m2 0h1m4 0h2m1 0h2m2 0h3m1 0h1m1 0h3m1 0h1m3 0h2m2 0h1m6 0h1m1 0h1M1635 719h1m28 0h2m4 0h1m9 0h2m1 0h1m1 0h4m1 0h1m1 0h1m1 0h1m1 0h1m3 0h2m3 0h2m5 0h5m1 0h1m1 0h7m3 0h5m1 0h2m4 0h3m7 0h1M1635 720h1m25 0h1m1 0h1m7 0h1m6 0h3m1 0h4m4 0h1m1 0h1m2 0h1m1 0h1m1 0h1m1 0h2m2 0h4m1 0h1m2 0h1m4 0h4m1 0h1m1 0h1m1 0h3m1 0h1m1 0h2m2 0h1m1 0h6m5 0h1m1 0h2m2 0h1M1635 721h1m26 0h1m1 0h1m6 0h1m6 0h1m1 0h1m4 0h3m3 0h1m2 0h3m1 0h6m2 0h1m3 0h1m1 0h11m3 0h3m1 0h1m1 0h4m1 0h2m4 0h1m5 0h2m2 0h1m3 0h1M1635 722h1m24 0h2m7 0h2m5 0h2m2 0h2m4 0h1m4 0h1m1 0h2m2 0h1m5 0h2m1 0h3m1 0h1m2 0h1m1 0h1m1 0h2m2 0h1m2 0h9m1 0h2m3 0h4m2 0h1m3 0h1m1 0h2M1635 723h1m23 0h2m14 0h2m9 0h1m12 0h1m1 0h2m3 0h4m3 0h1m2 0h1m3 0h4m2 0h2m1 0h1m1 0h2m3 0h3m2 0h2m2 0h3M1635 724h1m25 0h1m4 0h1m7 0h1m1 0h1m5 0h2m13 0h3m2 0h2m4 0h2m1 0h5m1 0h9m1 0h1m3 0h3m2 0h1m3 0h1m7 0h1m7 0h2m1 0h1M1635 725h1m31 0h1m4 0h2m2 0h1m6 0h2m3 0h1m1 0h1m3 0h4m2 0h5m2 0h8m3 0h6m1 0h3m1 0h3m3 0h2m3 0h1m17 0h1M1635 726h1m34 0h3m8 0h1m1 0h1m1 0h1m1 0h2m1 0h2m1 0h1m1 0h3m1 0h3m9 0h2m1 0h1m5 0h1m5 0h1m6 0h2m2 0h1m5 0h1M1635 727h1m34 0h2m4 0h1m1 0h1m3 0h2m1 0h2m1 0h1m5 0h1m1 0h2m1 0h1m4 0h1m1 0h1m2 0h2m2 0h2m3 0h1m1 0h3m1 0h1m2 0h1m1 0h2m4 0h1m1 0h3m3 0h1m2 0h1m4 0h1M1635 728h1m32 0h3m5 0h1m2 0h1m2 0h5m5 0h2m2 0h2m1 0h3m1 0h4m3 0h1m1 0h3m2 0h2m1 0h6m5 0h2m1 0h1m1 0h4m2 0h1m1 0h1m1 0h1m5 0h1M1635 729h1m29 0h1m2 0h1m9 0h1m3 0h3m2 0h2m2 0h1m1 0h1m8 0h2m2 0h2m3 0h1m1 0h8m1 0h1m5 0h1m2 0h2m3 0h1m2 0h1m9 0h1M1635 730h1m30 0h2m9 0h1m4 0h1m1 0h3m2 0h1m5 0h1m5 0h1m1 0h1m1 0h2m3 0h3m1 0h2m3 0h5m1 0h1m3 0h2m3 0h2m1 0h1m10 0h1m5 0h1M1635 731h1m29 0h2m13 0h3m1 0h1m2 0h1m2 0h1m1 0h2m1 0h2m6 0h1m3 0h5m1 0h1m3 0h4m1 0h1m3 0h2m1 0h2m2 0h1m6 0h1m2 0h1m10 0h1M1635 732h1m28 0h2m4 0h3m7 0h2m1 0h1m1 0h1m6 0h1m1 0h1m1 0h1m4 0h1m1 0h4m1 0h6m1 0h2m13 0h1m1 0h1m8 0h1m1 0h2m10 0h1M1635 733h1m25 0h3m2 0h1m11 0h2m11 0h1m1 0h3m1 0h1m3 0h1m1 0h1m1 0h1m3 0h1m4 0h1m1 0h1m9 0h2m3 0h1m3 0h1m4 0h1m1 0h1m5 0h2M1635 734h1m25 0h2m14 0h2m3 0h2m1 0h1m7 0h1m2 0h1m5 0h1m2 0h1m2 0h2m7 0h3m7 0h1m1 0h2m2 0h1m2 0h3M1635 735h1m24 0h2m14 0h3m2 0h2m2 0h1m8 0h1m1 0h1m2 0h1m1 0h1m3 0h1m1 0h1m1 0h1m4 0h3m1 0h1m1 0h1m5 0h1m4 0h2m9 0h1M1635 736h1m23 0h3m12 0h2m2 0h1m3 0h1m13 0h1m2 0h1m1 0h1m3 0h1m1 0h1m5 0h1m4 0h2m2 0h2m1 0h1m12 0h1m4 0h1M1635 737h1m21 0h3m7 0h2m3 0h3m1 0h1m3 0h1m2 0h1m4 0h1m3 0h2m1 0h1m1 0h1m5 0h1m1 0h1m2 0h1m4 0h3m1 0h4m3 0h1m5 0h1m7 0h1M1635 738h1m21 0h1m14 0h2m5 0h1m1 0h1m6 0h1m9 0h1m2 0h2m11 0h1m2 0h1m2 0h1m3 0h1m5 0h1m4 0h2M1635 739h1m35 0h2m6 0h1m1 0h1m12 0h2m2 0h1m4 0h1m3 0h1m5 0h1m1 0h1m1 0h1m4 0h1m12 0h1M1635 740h1m34 0h1m8 0h1m4 0h2m7 0h1m9 0h1m3 0h2m2 0h2m9 0h1m1 0h1M1669 741h1m22 0h1m9 0h1m5 0h1m8 0h3m2 0h1m1 0h1M1635 742h1m33 0h1m21 0h1m10 0h1m6 0h1m7 0h1m5 0h1M1635 743h1m58 0h1m6 0h1m2 0h2m4 0h1M1635 744h1m59 0h2M1635 745h1m53 0h1m6 0h1M1635 746h1m53 0h1M1635 747h1m54 0h1M1635 748h1M1635 749h1M1635 750h1M1635 751h1M1635 752h1" stroke="#000"/>
<path d="M1958 515h1M1966 518h1M1970 520h1M1958 523h1M1938 528h1m5 0h1M1935 530h1m4 0h1M1951 531h1M1941 533h1M1962 534h1M1947 536h1M1939 538h1M1936 540h1M1929 542h1m6 0h1m1 0h1m1 0h1m9 0h1M1924 543h1m2 0h1M1929 545h1m16 0h1M1938 546h1M1931 547h1m17 0h1M1923 548h1m9 0h1M1930 549h1m11 0h1M1917 550h1M1912 551h1m19 0h1M1934 552h1m8 0h1M1928 553h1m9 0h1M1916 554h1m16 0h1M1938 555h1M1926 558h1M1915 559h1m5 0h1m1 0h1m16 0h1M1912 560h1m12 0h1M1920 561h1m2 0h1M1905 562h1M1910 563h1m14 0h1M1923 565h1m10 0h1M1909 567h1M1927 569h1M1914 570h1M1919 571h1M1917 572h1M1914 574h1M1907 581h1M1748 673h1M1748 676h1M1743 677h1M1732 685h1M1724 687h1M1712 690h1M1701 694h1m2 0h1m9 0h1M1685 695h1m1 0h1m5 0h1m82 0h1M1703 696h1M1692 697h1M1671 698h1m12 0h1m17 0h1M1667 700h1m5 0h1m17 0h1M1669 701h1m100 0h1M1686 702h1M1665 704h1m15 0h1m7 0h1M1667 709h1m13 0h1M1648 710h1M1679 711h1m1 0h1m7 0h1m78 0h1M1656 713h1m7 0h1m92 0h1M1675 714h1M1661 715h1M1654 718h1m17 0h1m5 0h1m78 0h1M1674 719h1m1 0h1M1657 720h1m106 0h1M1673 721h1M1667 722h1m95 0h1M1689 723h1M1670 724h1M1678 725h1M1663 726h1m91 0h1M1748 727h1M1649 728h1m24 0h1M1654 729h1M1656 730h1m13 0h1m1 0h1m26 0h1m51 0h1M1644 732h1m92 0h1M1699 733h1M1668 735h1m42 0h1M1670 736h1m19 0h1M1711 737h1m20 0h1m8 0h1M1663 738h1m62 0h1M1705 739h1M1664 740h1m67 0h1m9 0h1M1650 741h1m2 0h1m28 0h1m12 0h1m1 0h1m16 0h1m14 0h1M1684 742h1M1688 743h1m10 0h1m41 0h1M1659 744h1m5 0h1m42 0h1m8 0h1m3 0h1m2 0h1m1 0h1M1670 745h1m59 0h1M1673 747h1m1 0h1m21 0h1m2 0h1m11 0h1M1661 748h1m22 0h1m1 0h1m32 0h1m7 0h1M1652 749h1m36 0h1m26 0h1M1669 750h1M1726 752h1M1663 753h1" stroke="#000" stroke-opacity="1"/>
</g>
<text x="1624.8" y="842.8" font-size="25" text-anchor="middle">0.01</text>
<text x="1593.4" y="803.0" font-size="25" text-anchor="end">0.01</text>
<text x="1729.8" y="842.8" font-size="25" text-anchor="middle">1</text>
<text x="1593.4" y="718.0" font-size="25" text-anchor="end">1</text>
<text x="1833.7" y="842.8" font-size="25" text-anchor="middle">100</text>
<text x="1593.4" y="633.0" font-size="25" text-anchor="end">100</text>
<text x="1940.2" y="842.8" font-size="25" text-anchor="middle">10,000</text>
<text x="1593.4" y="548.0" font-size="25" text-anchor="end">10,000</text>
<path d="M1611.9 487H2004.2V807.8H1611.9ZM1626.0 807.8v12.6M1611.9 796.0h-12.6M1729.8 807.8v12.6M1611.9 711.0h-12.6M1833.7 807.8v12.6M1611.9 626.0h-12.6M1937.5 807.8v12.6M1611.9 541.0h-12.6" fill="none" stroke="#000" stroke-width="1.35"/>
<text transform="translate(1537 664.4) rotate(-90)" font-size="25" text-anchor="middle">T3 RPKM</text>
<text x="1806.7" y="880.5" font-size="25" text-anchor="middle">C RPKM</text>
<circle cx="1786" cy="730.4" r="5.4" fill="#ed1c24"/><circle cx="1786" cy="761.5" r="5.4" fill="#4a4fa2"/>
<text x="1794" y="738.7" font-size="25">DEG up= 3,110</text>
<text x="1794" y="768.6" font-size="25">DEG down= 1,482</text>
</svg></body></html>
